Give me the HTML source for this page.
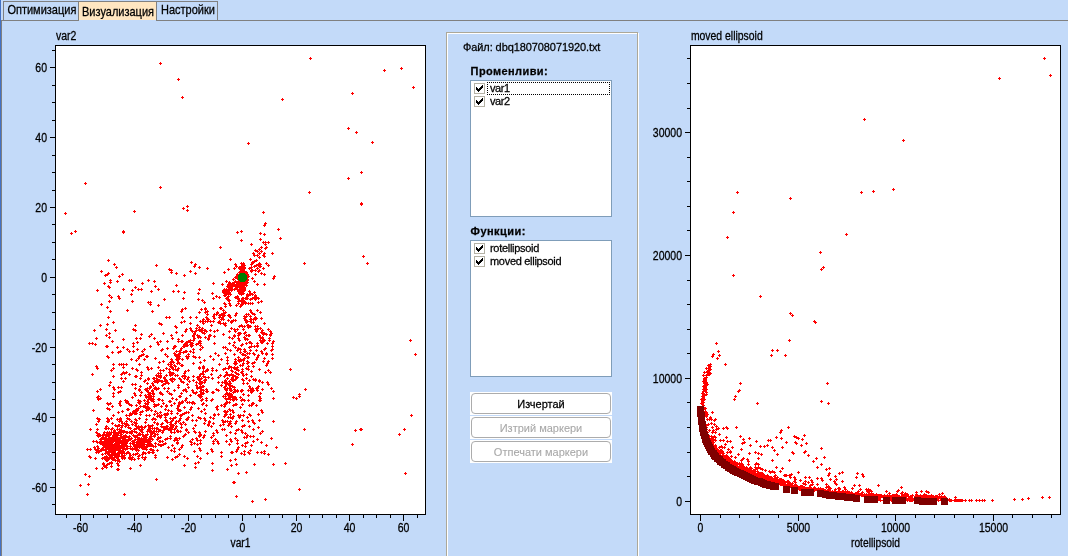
<!DOCTYPE html>
<html lang="bg">
<head>
<meta charset="utf-8">
<title>Визуализация</title>
<style>
html,body{margin:0;padding:0}
body{width:1068px;height:556px;overflow:hidden;position:relative;background:#c3daf9;font-family:"Liberation Sans",sans-serif;font-size:11px;color:#000;line-height:13px;-webkit-text-stroke:0.25px #000}
.abs{position:absolute}
.edge{position:absolute;left:0;top:0;width:1px;height:556px;background:#4371c5}
.line{position:absolute;background:#808080}
.tab{position:absolute;top:1px;height:20px;box-sizing:border-box;border:1px solid #808080;white-space:nowrap}
.tab span{position:absolute;left:0;top:0;transform-origin:0 100%;transform:scaleY(1.12)}
.tab.sel{background:#ffe6c1;border-width:1px 0 0 0;}
.panel{position:absolute;left:446px;top:32px;width:193px;height:540px}
.panel i{position:absolute;box-sizing:border-box;border:1px solid #fff;left:1px;top:1px;width:192px;height:540px}
.panel b{position:absolute;box-sizing:border-box;border:1px solid #aca899;left:0;top:0;width:192px;height:540px}
.lbl{position:absolute;white-space:nowrap;transform-origin:0 80%;transform:scaleY(1.07)}
.bold{font-weight:bold}
.list{position:absolute;left:470px;width:142px;height:137px;box-sizing:border-box;border:1px solid #7f9db9;background:#fff}
.item{position:absolute;left:3px;height:13px;white-space:nowrap}
.cb{position:absolute;left:0;top:1px;width:11px;height:11px;box-sizing:border-box;border:1px solid #b5b2a5;background:#fff}
.cb svg{position:absolute;left:0;top:0}
.item span{position:absolute;left:16px;top:0;line-height:13px;transform-origin:0 80%;transform:scaleY(1.07);letter-spacing:-0.3px}
.focus{position:absolute;left:16px;top:1px;width:123px;height:13px;box-sizing:border-box;border:1px dotted #000}
.btnw{position:absolute;left:470px;width:142px;height:23px;background:#fff}
.btn{position:absolute;left:1px;top:1px;width:140px;height:21px;box-sizing:border-box;border:1px solid #acacac;border-radius:4px;text-align:center;line-height:20px;white-space:nowrap}
.btn span{display:inline-block;transform-origin:50% 80%;transform:scaleY(1.07)}
.dis{color:#a8a8a8;-webkit-text-stroke:0.1px #a8a8a8}
</style>
</head>
<body>
<div class="edge"></div>
<div class="line" style="left:1px;top:20px;width:78px;height:1px"></div>
<div class="line" style="left:156px;top:20px;width:912px;height:1px"></div>
<div class="line" style="left:1px;top:20px;width:1px;height:536px"></div>
<div class="tab" style="left:3px;width:76px"><span style="left:3.4px;top:2px">Оптимизация</span></div>
<div class="tab sel" style="left:79px;width:77px;height:19px"><span style="left:3px;top:4px">Визуализация</span></div>
<div class="tab" style="left:156px;width:62px"><span style="left:4px;top:2px">Настройки</span></div>

<svg width="1068" height="556" viewBox="0 0 1068 556" shape-rendering="crispEdges" style="position:absolute;left:0;top:0" font-family="'Liberation Sans', sans-serif" font-size="11" fill="#000" stroke="#000" stroke-width="0.25">
<rect x="55" y="45" width="371" height="470" fill="#fff" stroke="none"/>
<path d="M65 212h1v1h1v1h-1v1h-1v-1h-1v-1h1zM71 232h1v1h1v1h-1v1h-1v-1h-1v-1h1zM75 230h1v1h1v1h-1v1h-1v-1h-1v-1h1zM80 484h1v1h1v1h-1v1h-1v-1h-1v-1h1zM85 182h1v1h1v1h-1v1h-1v-1h-1v-1h1zM85 473h1v1h1v1h-1v1h-1v-1h-1v-1h1zM87 448h1v1h1v1h-1v1h-1v-1h-1v-1h1zM87 493h1v1h1v1h-1v1h-1v-1h-1v-1h1zM88 483h1v1h1v1h-1v1h-1v-1h-1v-1h1zM89 342h1v1h1v1h-1v1h-1v-1h-1v-1h1zM89 455h1v1h1v1h-1v1h-1v-1h-1v-1h1zM89 475h1v1h1v1h-1v1h-1v-1h-1v-1h1zM90 428h1v1h1v1h-1v1h-1v-1h-1v-1h1zM90 448h1v1h1v1h-1v1h-1v-1h-1v-1h1zM90 456h1v1h1v1h-1v1h-1v-1h-1v-1h1zM92 342h1v1h1v1h-1v1h-1v-1h-1v-1h1zM92 373h1v1h1v1h-1v1h-1v-1h-1v-1h1zM93 409h1v1h1v1h-1v1h-1v-1h-1v-1h1zM93 440h1v1h1v1h-1v1h-1v-1h-1v-1h1zM94 329h1v1h1v1h-1v1h-1v-1h-1v-1h1zM94 446h1v1h1v1h-1v1h-1v-1h-1v-1h1zM95 343h1v1h1v1h-1v1h-1v-1h-1v-1h1zM95 448h1v1h1v1h-1v1h-1v-1h-1v-1h1zM95 457h1v1h1v1h-1v1h-1v-1h-1v-1h1zM96 337h1v1h1v1h-1v1h-1v-1h-1v-1h1zM96 365h1v1h1v1h-1v1h-1v-1h-1v-1h1zM96 423h1v1h1v1h-1v1h-1v-1h-1v-1h1zM96 431h1v1h1v1h-1v1h-1v-1h-1v-1h1zM96 440h1v1h1v1h-1v1h-1v-1h-1v-1h1zM96 449h1v1h1v1h-1v1h-1v-1h-1v-1h1zM96 451h1v1h1v1h-1v1h-1v-1h-1v-1h1zM96 467h1v1h1v1h-1v1h-1v-1h-1v-1h1zM97 289h1v1h1v1h-1v1h-1v-1h-1v-1h1zM97 367h1v1h1v1h-1v1h-1v-1h-1v-1h1zM97 390h1v1h1v1h-1v1h-1v-1h-1v-1h1zM97 396h1v1h1v1h-1v1h-1v-1h-1v-1h1zM97 417h1v1h1v1h-1v1h-1v-1h-1v-1h1zM97 428h1v1h1v1h-1v1h-1v-1h-1v-1h1zM97 432h1v1h1v1h-1v1h-1v-1h-1v-1h1zM97 434h1v1h1v1h-1v1h-1v-1h-1v-1h1zM97 441h1v1h1v1h-1v1h-1v-1h-1v-1h1zM97 445h1v1h1v1h-1v1h-1v-1h-1v-1h1zM97 448h1v1h1v1h-1v1h-1v-1h-1v-1h1zM98 395h1v1h1v1h-1v1h-1v-1h-1v-1h1zM98 398h1v1h1v1h-1v1h-1v-1h-1v-1h1zM98 420h1v1h1v1h-1v1h-1v-1h-1v-1h1zM98 435h1v1h1v1h-1v1h-1v-1h-1v-1h1zM98 447h1v1h1v1h-1v1h-1v-1h-1v-1h1zM98 450h1v1h1v1h-1v1h-1v-1h-1v-1h1zM98 451h1v1h1v1h-1v1h-1v-1h-1v-1h1zM99 418h1v1h1v1h-1v1h-1v-1h-1v-1h1zM99 433h1v1h1v1h-1v1h-1v-1h-1v-1h1zM99 441h1v1h1v1h-1v1h-1v-1h-1v-1h1zM100 324h1v1h1v1h-1v1h-1v-1h-1v-1h1zM100 388h1v1h1v1h-1v1h-1v-1h-1v-1h1zM100 397h1v1h1v1h-1v1h-1v-1h-1v-1h1zM100 434h1v1h1v1h-1v1h-1v-1h-1v-1h1zM100 438h1v1h1v1h-1v1h-1v-1h-1v-1h1zM100 442h1v1h1v1h-1v1h-1v-1h-1v-1h1zM100 449h1v1h1v1h-1v1h-1v-1h-1v-1h1zM101 270h1v1h1v1h-1v1h-1v-1h-1v-1h1zM101 303h1v1h1v1h-1v1h-1v-1h-1v-1h1zM101 438h1v1h1v1h-1v1h-1v-1h-1v-1h1zM101 440h1v1h1v1h-1v1h-1v-1h-1v-1h1zM101 442h1v1h1v1h-1v1h-1v-1h-1v-1h1zM101 448h1v1h1v1h-1v1h-1v-1h-1v-1h1zM101 449h1v1h1v1h-1v1h-1v-1h-1v-1h1zM102 434h1v1h1v1h-1v1h-1v-1h-1v-1h1zM102 436h1v1h1v1h-1v1h-1v-1h-1v-1h1zM102 441h1v1h1v1h-1v1h-1v-1h-1v-1h1zM102 442h1v1h1v1h-1v1h-1v-1h-1v-1h1zM102 447h1v1h1v1h-1v1h-1v-1h-1v-1h1zM102 448h1v1h1v1h-1v1h-1v-1h-1v-1h1zM102 453h1v1h1v1h-1v1h-1v-1h-1v-1h1zM102 457h1v1h1v1h-1v1h-1v-1h-1v-1h1zM102 467h1v1h1v1h-1v1h-1v-1h-1v-1h1zM103 433h1v1h1v1h-1v1h-1v-1h-1v-1h1zM103 436h1v1h1v1h-1v1h-1v-1h-1v-1h1zM103 444h1v1h1v1h-1v1h-1v-1h-1v-1h1zM103 446h1v1h1v1h-1v1h-1v-1h-1v-1h1zM103 448h1v1h1v1h-1v1h-1v-1h-1v-1h1zM103 462h1v1h1v1h-1v1h-1v-1h-1v-1h1zM103 463h1v1h1v1h-1v1h-1v-1h-1v-1h1zM104 282h1v1h1v1h-1v1h-1v-1h-1v-1h1zM104 431h1v1h1v1h-1v1h-1v-1h-1v-1h1zM104 438h1v1h1v1h-1v1h-1v-1h-1v-1h1zM104 440h1v1h1v1h-1v1h-1v-1h-1v-1h1zM104 441h1v1h1v1h-1v1h-1v-1h-1v-1h1zM104 442h1v1h1v1h-1v1h-1v-1h-1v-1h1zM104 444h1v1h1v1h-1v1h-1v-1h-1v-1h1zM104 456h1v1h1v1h-1v1h-1v-1h-1v-1h1zM104 465h1v1h1v1h-1v1h-1v-1h-1v-1h1zM105 274h1v1h1v1h-1v1h-1v-1h-1v-1h1zM105 427h1v1h1v1h-1v1h-1v-1h-1v-1h1zM105 434h1v1h1v1h-1v1h-1v-1h-1v-1h1zM105 437h1v1h1v1h-1v1h-1v-1h-1v-1h1zM105 440h1v1h1v1h-1v1h-1v-1h-1v-1h1zM105 441h1v1h1v1h-1v1h-1v-1h-1v-1h1zM105 443h1v1h1v1h-1v1h-1v-1h-1v-1h1zM105 445h1v1h1v1h-1v1h-1v-1h-1v-1h1zM105 446h1v1h1v1h-1v1h-1v-1h-1v-1h1zM105 448h1v1h1v1h-1v1h-1v-1h-1v-1h1zM105 449h1v1h1v1h-1v1h-1v-1h-1v-1h1zM105 452h1v1h1v1h-1v1h-1v-1h-1v-1h1zM105 458h1v1h1v1h-1v1h-1v-1h-1v-1h1zM106 328h1v1h1v1h-1v1h-1v-1h-1v-1h1zM106 334h1v1h1v1h-1v1h-1v-1h-1v-1h1zM106 345h1v1h1v1h-1v1h-1v-1h-1v-1h1zM106 425h1v1h1v1h-1v1h-1v-1h-1v-1h1zM106 427h1v1h1v1h-1v1h-1v-1h-1v-1h1zM106 433h1v1h1v1h-1v1h-1v-1h-1v-1h1zM106 434h1v1h1v1h-1v1h-1v-1h-1v-1h1zM106 437h1v1h1v1h-1v1h-1v-1h-1v-1h1zM106 440h1v1h1v1h-1v1h-1v-1h-1v-1h1zM106 443h1v1h1v1h-1v1h-1v-1h-1v-1h1zM106 447h1v1h1v1h-1v1h-1v-1h-1v-1h1zM106 450h1v1h1v1h-1v1h-1v-1h-1v-1h1zM106 455h1v1h1v1h-1v1h-1v-1h-1v-1h1zM106 456h1v1h1v1h-1v1h-1v-1h-1v-1h1zM106 459h1v1h1v1h-1v1h-1v-1h-1v-1h1zM106 464h1v1h1v1h-1v1h-1v-1h-1v-1h1zM106 466h1v1h1v1h-1v1h-1v-1h-1v-1h1zM107 273h1v1h1v1h-1v1h-1v-1h-1v-1h1zM107 306h1v1h1v1h-1v1h-1v-1h-1v-1h1zM107 323h1v1h1v1h-1v1h-1v-1h-1v-1h1zM107 345h1v1h1v1h-1v1h-1v-1h-1v-1h1zM107 355h1v1h1v1h-1v1h-1v-1h-1v-1h1zM107 402h1v1h1v1h-1v1h-1v-1h-1v-1h1zM107 407h1v1h1v1h-1v1h-1v-1h-1v-1h1zM107 417h1v1h1v1h-1v1h-1v-1h-1v-1h1zM107 420h1v1h1v1h-1v1h-1v-1h-1v-1h1zM107 431h1v1h1v1h-1v1h-1v-1h-1v-1h1zM107 434h1v1h1v1h-1v1h-1v-1h-1v-1h1zM107 439h1v1h1v1h-1v1h-1v-1h-1v-1h1zM107 441h1v1h1v1h-1v1h-1v-1h-1v-1h1zM107 442h1v1h1v1h-1v1h-1v-1h-1v-1h1zM107 443h1v1h1v1h-1v1h-1v-1h-1v-1h1zM107 444h1v1h1v1h-1v1h-1v-1h-1v-1h1zM107 445h1v1h1v1h-1v1h-1v-1h-1v-1h1zM107 446h1v1h1v1h-1v1h-1v-1h-1v-1h1zM107 452h1v1h1v1h-1v1h-1v-1h-1v-1h1zM107 456h1v1h1v1h-1v1h-1v-1h-1v-1h1zM107 458h1v1h1v1h-1v1h-1v-1h-1v-1h1zM107 459h1v1h1v1h-1v1h-1v-1h-1v-1h1zM107 463h1v1h1v1h-1v1h-1v-1h-1v-1h1zM108 259h1v1h1v1h-1v1h-1v-1h-1v-1h1zM108 272h1v1h1v1h-1v1h-1v-1h-1v-1h1zM108 285h1v1h1v1h-1v1h-1v-1h-1v-1h1zM108 316h1v1h1v1h-1v1h-1v-1h-1v-1h1zM108 356h1v1h1v1h-1v1h-1v-1h-1v-1h1zM108 403h1v1h1v1h-1v1h-1v-1h-1v-1h1zM108 418h1v1h1v1h-1v1h-1v-1h-1v-1h1zM108 419h1v1h1v1h-1v1h-1v-1h-1v-1h1zM108 420h1v1h1v1h-1v1h-1v-1h-1v-1h1zM108 427h1v1h1v1h-1v1h-1v-1h-1v-1h1zM108 434h1v1h1v1h-1v1h-1v-1h-1v-1h1zM108 435h1v1h1v1h-1v1h-1v-1h-1v-1h1zM108 439h1v1h1v1h-1v1h-1v-1h-1v-1h1zM108 440h1v1h1v1h-1v1h-1v-1h-1v-1h1zM108 441h1v1h1v1h-1v1h-1v-1h-1v-1h1zM108 442h1v1h1v1h-1v1h-1v-1h-1v-1h1zM108 446h1v1h1v1h-1v1h-1v-1h-1v-1h1zM108 447h1v1h1v1h-1v1h-1v-1h-1v-1h1zM108 448h1v1h1v1h-1v1h-1v-1h-1v-1h1zM108 450h1v1h1v1h-1v1h-1v-1h-1v-1h1zM108 452h1v1h1v1h-1v1h-1v-1h-1v-1h1zM108 457h1v1h1v1h-1v1h-1v-1h-1v-1h1zM109 286h1v1h1v1h-1v1h-1v-1h-1v-1h1zM109 294h1v1h1v1h-1v1h-1v-1h-1v-1h1zM109 300h1v1h1v1h-1v1h-1v-1h-1v-1h1zM109 332h1v1h1v1h-1v1h-1v-1h-1v-1h1zM109 336h1v1h1v1h-1v1h-1v-1h-1v-1h1zM109 384h1v1h1v1h-1v1h-1v-1h-1v-1h1zM109 408h1v1h1v1h-1v1h-1v-1h-1v-1h1zM109 431h1v1h1v1h-1v1h-1v-1h-1v-1h1zM109 432h1v1h1v1h-1v1h-1v-1h-1v-1h1zM109 433h1v1h1v1h-1v1h-1v-1h-1v-1h1zM109 436h1v1h1v1h-1v1h-1v-1h-1v-1h1zM109 437h1v1h1v1h-1v1h-1v-1h-1v-1h1zM109 438h1v1h1v1h-1v1h-1v-1h-1v-1h1zM109 439h1v1h1v1h-1v1h-1v-1h-1v-1h1zM109 441h1v1h1v1h-1v1h-1v-1h-1v-1h1zM109 442h1v1h1v1h-1v1h-1v-1h-1v-1h1zM109 443h1v1h1v1h-1v1h-1v-1h-1v-1h1zM109 448h1v1h1v1h-1v1h-1v-1h-1v-1h1zM109 449h1v1h1v1h-1v1h-1v-1h-1v-1h1zM109 451h1v1h1v1h-1v1h-1v-1h-1v-1h1zM109 453h1v1h1v1h-1v1h-1v-1h-1v-1h1zM109 454h1v1h1v1h-1v1h-1v-1h-1v-1h1zM109 456h1v1h1v1h-1v1h-1v-1h-1v-1h1zM109 457h1v1h1v1h-1v1h-1v-1h-1v-1h1zM109 462h1v1h1v1h-1v1h-1v-1h-1v-1h1zM110 279h1v1h1v1h-1v1h-1v-1h-1v-1h1zM110 281h1v1h1v1h-1v1h-1v-1h-1v-1h1zM110 310h1v1h1v1h-1v1h-1v-1h-1v-1h1zM110 381h1v1h1v1h-1v1h-1v-1h-1v-1h1zM110 402h1v1h1v1h-1v1h-1v-1h-1v-1h1zM110 432h1v1h1v1h-1v1h-1v-1h-1v-1h1zM110 433h1v1h1v1h-1v1h-1v-1h-1v-1h1zM110 438h1v1h1v1h-1v1h-1v-1h-1v-1h1zM110 439h1v1h1v1h-1v1h-1v-1h-1v-1h1zM110 440h1v1h1v1h-1v1h-1v-1h-1v-1h1zM110 441h1v1h1v1h-1v1h-1v-1h-1v-1h1zM110 442h1v1h1v1h-1v1h-1v-1h-1v-1h1zM110 443h1v1h1v1h-1v1h-1v-1h-1v-1h1zM110 444h1v1h1v1h-1v1h-1v-1h-1v-1h1zM110 445h1v1h1v1h-1v1h-1v-1h-1v-1h1zM110 446h1v1h1v1h-1v1h-1v-1h-1v-1h1zM110 448h1v1h1v1h-1v1h-1v-1h-1v-1h1zM110 449h1v1h1v1h-1v1h-1v-1h-1v-1h1zM110 456h1v1h1v1h-1v1h-1v-1h-1v-1h1zM111 296h1v1h1v1h-1v1h-1v-1h-1v-1h1zM111 369h1v1h1v1h-1v1h-1v-1h-1v-1h1zM111 417h1v1h1v1h-1v1h-1v-1h-1v-1h1zM111 428h1v1h1v1h-1v1h-1v-1h-1v-1h1zM111 431h1v1h1v1h-1v1h-1v-1h-1v-1h1zM111 438h1v1h1v1h-1v1h-1v-1h-1v-1h1zM111 439h1v1h1v1h-1v1h-1v-1h-1v-1h1zM111 440h1v1h1v1h-1v1h-1v-1h-1v-1h1zM111 442h1v1h1v1h-1v1h-1v-1h-1v-1h1zM111 443h1v1h1v1h-1v1h-1v-1h-1v-1h1zM111 444h1v1h1v1h-1v1h-1v-1h-1v-1h1zM111 445h1v1h1v1h-1v1h-1v-1h-1v-1h1zM111 447h1v1h1v1h-1v1h-1v-1h-1v-1h1zM111 448h1v1h1v1h-1v1h-1v-1h-1v-1h1zM111 450h1v1h1v1h-1v1h-1v-1h-1v-1h1zM111 454h1v1h1v1h-1v1h-1v-1h-1v-1h1zM111 461h1v1h1v1h-1v1h-1v-1h-1v-1h1zM111 462h1v1h1v1h-1v1h-1v-1h-1v-1h1zM111 465h1v1h1v1h-1v1h-1v-1h-1v-1h1zM112 340h1v1h1v1h-1v1h-1v-1h-1v-1h1zM112 351h1v1h1v1h-1v1h-1v-1h-1v-1h1zM112 405h1v1h1v1h-1v1h-1v-1h-1v-1h1zM112 422h1v1h1v1h-1v1h-1v-1h-1v-1h1zM112 427h1v1h1v1h-1v1h-1v-1h-1v-1h1zM112 436h1v1h1v1h-1v1h-1v-1h-1v-1h1zM112 439h1v1h1v1h-1v1h-1v-1h-1v-1h1zM112 440h1v1h1v1h-1v1h-1v-1h-1v-1h1zM112 444h1v1h1v1h-1v1h-1v-1h-1v-1h1zM112 446h1v1h1v1h-1v1h-1v-1h-1v-1h1zM112 447h1v1h1v1h-1v1h-1v-1h-1v-1h1zM112 448h1v1h1v1h-1v1h-1v-1h-1v-1h1zM112 450h1v1h1v1h-1v1h-1v-1h-1v-1h1zM112 452h1v1h1v1h-1v1h-1v-1h-1v-1h1zM112 454h1v1h1v1h-1v1h-1v-1h-1v-1h1zM112 456h1v1h1v1h-1v1h-1v-1h-1v-1h1zM112 457h1v1h1v1h-1v1h-1v-1h-1v-1h1zM112 458h1v1h1v1h-1v1h-1v-1h-1v-1h1zM113 321h1v1h1v1h-1v1h-1v-1h-1v-1h1zM113 363h1v1h1v1h-1v1h-1v-1h-1v-1h1zM113 367h1v1h1v1h-1v1h-1v-1h-1v-1h1zM113 375h1v1h1v1h-1v1h-1v-1h-1v-1h1zM113 386h1v1h1v1h-1v1h-1v-1h-1v-1h1zM113 392h1v1h1v1h-1v1h-1v-1h-1v-1h1zM113 395h1v1h1v1h-1v1h-1v-1h-1v-1h1zM113 414h1v1h1v1h-1v1h-1v-1h-1v-1h1zM113 431h1v1h1v1h-1v1h-1v-1h-1v-1h1zM113 434h1v1h1v1h-1v1h-1v-1h-1v-1h1zM113 436h1v1h1v1h-1v1h-1v-1h-1v-1h1zM113 437h1v1h1v1h-1v1h-1v-1h-1v-1h1zM113 438h1v1h1v1h-1v1h-1v-1h-1v-1h1zM113 440h1v1h1v1h-1v1h-1v-1h-1v-1h1zM113 444h1v1h1v1h-1v1h-1v-1h-1v-1h1zM113 445h1v1h1v1h-1v1h-1v-1h-1v-1h1zM113 446h1v1h1v1h-1v1h-1v-1h-1v-1h1zM113 448h1v1h1v1h-1v1h-1v-1h-1v-1h1zM113 449h1v1h1v1h-1v1h-1v-1h-1v-1h1zM113 450h1v1h1v1h-1v1h-1v-1h-1v-1h1zM113 452h1v1h1v1h-1v1h-1v-1h-1v-1h1zM113 453h1v1h1v1h-1v1h-1v-1h-1v-1h1zM113 457h1v1h1v1h-1v1h-1v-1h-1v-1h1zM113 458h1v1h1v1h-1v1h-1v-1h-1v-1h1zM114 263h1v1h1v1h-1v1h-1v-1h-1v-1h1zM114 388h1v1h1v1h-1v1h-1v-1h-1v-1h1zM114 429h1v1h1v1h-1v1h-1v-1h-1v-1h1zM114 433h1v1h1v1h-1v1h-1v-1h-1v-1h1zM114 438h1v1h1v1h-1v1h-1v-1h-1v-1h1zM114 439h1v1h1v1h-1v1h-1v-1h-1v-1h1zM114 445h1v1h1v1h-1v1h-1v-1h-1v-1h1zM114 446h1v1h1v1h-1v1h-1v-1h-1v-1h1zM114 447h1v1h1v1h-1v1h-1v-1h-1v-1h1zM114 448h1v1h1v1h-1v1h-1v-1h-1v-1h1zM114 451h1v1h1v1h-1v1h-1v-1h-1v-1h1zM114 453h1v1h1v1h-1v1h-1v-1h-1v-1h1zM114 456h1v1h1v1h-1v1h-1v-1h-1v-1h1zM115 329h1v1h1v1h-1v1h-1v-1h-1v-1h1zM115 424h1v1h1v1h-1v1h-1v-1h-1v-1h1zM115 431h1v1h1v1h-1v1h-1v-1h-1v-1h1zM115 432h1v1h1v1h-1v1h-1v-1h-1v-1h1zM115 434h1v1h1v1h-1v1h-1v-1h-1v-1h1zM115 435h1v1h1v1h-1v1h-1v-1h-1v-1h1zM115 437h1v1h1v1h-1v1h-1v-1h-1v-1h1zM115 438h1v1h1v1h-1v1h-1v-1h-1v-1h1zM115 440h1v1h1v1h-1v1h-1v-1h-1v-1h1zM115 442h1v1h1v1h-1v1h-1v-1h-1v-1h1zM115 443h1v1h1v1h-1v1h-1v-1h-1v-1h1zM115 444h1v1h1v1h-1v1h-1v-1h-1v-1h1zM115 445h1v1h1v1h-1v1h-1v-1h-1v-1h1zM115 446h1v1h1v1h-1v1h-1v-1h-1v-1h1zM115 448h1v1h1v1h-1v1h-1v-1h-1v-1h1zM115 449h1v1h1v1h-1v1h-1v-1h-1v-1h1zM115 453h1v1h1v1h-1v1h-1v-1h-1v-1h1zM115 455h1v1h1v1h-1v1h-1v-1h-1v-1h1zM115 459h1v1h1v1h-1v1h-1v-1h-1v-1h1zM116 266h1v1h1v1h-1v1h-1v-1h-1v-1h1zM116 433h1v1h1v1h-1v1h-1v-1h-1v-1h1zM116 434h1v1h1v1h-1v1h-1v-1h-1v-1h1zM116 435h1v1h1v1h-1v1h-1v-1h-1v-1h1zM116 438h1v1h1v1h-1v1h-1v-1h-1v-1h1zM116 439h1v1h1v1h-1v1h-1v-1h-1v-1h1zM116 440h1v1h1v1h-1v1h-1v-1h-1v-1h1zM116 442h1v1h1v1h-1v1h-1v-1h-1v-1h1zM116 443h1v1h1v1h-1v1h-1v-1h-1v-1h1zM116 445h1v1h1v1h-1v1h-1v-1h-1v-1h1zM116 446h1v1h1v1h-1v1h-1v-1h-1v-1h1zM116 447h1v1h1v1h-1v1h-1v-1h-1v-1h1zM116 448h1v1h1v1h-1v1h-1v-1h-1v-1h1zM116 453h1v1h1v1h-1v1h-1v-1h-1v-1h1zM116 454h1v1h1v1h-1v1h-1v-1h-1v-1h1zM116 456h1v1h1v1h-1v1h-1v-1h-1v-1h1zM117 280h1v1h1v1h-1v1h-1v-1h-1v-1h1zM117 346h1v1h1v1h-1v1h-1v-1h-1v-1h1zM117 418h1v1h1v1h-1v1h-1v-1h-1v-1h1zM117 425h1v1h1v1h-1v1h-1v-1h-1v-1h1zM117 428h1v1h1v1h-1v1h-1v-1h-1v-1h1zM117 434h1v1h1v1h-1v1h-1v-1h-1v-1h1zM117 437h1v1h1v1h-1v1h-1v-1h-1v-1h1zM117 438h1v1h1v1h-1v1h-1v-1h-1v-1h1zM117 441h1v1h1v1h-1v1h-1v-1h-1v-1h1zM117 442h1v1h1v1h-1v1h-1v-1h-1v-1h1zM117 444h1v1h1v1h-1v1h-1v-1h-1v-1h1zM117 447h1v1h1v1h-1v1h-1v-1h-1v-1h1zM117 448h1v1h1v1h-1v1h-1v-1h-1v-1h1zM117 453h1v1h1v1h-1v1h-1v-1h-1v-1h1zM117 454h1v1h1v1h-1v1h-1v-1h-1v-1h1zM117 455h1v1h1v1h-1v1h-1v-1h-1v-1h1zM117 456h1v1h1v1h-1v1h-1v-1h-1v-1h1zM117 459h1v1h1v1h-1v1h-1v-1h-1v-1h1zM117 462h1v1h1v1h-1v1h-1v-1h-1v-1h1zM117 468h1v1h1v1h-1v1h-1v-1h-1v-1h1zM118 295h1v1h1v1h-1v1h-1v-1h-1v-1h1zM118 351h1v1h1v1h-1v1h-1v-1h-1v-1h1zM118 386h1v1h1v1h-1v1h-1v-1h-1v-1h1zM118 391h1v1h1v1h-1v1h-1v-1h-1v-1h1zM118 411h1v1h1v1h-1v1h-1v-1h-1v-1h1zM118 424h1v1h1v1h-1v1h-1v-1h-1v-1h1zM118 431h1v1h1v1h-1v1h-1v-1h-1v-1h1zM118 432h1v1h1v1h-1v1h-1v-1h-1v-1h1zM118 437h1v1h1v1h-1v1h-1v-1h-1v-1h1zM118 438h1v1h1v1h-1v1h-1v-1h-1v-1h1zM118 440h1v1h1v1h-1v1h-1v-1h-1v-1h1zM118 441h1v1h1v1h-1v1h-1v-1h-1v-1h1zM118 442h1v1h1v1h-1v1h-1v-1h-1v-1h1zM118 444h1v1h1v1h-1v1h-1v-1h-1v-1h1zM118 448h1v1h1v1h-1v1h-1v-1h-1v-1h1zM118 449h1v1h1v1h-1v1h-1v-1h-1v-1h1zM118 451h1v1h1v1h-1v1h-1v-1h-1v-1h1zM118 452h1v1h1v1h-1v1h-1v-1h-1v-1h1zM118 453h1v1h1v1h-1v1h-1v-1h-1v-1h1zM118 454h1v1h1v1h-1v1h-1v-1h-1v-1h1zM118 455h1v1h1v1h-1v1h-1v-1h-1v-1h1zM118 458h1v1h1v1h-1v1h-1v-1h-1v-1h1zM118 464h1v1h1v1h-1v1h-1v-1h-1v-1h1zM118 468h1v1h1v1h-1v1h-1v-1h-1v-1h1zM119 275h1v1h1v1h-1v1h-1v-1h-1v-1h1zM119 297h1v1h1v1h-1v1h-1v-1h-1v-1h1zM119 363h1v1h1v1h-1v1h-1v-1h-1v-1h1zM119 402h1v1h1v1h-1v1h-1v-1h-1v-1h1zM119 420h1v1h1v1h-1v1h-1v-1h-1v-1h1zM119 424h1v1h1v1h-1v1h-1v-1h-1v-1h1zM119 428h1v1h1v1h-1v1h-1v-1h-1v-1h1zM119 440h1v1h1v1h-1v1h-1v-1h-1v-1h1zM119 441h1v1h1v1h-1v1h-1v-1h-1v-1h1zM119 444h1v1h1v1h-1v1h-1v-1h-1v-1h1zM119 445h1v1h1v1h-1v1h-1v-1h-1v-1h1zM119 446h1v1h1v1h-1v1h-1v-1h-1v-1h1zM119 448h1v1h1v1h-1v1h-1v-1h-1v-1h1zM119 449h1v1h1v1h-1v1h-1v-1h-1v-1h1zM119 450h1v1h1v1h-1v1h-1v-1h-1v-1h1zM119 460h1v1h1v1h-1v1h-1v-1h-1v-1h1zM120 350h1v1h1v1h-1v1h-1v-1h-1v-1h1zM120 390h1v1h1v1h-1v1h-1v-1h-1v-1h1zM120 400h1v1h1v1h-1v1h-1v-1h-1v-1h1zM120 404h1v1h1v1h-1v1h-1v-1h-1v-1h1zM120 417h1v1h1v1h-1v1h-1v-1h-1v-1h1zM120 418h1v1h1v1h-1v1h-1v-1h-1v-1h1zM120 419h1v1h1v1h-1v1h-1v-1h-1v-1h1zM120 430h1v1h1v1h-1v1h-1v-1h-1v-1h1zM120 431h1v1h1v1h-1v1h-1v-1h-1v-1h1zM120 434h1v1h1v1h-1v1h-1v-1h-1v-1h1zM120 436h1v1h1v1h-1v1h-1v-1h-1v-1h1zM120 439h1v1h1v1h-1v1h-1v-1h-1v-1h1zM120 447h1v1h1v1h-1v1h-1v-1h-1v-1h1zM120 449h1v1h1v1h-1v1h-1v-1h-1v-1h1zM120 450h1v1h1v1h-1v1h-1v-1h-1v-1h1zM121 363h1v1h1v1h-1v1h-1v-1h-1v-1h1zM121 373h1v1h1v1h-1v1h-1v-1h-1v-1h1zM121 377h1v1h1v1h-1v1h-1v-1h-1v-1h1zM121 386h1v1h1v1h-1v1h-1v-1h-1v-1h1zM121 420h1v1h1v1h-1v1h-1v-1h-1v-1h1zM121 426h1v1h1v1h-1v1h-1v-1h-1v-1h1zM121 429h1v1h1v1h-1v1h-1v-1h-1v-1h1zM121 431h1v1h1v1h-1v1h-1v-1h-1v-1h1zM121 433h1v1h1v1h-1v1h-1v-1h-1v-1h1zM121 435h1v1h1v1h-1v1h-1v-1h-1v-1h1zM121 440h1v1h1v1h-1v1h-1v-1h-1v-1h1zM121 441h1v1h1v1h-1v1h-1v-1h-1v-1h1zM121 442h1v1h1v1h-1v1h-1v-1h-1v-1h1zM121 445h1v1h1v1h-1v1h-1v-1h-1v-1h1zM121 451h1v1h1v1h-1v1h-1v-1h-1v-1h1zM121 452h1v1h1v1h-1v1h-1v-1h-1v-1h1zM121 455h1v1h1v1h-1v1h-1v-1h-1v-1h1zM122 273h1v1h1v1h-1v1h-1v-1h-1v-1h1zM122 372h1v1h1v1h-1v1h-1v-1h-1v-1h1zM122 410h1v1h1v1h-1v1h-1v-1h-1v-1h1zM122 422h1v1h1v1h-1v1h-1v-1h-1v-1h1zM122 424h1v1h1v1h-1v1h-1v-1h-1v-1h1zM122 437h1v1h1v1h-1v1h-1v-1h-1v-1h1zM122 442h1v1h1v1h-1v1h-1v-1h-1v-1h1zM122 445h1v1h1v1h-1v1h-1v-1h-1v-1h1zM122 446h1v1h1v1h-1v1h-1v-1h-1v-1h1zM122 449h1v1h1v1h-1v1h-1v-1h-1v-1h1zM122 454h1v1h1v1h-1v1h-1v-1h-1v-1h1zM122 457h1v1h1v1h-1v1h-1v-1h-1v-1h1zM123 230h1v1h1v1h-1v1h-1v-1h-1v-1h1zM123 231h1v1h1v1h-1v1h-1v-1h-1v-1h1zM123 288h1v1h1v1h-1v1h-1v-1h-1v-1h1zM123 338h1v1h1v1h-1v1h-1v-1h-1v-1h1zM123 346h1v1h1v1h-1v1h-1v-1h-1v-1h1zM123 363h1v1h1v1h-1v1h-1v-1h-1v-1h1zM123 366h1v1h1v1h-1v1h-1v-1h-1v-1h1zM123 371h1v1h1v1h-1v1h-1v-1h-1v-1h1zM123 380h1v1h1v1h-1v1h-1v-1h-1v-1h1zM123 430h1v1h1v1h-1v1h-1v-1h-1v-1h1zM123 431h1v1h1v1h-1v1h-1v-1h-1v-1h1zM123 435h1v1h1v1h-1v1h-1v-1h-1v-1h1zM123 436h1v1h1v1h-1v1h-1v-1h-1v-1h1zM123 437h1v1h1v1h-1v1h-1v-1h-1v-1h1zM123 438h1v1h1v1h-1v1h-1v-1h-1v-1h1zM123 439h1v1h1v1h-1v1h-1v-1h-1v-1h1zM123 440h1v1h1v1h-1v1h-1v-1h-1v-1h1zM123 441h1v1h1v1h-1v1h-1v-1h-1v-1h1zM123 445h1v1h1v1h-1v1h-1v-1h-1v-1h1zM123 447h1v1h1v1h-1v1h-1v-1h-1v-1h1zM123 450h1v1h1v1h-1v1h-1v-1h-1v-1h1zM123 455h1v1h1v1h-1v1h-1v-1h-1v-1h1zM124 372h1v1h1v1h-1v1h-1v-1h-1v-1h1zM124 422h1v1h1v1h-1v1h-1v-1h-1v-1h1zM124 430h1v1h1v1h-1v1h-1v-1h-1v-1h1zM124 436h1v1h1v1h-1v1h-1v-1h-1v-1h1zM124 439h1v1h1v1h-1v1h-1v-1h-1v-1h1zM124 443h1v1h1v1h-1v1h-1v-1h-1v-1h1zM124 445h1v1h1v1h-1v1h-1v-1h-1v-1h1zM124 452h1v1h1v1h-1v1h-1v-1h-1v-1h1zM124 454h1v1h1v1h-1v1h-1v-1h-1v-1h1zM124 456h1v1h1v1h-1v1h-1v-1h-1v-1h1zM124 457h1v1h1v1h-1v1h-1v-1h-1v-1h1zM124 493h1v1h1v1h-1v1h-1v-1h-1v-1h1zM125 377h1v1h1v1h-1v1h-1v-1h-1v-1h1zM125 399h1v1h1v1h-1v1h-1v-1h-1v-1h1zM125 425h1v1h1v1h-1v1h-1v-1h-1v-1h1zM125 434h1v1h1v1h-1v1h-1v-1h-1v-1h1zM125 438h1v1h1v1h-1v1h-1v-1h-1v-1h1zM125 441h1v1h1v1h-1v1h-1v-1h-1v-1h1zM125 442h1v1h1v1h-1v1h-1v-1h-1v-1h1zM125 443h1v1h1v1h-1v1h-1v-1h-1v-1h1zM125 444h1v1h1v1h-1v1h-1v-1h-1v-1h1zM125 448h1v1h1v1h-1v1h-1v-1h-1v-1h1zM126 363h1v1h1v1h-1v1h-1v-1h-1v-1h1zM126 371h1v1h1v1h-1v1h-1v-1h-1v-1h1zM126 401h1v1h1v1h-1v1h-1v-1h-1v-1h1zM126 414h1v1h1v1h-1v1h-1v-1h-1v-1h1zM126 420h1v1h1v1h-1v1h-1v-1h-1v-1h1zM126 423h1v1h1v1h-1v1h-1v-1h-1v-1h1zM126 431h1v1h1v1h-1v1h-1v-1h-1v-1h1zM126 435h1v1h1v1h-1v1h-1v-1h-1v-1h1zM126 441h1v1h1v1h-1v1h-1v-1h-1v-1h1zM126 442h1v1h1v1h-1v1h-1v-1h-1v-1h1zM126 447h1v1h1v1h-1v1h-1v-1h-1v-1h1zM126 452h1v1h1v1h-1v1h-1v-1h-1v-1h1zM127 309h1v1h1v1h-1v1h-1v-1h-1v-1h1zM127 348h1v1h1v1h-1v1h-1v-1h-1v-1h1zM127 400h1v1h1v1h-1v1h-1v-1h-1v-1h1zM127 408h1v1h1v1h-1v1h-1v-1h-1v-1h1zM127 417h1v1h1v1h-1v1h-1v-1h-1v-1h1zM127 423h1v1h1v1h-1v1h-1v-1h-1v-1h1zM127 431h1v1h1v1h-1v1h-1v-1h-1v-1h1zM127 439h1v1h1v1h-1v1h-1v-1h-1v-1h1zM127 440h1v1h1v1h-1v1h-1v-1h-1v-1h1zM127 445h1v1h1v1h-1v1h-1v-1h-1v-1h1zM127 447h1v1h1v1h-1v1h-1v-1h-1v-1h1zM127 451h1v1h1v1h-1v1h-1v-1h-1v-1h1zM128 402h1v1h1v1h-1v1h-1v-1h-1v-1h1zM128 408h1v1h1v1h-1v1h-1v-1h-1v-1h1zM128 424h1v1h1v1h-1v1h-1v-1h-1v-1h1zM128 426h1v1h1v1h-1v1h-1v-1h-1v-1h1zM128 436h1v1h1v1h-1v1h-1v-1h-1v-1h1zM128 439h1v1h1v1h-1v1h-1v-1h-1v-1h1zM128 451h1v1h1v1h-1v1h-1v-1h-1v-1h1zM129 279h1v1h1v1h-1v1h-1v-1h-1v-1h1zM129 350h1v1h1v1h-1v1h-1v-1h-1v-1h1zM129 373h1v1h1v1h-1v1h-1v-1h-1v-1h1zM129 403h1v1h1v1h-1v1h-1v-1h-1v-1h1zM129 414h1v1h1v1h-1v1h-1v-1h-1v-1h1zM129 418h1v1h1v1h-1v1h-1v-1h-1v-1h1zM129 431h1v1h1v1h-1v1h-1v-1h-1v-1h1zM129 435h1v1h1v1h-1v1h-1v-1h-1v-1h1zM129 438h1v1h1v1h-1v1h-1v-1h-1v-1h1zM129 452h1v1h1v1h-1v1h-1v-1h-1v-1h1zM129 456h1v1h1v1h-1v1h-1v-1h-1v-1h1zM129 457h1v1h1v1h-1v1h-1v-1h-1v-1h1zM130 412h1v1h1v1h-1v1h-1v-1h-1v-1h1zM130 427h1v1h1v1h-1v1h-1v-1h-1v-1h1zM130 438h1v1h1v1h-1v1h-1v-1h-1v-1h1zM130 442h1v1h1v1h-1v1h-1v-1h-1v-1h1zM130 445h1v1h1v1h-1v1h-1v-1h-1v-1h1zM130 447h1v1h1v1h-1v1h-1v-1h-1v-1h1zM130 454h1v1h1v1h-1v1h-1v-1h-1v-1h1zM130 457h1v1h1v1h-1v1h-1v-1h-1v-1h1zM130 467h1v1h1v1h-1v1h-1v-1h-1v-1h1zM131 279h1v1h1v1h-1v1h-1v-1h-1v-1h1zM131 293h1v1h1v1h-1v1h-1v-1h-1v-1h1zM131 358h1v1h1v1h-1v1h-1v-1h-1v-1h1zM131 404h1v1h1v1h-1v1h-1v-1h-1v-1h1zM131 413h1v1h1v1h-1v1h-1v-1h-1v-1h1zM131 420h1v1h1v1h-1v1h-1v-1h-1v-1h1zM131 430h1v1h1v1h-1v1h-1v-1h-1v-1h1zM131 432h1v1h1v1h-1v1h-1v-1h-1v-1h1zM131 437h1v1h1v1h-1v1h-1v-1h-1v-1h1zM131 458h1v1h1v1h-1v1h-1v-1h-1v-1h1zM132 289h1v1h1v1h-1v1h-1v-1h-1v-1h1zM132 300h1v1h1v1h-1v1h-1v-1h-1v-1h1zM132 367h1v1h1v1h-1v1h-1v-1h-1v-1h1zM132 383h1v1h1v1h-1v1h-1v-1h-1v-1h1zM132 396h1v1h1v1h-1v1h-1v-1h-1v-1h1zM132 412h1v1h1v1h-1v1h-1v-1h-1v-1h1zM132 423h1v1h1v1h-1v1h-1v-1h-1v-1h1zM132 430h1v1h1v1h-1v1h-1v-1h-1v-1h1zM132 440h1v1h1v1h-1v1h-1v-1h-1v-1h1zM132 442h1v1h1v1h-1v1h-1v-1h-1v-1h1zM132 447h1v1h1v1h-1v1h-1v-1h-1v-1h1zM132 448h1v1h1v1h-1v1h-1v-1h-1v-1h1zM132 456h1v1h1v1h-1v1h-1v-1h-1v-1h1zM133 328h1v1h1v1h-1v1h-1v-1h-1v-1h1zM133 342h1v1h1v1h-1v1h-1v-1h-1v-1h1zM133 345h1v1h1v1h-1v1h-1v-1h-1v-1h1zM133 350h1v1h1v1h-1v1h-1v-1h-1v-1h1zM133 410h1v1h1v1h-1v1h-1v-1h-1v-1h1zM133 434h1v1h1v1h-1v1h-1v-1h-1v-1h1zM133 440h1v1h1v1h-1v1h-1v-1h-1v-1h1zM133 443h1v1h1v1h-1v1h-1v-1h-1v-1h1zM133 453h1v1h1v1h-1v1h-1v-1h-1v-1h1zM134 210h1v1h1v1h-1v1h-1v-1h-1v-1h1zM134 392h1v1h1v1h-1v1h-1v-1h-1v-1h1zM134 410h1v1h1v1h-1v1h-1v-1h-1v-1h1zM134 412h1v1h1v1h-1v1h-1v-1h-1v-1h1zM134 421h1v1h1v1h-1v1h-1v-1h-1v-1h1zM134 428h1v1h1v1h-1v1h-1v-1h-1v-1h1zM134 430h1v1h1v1h-1v1h-1v-1h-1v-1h1zM134 439h1v1h1v1h-1v1h-1v-1h-1v-1h1zM134 441h1v1h1v1h-1v1h-1v-1h-1v-1h1zM134 445h1v1h1v1h-1v1h-1v-1h-1v-1h1zM134 447h1v1h1v1h-1v1h-1v-1h-1v-1h1zM134 458h1v1h1v1h-1v1h-1v-1h-1v-1h1zM135 286h1v1h1v1h-1v1h-1v-1h-1v-1h1zM135 324h1v1h1v1h-1v1h-1v-1h-1v-1h1zM135 329h1v1h1v1h-1v1h-1v-1h-1v-1h1zM135 375h1v1h1v1h-1v1h-1v-1h-1v-1h1zM135 383h1v1h1v1h-1v1h-1v-1h-1v-1h1zM135 387h1v1h1v1h-1v1h-1v-1h-1v-1h1zM135 394h1v1h1v1h-1v1h-1v-1h-1v-1h1zM135 412h1v1h1v1h-1v1h-1v-1h-1v-1h1zM135 418h1v1h1v1h-1v1h-1v-1h-1v-1h1zM135 424h1v1h1v1h-1v1h-1v-1h-1v-1h1zM135 435h1v1h1v1h-1v1h-1v-1h-1v-1h1zM135 436h1v1h1v1h-1v1h-1v-1h-1v-1h1zM135 438h1v1h1v1h-1v1h-1v-1h-1v-1h1zM135 444h1v1h1v1h-1v1h-1v-1h-1v-1h1zM135 445h1v1h1v1h-1v1h-1v-1h-1v-1h1zM135 447h1v1h1v1h-1v1h-1v-1h-1v-1h1zM135 453h1v1h1v1h-1v1h-1v-1h-1v-1h1zM136 337h1v1h1v1h-1v1h-1v-1h-1v-1h1zM136 359h1v1h1v1h-1v1h-1v-1h-1v-1h1zM136 368h1v1h1v1h-1v1h-1v-1h-1v-1h1zM136 375h1v1h1v1h-1v1h-1v-1h-1v-1h1zM136 404h1v1h1v1h-1v1h-1v-1h-1v-1h1zM136 408h1v1h1v1h-1v1h-1v-1h-1v-1h1zM136 409h1v1h1v1h-1v1h-1v-1h-1v-1h1zM136 412h1v1h1v1h-1v1h-1v-1h-1v-1h1zM136 419h1v1h1v1h-1v1h-1v-1h-1v-1h1zM136 422h1v1h1v1h-1v1h-1v-1h-1v-1h1zM136 425h1v1h1v1h-1v1h-1v-1h-1v-1h1zM136 427h1v1h1v1h-1v1h-1v-1h-1v-1h1zM136 431h1v1h1v1h-1v1h-1v-1h-1v-1h1zM136 441h1v1h1v1h-1v1h-1v-1h-1v-1h1zM136 444h1v1h1v1h-1v1h-1v-1h-1v-1h1zM136 449h1v1h1v1h-1v1h-1v-1h-1v-1h1zM137 341h1v1h1v1h-1v1h-1v-1h-1v-1h1zM137 348h1v1h1v1h-1v1h-1v-1h-1v-1h1zM137 369h1v1h1v1h-1v1h-1v-1h-1v-1h1zM137 409h1v1h1v1h-1v1h-1v-1h-1v-1h1zM137 434h1v1h1v1h-1v1h-1v-1h-1v-1h1zM137 436h1v1h1v1h-1v1h-1v-1h-1v-1h1zM137 438h1v1h1v1h-1v1h-1v-1h-1v-1h1zM137 440h1v1h1v1h-1v1h-1v-1h-1v-1h1zM137 444h1v1h1v1h-1v1h-1v-1h-1v-1h1zM137 445h1v1h1v1h-1v1h-1v-1h-1v-1h1zM137 446h1v1h1v1h-1v1h-1v-1h-1v-1h1zM137 448h1v1h1v1h-1v1h-1v-1h-1v-1h1zM137 452h1v1h1v1h-1v1h-1v-1h-1v-1h1zM138 288h1v1h1v1h-1v1h-1v-1h-1v-1h1zM138 357h1v1h1v1h-1v1h-1v-1h-1v-1h1zM138 399h1v1h1v1h-1v1h-1v-1h-1v-1h1zM138 401h1v1h1v1h-1v1h-1v-1h-1v-1h1zM138 407h1v1h1v1h-1v1h-1v-1h-1v-1h1zM138 425h1v1h1v1h-1v1h-1v-1h-1v-1h1zM138 426h1v1h1v1h-1v1h-1v-1h-1v-1h1zM138 438h1v1h1v1h-1v1h-1v-1h-1v-1h1zM138 442h1v1h1v1h-1v1h-1v-1h-1v-1h1zM138 445h1v1h1v1h-1v1h-1v-1h-1v-1h1zM138 449h1v1h1v1h-1v1h-1v-1h-1v-1h1zM138 455h1v1h1v1h-1v1h-1v-1h-1v-1h1zM138 457h1v1h1v1h-1v1h-1v-1h-1v-1h1zM139 355h1v1h1v1h-1v1h-1v-1h-1v-1h1zM139 363h1v1h1v1h-1v1h-1v-1h-1v-1h1zM139 388h1v1h1v1h-1v1h-1v-1h-1v-1h1zM139 389h1v1h1v1h-1v1h-1v-1h-1v-1h1zM139 402h1v1h1v1h-1v1h-1v-1h-1v-1h1zM139 417h1v1h1v1h-1v1h-1v-1h-1v-1h1zM139 428h1v1h1v1h-1v1h-1v-1h-1v-1h1zM139 432h1v1h1v1h-1v1h-1v-1h-1v-1h1zM139 433h1v1h1v1h-1v1h-1v-1h-1v-1h1zM139 437h1v1h1v1h-1v1h-1v-1h-1v-1h1zM139 439h1v1h1v1h-1v1h-1v-1h-1v-1h1zM139 441h1v1h1v1h-1v1h-1v-1h-1v-1h1zM139 442h1v1h1v1h-1v1h-1v-1h-1v-1h1zM139 444h1v1h1v1h-1v1h-1v-1h-1v-1h1zM139 446h1v1h1v1h-1v1h-1v-1h-1v-1h1zM139 454h1v1h1v1h-1v1h-1v-1h-1v-1h1zM140 337h1v1h1v1h-1v1h-1v-1h-1v-1h1zM140 377h1v1h1v1h-1v1h-1v-1h-1v-1h1zM140 385h1v1h1v1h-1v1h-1v-1h-1v-1h1zM140 394h1v1h1v1h-1v1h-1v-1h-1v-1h1zM140 400h1v1h1v1h-1v1h-1v-1h-1v-1h1zM140 405h1v1h1v1h-1v1h-1v-1h-1v-1h1zM140 411h1v1h1v1h-1v1h-1v-1h-1v-1h1zM140 413h1v1h1v1h-1v1h-1v-1h-1v-1h1zM140 429h1v1h1v1h-1v1h-1v-1h-1v-1h1zM140 433h1v1h1v1h-1v1h-1v-1h-1v-1h1zM140 438h1v1h1v1h-1v1h-1v-1h-1v-1h1zM140 439h1v1h1v1h-1v1h-1v-1h-1v-1h1zM140 442h1v1h1v1h-1v1h-1v-1h-1v-1h1zM140 443h1v1h1v1h-1v1h-1v-1h-1v-1h1zM140 464h1v1h1v1h-1v1h-1v-1h-1v-1h1zM141 288h1v1h1v1h-1v1h-1v-1h-1v-1h1zM141 333h1v1h1v1h-1v1h-1v-1h-1v-1h1zM141 354h1v1h1v1h-1v1h-1v-1h-1v-1h1zM141 371h1v1h1v1h-1v1h-1v-1h-1v-1h1zM141 374h1v1h1v1h-1v1h-1v-1h-1v-1h1zM141 391h1v1h1v1h-1v1h-1v-1h-1v-1h1zM141 425h1v1h1v1h-1v1h-1v-1h-1v-1h1zM141 426h1v1h1v1h-1v1h-1v-1h-1v-1h1zM141 430h1v1h1v1h-1v1h-1v-1h-1v-1h1zM141 437h1v1h1v1h-1v1h-1v-1h-1v-1h1zM141 440h1v1h1v1h-1v1h-1v-1h-1v-1h1zM141 442h1v1h1v1h-1v1h-1v-1h-1v-1h1zM141 445h1v1h1v1h-1v1h-1v-1h-1v-1h1zM142 282h1v1h1v1h-1v1h-1v-1h-1v-1h1zM142 350h1v1h1v1h-1v1h-1v-1h-1v-1h1zM142 410h1v1h1v1h-1v1h-1v-1h-1v-1h1zM142 426h1v1h1v1h-1v1h-1v-1h-1v-1h1zM142 428h1v1h1v1h-1v1h-1v-1h-1v-1h1zM142 431h1v1h1v1h-1v1h-1v-1h-1v-1h1zM142 433h1v1h1v1h-1v1h-1v-1h-1v-1h1zM142 440h1v1h1v1h-1v1h-1v-1h-1v-1h1zM142 442h1v1h1v1h-1v1h-1v-1h-1v-1h1zM142 446h1v1h1v1h-1v1h-1v-1h-1v-1h1zM142 447h1v1h1v1h-1v1h-1v-1h-1v-1h1zM142 453h1v1h1v1h-1v1h-1v-1h-1v-1h1zM142 456h1v1h1v1h-1v1h-1v-1h-1v-1h1zM143 353h1v1h1v1h-1v1h-1v-1h-1v-1h1zM143 405h1v1h1v1h-1v1h-1v-1h-1v-1h1zM143 434h1v1h1v1h-1v1h-1v-1h-1v-1h1zM143 435h1v1h1v1h-1v1h-1v-1h-1v-1h1zM143 438h1v1h1v1h-1v1h-1v-1h-1v-1h1zM143 444h1v1h1v1h-1v1h-1v-1h-1v-1h1zM143 447h1v1h1v1h-1v1h-1v-1h-1v-1h1zM143 451h1v1h1v1h-1v1h-1v-1h-1v-1h1zM143 452h1v1h1v1h-1v1h-1v-1h-1v-1h1zM144 348h1v1h1v1h-1v1h-1v-1h-1v-1h1zM144 358h1v1h1v1h-1v1h-1v-1h-1v-1h1zM144 380h1v1h1v1h-1v1h-1v-1h-1v-1h1zM144 399h1v1h1v1h-1v1h-1v-1h-1v-1h1zM144 405h1v1h1v1h-1v1h-1v-1h-1v-1h1zM144 426h1v1h1v1h-1v1h-1v-1h-1v-1h1zM144 435h1v1h1v1h-1v1h-1v-1h-1v-1h1zM144 438h1v1h1v1h-1v1h-1v-1h-1v-1h1zM144 441h1v1h1v1h-1v1h-1v-1h-1v-1h1zM144 443h1v1h1v1h-1v1h-1v-1h-1v-1h1zM144 445h1v1h1v1h-1v1h-1v-1h-1v-1h1zM144 446h1v1h1v1h-1v1h-1v-1h-1v-1h1zM144 447h1v1h1v1h-1v1h-1v-1h-1v-1h1zM144 458h1v1h1v1h-1v1h-1v-1h-1v-1h1zM145 379h1v1h1v1h-1v1h-1v-1h-1v-1h1zM145 388h1v1h1v1h-1v1h-1v-1h-1v-1h1zM145 394h1v1h1v1h-1v1h-1v-1h-1v-1h1zM145 402h1v1h1v1h-1v1h-1v-1h-1v-1h1zM145 405h1v1h1v1h-1v1h-1v-1h-1v-1h1zM145 421h1v1h1v1h-1v1h-1v-1h-1v-1h1zM145 425h1v1h1v1h-1v1h-1v-1h-1v-1h1zM145 434h1v1h1v1h-1v1h-1v-1h-1v-1h1zM145 436h1v1h1v1h-1v1h-1v-1h-1v-1h1zM145 439h1v1h1v1h-1v1h-1v-1h-1v-1h1zM145 447h1v1h1v1h-1v1h-1v-1h-1v-1h1zM145 452h1v1h1v1h-1v1h-1v-1h-1v-1h1zM145 456h1v1h1v1h-1v1h-1v-1h-1v-1h1zM146 355h1v1h1v1h-1v1h-1v-1h-1v-1h1zM146 395h1v1h1v1h-1v1h-1v-1h-1v-1h1zM146 396h1v1h1v1h-1v1h-1v-1h-1v-1h1zM146 407h1v1h1v1h-1v1h-1v-1h-1v-1h1zM146 409h1v1h1v1h-1v1h-1v-1h-1v-1h1zM146 414h1v1h1v1h-1v1h-1v-1h-1v-1h1zM146 418h1v1h1v1h-1v1h-1v-1h-1v-1h1zM146 436h1v1h1v1h-1v1h-1v-1h-1v-1h1zM146 438h1v1h1v1h-1v1h-1v-1h-1v-1h1zM146 445h1v1h1v1h-1v1h-1v-1h-1v-1h1zM146 448h1v1h1v1h-1v1h-1v-1h-1v-1h1zM147 355h1v1h1v1h-1v1h-1v-1h-1v-1h1zM147 366h1v1h1v1h-1v1h-1v-1h-1v-1h1zM147 382h1v1h1v1h-1v1h-1v-1h-1v-1h1zM147 387h1v1h1v1h-1v1h-1v-1h-1v-1h1zM147 389h1v1h1v1h-1v1h-1v-1h-1v-1h1zM147 390h1v1h1v1h-1v1h-1v-1h-1v-1h1zM147 400h1v1h1v1h-1v1h-1v-1h-1v-1h1zM147 403h1v1h1v1h-1v1h-1v-1h-1v-1h1zM147 405h1v1h1v1h-1v1h-1v-1h-1v-1h1zM147 407h1v1h1v1h-1v1h-1v-1h-1v-1h1zM147 430h1v1h1v1h-1v1h-1v-1h-1v-1h1zM147 433h1v1h1v1h-1v1h-1v-1h-1v-1h1zM147 439h1v1h1v1h-1v1h-1v-1h-1v-1h1zM147 440h1v1h1v1h-1v1h-1v-1h-1v-1h1zM147 441h1v1h1v1h-1v1h-1v-1h-1v-1h1zM147 443h1v1h1v1h-1v1h-1v-1h-1v-1h1zM147 445h1v1h1v1h-1v1h-1v-1h-1v-1h1zM148 279h1v1h1v1h-1v1h-1v-1h-1v-1h1zM148 301h1v1h1v1h-1v1h-1v-1h-1v-1h1zM148 368h1v1h1v1h-1v1h-1v-1h-1v-1h1zM148 377h1v1h1v1h-1v1h-1v-1h-1v-1h1zM148 378h1v1h1v1h-1v1h-1v-1h-1v-1h1zM148 391h1v1h1v1h-1v1h-1v-1h-1v-1h1zM148 393h1v1h1v1h-1v1h-1v-1h-1v-1h1zM148 396h1v1h1v1h-1v1h-1v-1h-1v-1h1zM148 398h1v1h1v1h-1v1h-1v-1h-1v-1h1zM148 401h1v1h1v1h-1v1h-1v-1h-1v-1h1zM148 406h1v1h1v1h-1v1h-1v-1h-1v-1h1zM148 408h1v1h1v1h-1v1h-1v-1h-1v-1h1zM148 424h1v1h1v1h-1v1h-1v-1h-1v-1h1zM148 428h1v1h1v1h-1v1h-1v-1h-1v-1h1zM148 439h1v1h1v1h-1v1h-1v-1h-1v-1h1zM148 442h1v1h1v1h-1v1h-1v-1h-1v-1h1zM148 443h1v1h1v1h-1v1h-1v-1h-1v-1h1zM148 451h1v1h1v1h-1v1h-1v-1h-1v-1h1zM149 335h1v1h1v1h-1v1h-1v-1h-1v-1h1zM149 387h1v1h1v1h-1v1h-1v-1h-1v-1h1zM149 393h1v1h1v1h-1v1h-1v-1h-1v-1h1zM149 394h1v1h1v1h-1v1h-1v-1h-1v-1h1zM149 396h1v1h1v1h-1v1h-1v-1h-1v-1h1zM149 407h1v1h1v1h-1v1h-1v-1h-1v-1h1zM149 414h1v1h1v1h-1v1h-1v-1h-1v-1h1zM149 426h1v1h1v1h-1v1h-1v-1h-1v-1h1zM149 427h1v1h1v1h-1v1h-1v-1h-1v-1h1zM149 428h1v1h1v1h-1v1h-1v-1h-1v-1h1zM149 429h1v1h1v1h-1v1h-1v-1h-1v-1h1zM149 430h1v1h1v1h-1v1h-1v-1h-1v-1h1zM149 437h1v1h1v1h-1v1h-1v-1h-1v-1h1zM149 442h1v1h1v1h-1v1h-1v-1h-1v-1h1zM149 444h1v1h1v1h-1v1h-1v-1h-1v-1h1zM149 451h1v1h1v1h-1v1h-1v-1h-1v-1h1zM150 301h1v1h1v1h-1v1h-1v-1h-1v-1h1zM150 303h1v1h1v1h-1v1h-1v-1h-1v-1h1zM150 345h1v1h1v1h-1v1h-1v-1h-1v-1h1zM150 385h1v1h1v1h-1v1h-1v-1h-1v-1h1zM150 386h1v1h1v1h-1v1h-1v-1h-1v-1h1zM150 392h1v1h1v1h-1v1h-1v-1h-1v-1h1zM150 397h1v1h1v1h-1v1h-1v-1h-1v-1h1zM150 425h1v1h1v1h-1v1h-1v-1h-1v-1h1zM150 429h1v1h1v1h-1v1h-1v-1h-1v-1h1zM150 430h1v1h1v1h-1v1h-1v-1h-1v-1h1zM150 435h1v1h1v1h-1v1h-1v-1h-1v-1h1zM150 436h1v1h1v1h-1v1h-1v-1h-1v-1h1zM150 438h1v1h1v1h-1v1h-1v-1h-1v-1h1zM150 440h1v1h1v1h-1v1h-1v-1h-1v-1h1zM150 442h1v1h1v1h-1v1h-1v-1h-1v-1h1zM150 444h1v1h1v1h-1v1h-1v-1h-1v-1h1zM150 448h1v1h1v1h-1v1h-1v-1h-1v-1h1zM151 290h1v1h1v1h-1v1h-1v-1h-1v-1h1zM151 333h1v1h1v1h-1v1h-1v-1h-1v-1h1zM151 367h1v1h1v1h-1v1h-1v-1h-1v-1h1zM151 395h1v1h1v1h-1v1h-1v-1h-1v-1h1zM151 397h1v1h1v1h-1v1h-1v-1h-1v-1h1zM151 398h1v1h1v1h-1v1h-1v-1h-1v-1h1zM151 399h1v1h1v1h-1v1h-1v-1h-1v-1h1zM151 409h1v1h1v1h-1v1h-1v-1h-1v-1h1zM151 432h1v1h1v1h-1v1h-1v-1h-1v-1h1zM151 433h1v1h1v1h-1v1h-1v-1h-1v-1h1zM151 435h1v1h1v1h-1v1h-1v-1h-1v-1h1zM151 437h1v1h1v1h-1v1h-1v-1h-1v-1h1zM151 444h1v1h1v1h-1v1h-1v-1h-1v-1h1zM151 448h1v1h1v1h-1v1h-1v-1h-1v-1h1zM152 310h1v1h1v1h-1v1h-1v-1h-1v-1h1zM152 382h1v1h1v1h-1v1h-1v-1h-1v-1h1zM152 389h1v1h1v1h-1v1h-1v-1h-1v-1h1zM152 390h1v1h1v1h-1v1h-1v-1h-1v-1h1zM152 418h1v1h1v1h-1v1h-1v-1h-1v-1h1zM152 424h1v1h1v1h-1v1h-1v-1h-1v-1h1zM152 427h1v1h1v1h-1v1h-1v-1h-1v-1h1zM152 431h1v1h1v1h-1v1h-1v-1h-1v-1h1zM152 438h1v1h1v1h-1v1h-1v-1h-1v-1h1zM152 444h1v1h1v1h-1v1h-1v-1h-1v-1h1zM152 451h1v1h1v1h-1v1h-1v-1h-1v-1h1zM153 377h1v1h1v1h-1v1h-1v-1h-1v-1h1zM153 384h1v1h1v1h-1v1h-1v-1h-1v-1h1zM153 392h1v1h1v1h-1v1h-1v-1h-1v-1h1zM153 393h1v1h1v1h-1v1h-1v-1h-1v-1h1zM153 395h1v1h1v1h-1v1h-1v-1h-1v-1h1zM153 398h1v1h1v1h-1v1h-1v-1h-1v-1h1zM153 400h1v1h1v1h-1v1h-1v-1h-1v-1h1zM153 417h1v1h1v1h-1v1h-1v-1h-1v-1h1zM153 430h1v1h1v1h-1v1h-1v-1h-1v-1h1zM153 445h1v1h1v1h-1v1h-1v-1h-1v-1h1zM153 449h1v1h1v1h-1v1h-1v-1h-1v-1h1zM153 451h1v1h1v1h-1v1h-1v-1h-1v-1h1zM154 280h1v1h1v1h-1v1h-1v-1h-1v-1h1zM154 337h1v1h1v1h-1v1h-1v-1h-1v-1h1zM154 377h1v1h1v1h-1v1h-1v-1h-1v-1h1zM154 380h1v1h1v1h-1v1h-1v-1h-1v-1h1zM154 387h1v1h1v1h-1v1h-1v-1h-1v-1h1zM154 403h1v1h1v1h-1v1h-1v-1h-1v-1h1zM154 405h1v1h1v1h-1v1h-1v-1h-1v-1h1zM154 413h1v1h1v1h-1v1h-1v-1h-1v-1h1zM154 421h1v1h1v1h-1v1h-1v-1h-1v-1h1zM154 427h1v1h1v1h-1v1h-1v-1h-1v-1h1zM154 430h1v1h1v1h-1v1h-1v-1h-1v-1h1zM154 432h1v1h1v1h-1v1h-1v-1h-1v-1h1zM154 434h1v1h1v1h-1v1h-1v-1h-1v-1h1zM154 435h1v1h1v1h-1v1h-1v-1h-1v-1h1zM155 285h1v1h1v1h-1v1h-1v-1h-1v-1h1zM155 357h1v1h1v1h-1v1h-1v-1h-1v-1h1zM155 380h1v1h1v1h-1v1h-1v-1h-1v-1h1zM155 386h1v1h1v1h-1v1h-1v-1h-1v-1h1zM155 410h1v1h1v1h-1v1h-1v-1h-1v-1h1zM155 418h1v1h1v1h-1v1h-1v-1h-1v-1h1zM155 433h1v1h1v1h-1v1h-1v-1h-1v-1h1zM155 442h1v1h1v1h-1v1h-1v-1h-1v-1h1zM155 445h1v1h1v1h-1v1h-1v-1h-1v-1h1zM155 454h1v1h1v1h-1v1h-1v-1h-1v-1h1zM155 456h1v1h1v1h-1v1h-1v-1h-1v-1h1zM156 264h1v1h1v1h-1v1h-1v-1h-1v-1h1zM156 374h1v1h1v1h-1v1h-1v-1h-1v-1h1zM156 377h1v1h1v1h-1v1h-1v-1h-1v-1h1zM156 387h1v1h1v1h-1v1h-1v-1h-1v-1h1zM156 388h1v1h1v1h-1v1h-1v-1h-1v-1h1zM156 404h1v1h1v1h-1v1h-1v-1h-1v-1h1zM156 427h1v1h1v1h-1v1h-1v-1h-1v-1h1zM156 430h1v1h1v1h-1v1h-1v-1h-1v-1h1zM156 478h1v1h1v1h-1v1h-1v-1h-1v-1h1zM157 341h1v1h1v1h-1v1h-1v-1h-1v-1h1zM157 379h1v1h1v1h-1v1h-1v-1h-1v-1h1zM157 381h1v1h1v1h-1v1h-1v-1h-1v-1h1zM157 412h1v1h1v1h-1v1h-1v-1h-1v-1h1zM157 415h1v1h1v1h-1v1h-1v-1h-1v-1h1zM157 422h1v1h1v1h-1v1h-1v-1h-1v-1h1zM157 423h1v1h1v1h-1v1h-1v-1h-1v-1h1zM157 427h1v1h1v1h-1v1h-1v-1h-1v-1h1zM157 433h1v1h1v1h-1v1h-1v-1h-1v-1h1zM157 438h1v1h1v1h-1v1h-1v-1h-1v-1h1zM157 449h1v1h1v1h-1v1h-1v-1h-1v-1h1zM158 288h1v1h1v1h-1v1h-1v-1h-1v-1h1zM158 304h1v1h1v1h-1v1h-1v-1h-1v-1h1zM158 343h1v1h1v1h-1v1h-1v-1h-1v-1h1zM158 366h1v1h1v1h-1v1h-1v-1h-1v-1h1zM158 372h1v1h1v1h-1v1h-1v-1h-1v-1h1zM158 375h1v1h1v1h-1v1h-1v-1h-1v-1h1zM158 379h1v1h1v1h-1v1h-1v-1h-1v-1h1zM158 387h1v1h1v1h-1v1h-1v-1h-1v-1h1zM158 398h1v1h1v1h-1v1h-1v-1h-1v-1h1zM158 403h1v1h1v1h-1v1h-1v-1h-1v-1h1zM158 428h1v1h1v1h-1v1h-1v-1h-1v-1h1zM158 430h1v1h1v1h-1v1h-1v-1h-1v-1h1zM158 436h1v1h1v1h-1v1h-1v-1h-1v-1h1zM158 437h1v1h1v1h-1v1h-1v-1h-1v-1h1zM158 443h1v1h1v1h-1v1h-1v-1h-1v-1h1zM159 322h1v1h1v1h-1v1h-1v-1h-1v-1h1zM159 361h1v1h1v1h-1v1h-1v-1h-1v-1h1zM159 379h1v1h1v1h-1v1h-1v-1h-1v-1h1zM159 398h1v1h1v1h-1v1h-1v-1h-1v-1h1zM159 414h1v1h1v1h-1v1h-1v-1h-1v-1h1zM159 440h1v1h1v1h-1v1h-1v-1h-1v-1h1zM160 62h1v1h1v1h-1v1h-1v-1h-1v-1h1zM160 186h1v1h1v1h-1v1h-1v-1h-1v-1h1zM160 340h1v1h1v1h-1v1h-1v-1h-1v-1h1zM160 369h1v1h1v1h-1v1h-1v-1h-1v-1h1zM160 372h1v1h1v1h-1v1h-1v-1h-1v-1h1zM160 374h1v1h1v1h-1v1h-1v-1h-1v-1h1zM160 375h1v1h1v1h-1v1h-1v-1h-1v-1h1zM160 376h1v1h1v1h-1v1h-1v-1h-1v-1h1zM160 391h1v1h1v1h-1v1h-1v-1h-1v-1h1zM160 392h1v1h1v1h-1v1h-1v-1h-1v-1h1zM160 411h1v1h1v1h-1v1h-1v-1h-1v-1h1zM160 416h1v1h1v1h-1v1h-1v-1h-1v-1h1zM160 429h1v1h1v1h-1v1h-1v-1h-1v-1h1zM160 436h1v1h1v1h-1v1h-1v-1h-1v-1h1zM160 440h1v1h1v1h-1v1h-1v-1h-1v-1h1zM160 444h1v1h1v1h-1v1h-1v-1h-1v-1h1zM161 323h1v1h1v1h-1v1h-1v-1h-1v-1h1zM161 349h1v1h1v1h-1v1h-1v-1h-1v-1h1zM161 380h1v1h1v1h-1v1h-1v-1h-1v-1h1zM161 405h1v1h1v1h-1v1h-1v-1h-1v-1h1zM161 414h1v1h1v1h-1v1h-1v-1h-1v-1h1zM161 423h1v1h1v1h-1v1h-1v-1h-1v-1h1zM161 425h1v1h1v1h-1v1h-1v-1h-1v-1h1zM161 444h1v1h1v1h-1v1h-1v-1h-1v-1h1zM162 348h1v1h1v1h-1v1h-1v-1h-1v-1h1zM162 380h1v1h1v1h-1v1h-1v-1h-1v-1h1zM162 384h1v1h1v1h-1v1h-1v-1h-1v-1h1zM162 393h1v1h1v1h-1v1h-1v-1h-1v-1h1zM162 399h1v1h1v1h-1v1h-1v-1h-1v-1h1zM162 422h1v1h1v1h-1v1h-1v-1h-1v-1h1zM162 431h1v1h1v1h-1v1h-1v-1h-1v-1h1zM162 440h1v1h1v1h-1v1h-1v-1h-1v-1h1zM163 332h1v1h1v1h-1v1h-1v-1h-1v-1h1zM163 360h1v1h1v1h-1v1h-1v-1h-1v-1h1zM163 369h1v1h1v1h-1v1h-1v-1h-1v-1h1zM163 383h1v1h1v1h-1v1h-1v-1h-1v-1h1zM163 402h1v1h1v1h-1v1h-1v-1h-1v-1h1zM163 426h1v1h1v1h-1v1h-1v-1h-1v-1h1zM163 429h1v1h1v1h-1v1h-1v-1h-1v-1h1zM163 443h1v1h1v1h-1v1h-1v-1h-1v-1h1zM164 298h1v1h1v1h-1v1h-1v-1h-1v-1h1zM164 376h1v1h1v1h-1v1h-1v-1h-1v-1h1zM164 377h1v1h1v1h-1v1h-1v-1h-1v-1h1zM164 387h1v1h1v1h-1v1h-1v-1h-1v-1h1zM164 413h1v1h1v1h-1v1h-1v-1h-1v-1h1zM164 426h1v1h1v1h-1v1h-1v-1h-1v-1h1zM164 427h1v1h1v1h-1v1h-1v-1h-1v-1h1zM165 353h1v1h1v1h-1v1h-1v-1h-1v-1h1zM165 379h1v1h1v1h-1v1h-1v-1h-1v-1h1zM165 380h1v1h1v1h-1v1h-1v-1h-1v-1h1zM165 382h1v1h1v1h-1v1h-1v-1h-1v-1h1zM165 408h1v1h1v1h-1v1h-1v-1h-1v-1h1zM165 413h1v1h1v1h-1v1h-1v-1h-1v-1h1zM165 416h1v1h1v1h-1v1h-1v-1h-1v-1h1zM165 419h1v1h1v1h-1v1h-1v-1h-1v-1h1zM165 427h1v1h1v1h-1v1h-1v-1h-1v-1h1zM165 438h1v1h1v1h-1v1h-1v-1h-1v-1h1zM165 442h1v1h1v1h-1v1h-1v-1h-1v-1h1zM166 316h1v1h1v1h-1v1h-1v-1h-1v-1h1zM166 367h1v1h1v1h-1v1h-1v-1h-1v-1h1zM166 374h1v1h1v1h-1v1h-1v-1h-1v-1h1zM166 379h1v1h1v1h-1v1h-1v-1h-1v-1h1zM166 404h1v1h1v1h-1v1h-1v-1h-1v-1h1zM166 405h1v1h1v1h-1v1h-1v-1h-1v-1h1zM166 413h1v1h1v1h-1v1h-1v-1h-1v-1h1zM166 419h1v1h1v1h-1v1h-1v-1h-1v-1h1zM166 425h1v1h1v1h-1v1h-1v-1h-1v-1h1zM166 427h1v1h1v1h-1v1h-1v-1h-1v-1h1zM167 340h1v1h1v1h-1v1h-1v-1h-1v-1h1zM167 347h1v1h1v1h-1v1h-1v-1h-1v-1h1zM167 355h1v1h1v1h-1v1h-1v-1h-1v-1h1zM167 381h1v1h1v1h-1v1h-1v-1h-1v-1h1zM167 390h1v1h1v1h-1v1h-1v-1h-1v-1h1zM167 412h1v1h1v1h-1v1h-1v-1h-1v-1h1zM167 413h1v1h1v1h-1v1h-1v-1h-1v-1h1zM167 421h1v1h1v1h-1v1h-1v-1h-1v-1h1zM167 425h1v1h1v1h-1v1h-1v-1h-1v-1h1zM167 437h1v1h1v1h-1v1h-1v-1h-1v-1h1zM167 456h1v1h1v1h-1v1h-1v-1h-1v-1h1zM168 363h1v1h1v1h-1v1h-1v-1h-1v-1h1zM168 382h1v1h1v1h-1v1h-1v-1h-1v-1h1zM168 387h1v1h1v1h-1v1h-1v-1h-1v-1h1zM168 409h1v1h1v1h-1v1h-1v-1h-1v-1h1zM168 428h1v1h1v1h-1v1h-1v-1h-1v-1h1zM168 446h1v1h1v1h-1v1h-1v-1h-1v-1h1zM169 268h1v1h1v1h-1v1h-1v-1h-1v-1h1zM169 316h1v1h1v1h-1v1h-1v-1h-1v-1h1zM169 368h1v1h1v1h-1v1h-1v-1h-1v-1h1zM169 371h1v1h1v1h-1v1h-1v-1h-1v-1h1zM169 392h1v1h1v1h-1v1h-1v-1h-1v-1h1zM169 400h1v1h1v1h-1v1h-1v-1h-1v-1h1zM169 427h1v1h1v1h-1v1h-1v-1h-1v-1h1zM170 361h1v1h1v1h-1v1h-1v-1h-1v-1h1zM170 363h1v1h1v1h-1v1h-1v-1h-1v-1h1zM170 365h1v1h1v1h-1v1h-1v-1h-1v-1h1zM170 371h1v1h1v1h-1v1h-1v-1h-1v-1h1zM170 373h1v1h1v1h-1v1h-1v-1h-1v-1h1zM170 374h1v1h1v1h-1v1h-1v-1h-1v-1h1zM170 378h1v1h1v1h-1v1h-1v-1h-1v-1h1zM170 400h1v1h1v1h-1v1h-1v-1h-1v-1h1zM170 417h1v1h1v1h-1v1h-1v-1h-1v-1h1zM170 421h1v1h1v1h-1v1h-1v-1h-1v-1h1zM170 423h1v1h1v1h-1v1h-1v-1h-1v-1h1zM170 426h1v1h1v1h-1v1h-1v-1h-1v-1h1zM170 429h1v1h1v1h-1v1h-1v-1h-1v-1h1zM170 435h1v1h1v1h-1v1h-1v-1h-1v-1h1zM170 437h1v1h1v1h-1v1h-1v-1h-1v-1h1zM171 269h1v1h1v1h-1v1h-1v-1h-1v-1h1zM171 271h1v1h1v1h-1v1h-1v-1h-1v-1h1zM171 334h1v1h1v1h-1v1h-1v-1h-1v-1h1zM171 358h1v1h1v1h-1v1h-1v-1h-1v-1h1zM171 363h1v1h1v1h-1v1h-1v-1h-1v-1h1zM171 366h1v1h1v1h-1v1h-1v-1h-1v-1h1zM171 379h1v1h1v1h-1v1h-1v-1h-1v-1h1zM171 393h1v1h1v1h-1v1h-1v-1h-1v-1h1zM171 404h1v1h1v1h-1v1h-1v-1h-1v-1h1zM171 410h1v1h1v1h-1v1h-1v-1h-1v-1h1zM171 412h1v1h1v1h-1v1h-1v-1h-1v-1h1zM171 420h1v1h1v1h-1v1h-1v-1h-1v-1h1zM171 423h1v1h1v1h-1v1h-1v-1h-1v-1h1zM171 428h1v1h1v1h-1v1h-1v-1h-1v-1h1zM171 431h1v1h1v1h-1v1h-1v-1h-1v-1h1zM171 449h1v1h1v1h-1v1h-1v-1h-1v-1h1zM172 337h1v1h1v1h-1v1h-1v-1h-1v-1h1zM172 360h1v1h1v1h-1v1h-1v-1h-1v-1h1zM172 366h1v1h1v1h-1v1h-1v-1h-1v-1h1zM172 372h1v1h1v1h-1v1h-1v-1h-1v-1h1zM172 373h1v1h1v1h-1v1h-1v-1h-1v-1h1zM172 377h1v1h1v1h-1v1h-1v-1h-1v-1h1zM172 380h1v1h1v1h-1v1h-1v-1h-1v-1h1zM172 397h1v1h1v1h-1v1h-1v-1h-1v-1h1zM172 419h1v1h1v1h-1v1h-1v-1h-1v-1h1zM172 425h1v1h1v1h-1v1h-1v-1h-1v-1h1zM172 426h1v1h1v1h-1v1h-1v-1h-1v-1h1zM172 444h1v1h1v1h-1v1h-1v-1h-1v-1h1zM172 458h1v1h1v1h-1v1h-1v-1h-1v-1h1zM173 290h1v1h1v1h-1v1h-1v-1h-1v-1h1zM173 347h1v1h1v1h-1v1h-1v-1h-1v-1h1zM173 361h1v1h1v1h-1v1h-1v-1h-1v-1h1zM173 368h1v1h1v1h-1v1h-1v-1h-1v-1h1zM173 372h1v1h1v1h-1v1h-1v-1h-1v-1h1zM173 417h1v1h1v1h-1v1h-1v-1h-1v-1h1zM173 424h1v1h1v1h-1v1h-1v-1h-1v-1h1zM174 345h1v1h1v1h-1v1h-1v-1h-1v-1h1zM174 352h1v1h1v1h-1v1h-1v-1h-1v-1h1zM174 364h1v1h1v1h-1v1h-1v-1h-1v-1h1zM174 378h1v1h1v1h-1v1h-1v-1h-1v-1h1zM174 389h1v1h1v1h-1v1h-1v-1h-1v-1h1zM174 402h1v1h1v1h-1v1h-1v-1h-1v-1h1zM174 428h1v1h1v1h-1v1h-1v-1h-1v-1h1zM174 431h1v1h1v1h-1v1h-1v-1h-1v-1h1zM174 439h1v1h1v1h-1v1h-1v-1h-1v-1h1zM174 447h1v1h1v1h-1v1h-1v-1h-1v-1h1zM174 450h1v1h1v1h-1v1h-1v-1h-1v-1h1zM175 325h1v1h1v1h-1v1h-1v-1h-1v-1h1zM175 345h1v1h1v1h-1v1h-1v-1h-1v-1h1zM175 354h1v1h1v1h-1v1h-1v-1h-1v-1h1zM175 365h1v1h1v1h-1v1h-1v-1h-1v-1h1zM175 368h1v1h1v1h-1v1h-1v-1h-1v-1h1zM175 374h1v1h1v1h-1v1h-1v-1h-1v-1h1zM175 416h1v1h1v1h-1v1h-1v-1h-1v-1h1zM175 422h1v1h1v1h-1v1h-1v-1h-1v-1h1zM175 427h1v1h1v1h-1v1h-1v-1h-1v-1h1zM175 437h1v1h1v1h-1v1h-1v-1h-1v-1h1zM175 456h1v1h1v1h-1v1h-1v-1h-1v-1h1zM176 272h1v1h1v1h-1v1h-1v-1h-1v-1h1zM176 284h1v1h1v1h-1v1h-1v-1h-1v-1h1zM176 326h1v1h1v1h-1v1h-1v-1h-1v-1h1zM176 331h1v1h1v1h-1v1h-1v-1h-1v-1h1zM176 350h1v1h1v1h-1v1h-1v-1h-1v-1h1zM176 354h1v1h1v1h-1v1h-1v-1h-1v-1h1zM176 358h1v1h1v1h-1v1h-1v-1h-1v-1h1zM176 398h1v1h1v1h-1v1h-1v-1h-1v-1h1zM176 420h1v1h1v1h-1v1h-1v-1h-1v-1h1zM176 425h1v1h1v1h-1v1h-1v-1h-1v-1h1zM176 437h1v1h1v1h-1v1h-1v-1h-1v-1h1zM177 356h1v1h1v1h-1v1h-1v-1h-1v-1h1zM177 358h1v1h1v1h-1v1h-1v-1h-1v-1h1zM177 359h1v1h1v1h-1v1h-1v-1h-1v-1h1zM177 362h1v1h1v1h-1v1h-1v-1h-1v-1h1zM177 369h1v1h1v1h-1v1h-1v-1h-1v-1h1zM177 374h1v1h1v1h-1v1h-1v-1h-1v-1h1zM177 407h1v1h1v1h-1v1h-1v-1h-1v-1h1zM177 412h1v1h1v1h-1v1h-1v-1h-1v-1h1zM177 429h1v1h1v1h-1v1h-1v-1h-1v-1h1zM177 430h1v1h1v1h-1v1h-1v-1h-1v-1h1zM177 439h1v1h1v1h-1v1h-1v-1h-1v-1h1zM177 441h1v1h1v1h-1v1h-1v-1h-1v-1h1zM177 442h1v1h1v1h-1v1h-1v-1h-1v-1h1zM177 455h1v1h1v1h-1v1h-1v-1h-1v-1h1zM178 78h1v1h1v1h-1v1h-1v-1h-1v-1h1zM178 290h1v1h1v1h-1v1h-1v-1h-1v-1h1zM178 338h1v1h1v1h-1v1h-1v-1h-1v-1h1zM178 340h1v1h1v1h-1v1h-1v-1h-1v-1h1zM178 353h1v1h1v1h-1v1h-1v-1h-1v-1h1zM178 361h1v1h1v1h-1v1h-1v-1h-1v-1h1zM178 367h1v1h1v1h-1v1h-1v-1h-1v-1h1zM178 384h1v1h1v1h-1v1h-1v-1h-1v-1h1zM178 386h1v1h1v1h-1v1h-1v-1h-1v-1h1zM178 404h1v1h1v1h-1v1h-1v-1h-1v-1h1zM178 405h1v1h1v1h-1v1h-1v-1h-1v-1h1zM178 409h1v1h1v1h-1v1h-1v-1h-1v-1h1zM178 420h1v1h1v1h-1v1h-1v-1h-1v-1h1zM178 430h1v1h1v1h-1v1h-1v-1h-1v-1h1zM179 350h1v1h1v1h-1v1h-1v-1h-1v-1h1zM179 353h1v1h1v1h-1v1h-1v-1h-1v-1h1zM179 355h1v1h1v1h-1v1h-1v-1h-1v-1h1zM179 357h1v1h1v1h-1v1h-1v-1h-1v-1h1zM179 362h1v1h1v1h-1v1h-1v-1h-1v-1h1zM179 377h1v1h1v1h-1v1h-1v-1h-1v-1h1zM179 395h1v1h1v1h-1v1h-1v-1h-1v-1h1zM179 401h1v1h1v1h-1v1h-1v-1h-1v-1h1zM179 402h1v1h1v1h-1v1h-1v-1h-1v-1h1zM179 409h1v1h1v1h-1v1h-1v-1h-1v-1h1zM179 419h1v1h1v1h-1v1h-1v-1h-1v-1h1zM179 437h1v1h1v1h-1v1h-1v-1h-1v-1h1zM179 448h1v1h1v1h-1v1h-1v-1h-1v-1h1zM179 453h1v1h1v1h-1v1h-1v-1h-1v-1h1zM180 349h1v1h1v1h-1v1h-1v-1h-1v-1h1zM180 351h1v1h1v1h-1v1h-1v-1h-1v-1h1zM180 378h1v1h1v1h-1v1h-1v-1h-1v-1h1zM180 395h1v1h1v1h-1v1h-1v-1h-1v-1h1zM180 402h1v1h1v1h-1v1h-1v-1h-1v-1h1zM180 409h1v1h1v1h-1v1h-1v-1h-1v-1h1zM180 414h1v1h1v1h-1v1h-1v-1h-1v-1h1zM180 417h1v1h1v1h-1v1h-1v-1h-1v-1h1zM180 422h1v1h1v1h-1v1h-1v-1h-1v-1h1zM180 430h1v1h1v1h-1v1h-1v-1h-1v-1h1zM181 310h1v1h1v1h-1v1h-1v-1h-1v-1h1zM181 321h1v1h1v1h-1v1h-1v-1h-1v-1h1zM181 340h1v1h1v1h-1v1h-1v-1h-1v-1h1zM181 347h1v1h1v1h-1v1h-1v-1h-1v-1h1zM181 364h1v1h1v1h-1v1h-1v-1h-1v-1h1zM181 380h1v1h1v1h-1v1h-1v-1h-1v-1h1zM181 392h1v1h1v1h-1v1h-1v-1h-1v-1h1zM181 414h1v1h1v1h-1v1h-1v-1h-1v-1h1zM181 423h1v1h1v1h-1v1h-1v-1h-1v-1h1zM181 426h1v1h1v1h-1v1h-1v-1h-1v-1h1zM181 446h1v1h1v1h-1v1h-1v-1h-1v-1h1zM182 96h1v1h1v1h-1v1h-1v-1h-1v-1h1zM182 308h1v1h1v1h-1v1h-1v-1h-1v-1h1zM182 316h1v1h1v1h-1v1h-1v-1h-1v-1h1zM182 334h1v1h1v1h-1v1h-1v-1h-1v-1h1zM182 340h1v1h1v1h-1v1h-1v-1h-1v-1h1zM182 358h1v1h1v1h-1v1h-1v-1h-1v-1h1zM182 364h1v1h1v1h-1v1h-1v-1h-1v-1h1zM182 375h1v1h1v1h-1v1h-1v-1h-1v-1h1zM182 400h1v1h1v1h-1v1h-1v-1h-1v-1h1zM182 401h1v1h1v1h-1v1h-1v-1h-1v-1h1zM182 413h1v1h1v1h-1v1h-1v-1h-1v-1h1zM182 444h1v1h1v1h-1v1h-1v-1h-1v-1h1zM183 207h1v1h1v1h-1v1h-1v-1h-1v-1h1zM183 297h1v1h1v1h-1v1h-1v-1h-1v-1h1zM183 345h1v1h1v1h-1v1h-1v-1h-1v-1h1zM183 351h1v1h1v1h-1v1h-1v-1h-1v-1h1zM183 381h1v1h1v1h-1v1h-1v-1h-1v-1h1zM183 389h1v1h1v1h-1v1h-1v-1h-1v-1h1zM183 421h1v1h1v1h-1v1h-1v-1h-1v-1h1zM183 435h1v1h1v1h-1v1h-1v-1h-1v-1h1zM184 274h1v1h1v1h-1v1h-1v-1h-1v-1h1zM184 291h1v1h1v1h-1v1h-1v-1h-1v-1h1zM184 320h1v1h1v1h-1v1h-1v-1h-1v-1h1zM184 343h1v1h1v1h-1v1h-1v-1h-1v-1h1zM184 345h1v1h1v1h-1v1h-1v-1h-1v-1h1zM184 372h1v1h1v1h-1v1h-1v-1h-1v-1h1zM184 374h1v1h1v1h-1v1h-1v-1h-1v-1h1zM184 377h1v1h1v1h-1v1h-1v-1h-1v-1h1zM184 406h1v1h1v1h-1v1h-1v-1h-1v-1h1zM184 412h1v1h1v1h-1v1h-1v-1h-1v-1h1zM184 434h1v1h1v1h-1v1h-1v-1h-1v-1h1zM184 455h1v1h1v1h-1v1h-1v-1h-1v-1h1zM184 464h1v1h1v1h-1v1h-1v-1h-1v-1h1zM185 307h1v1h1v1h-1v1h-1v-1h-1v-1h1zM185 330h1v1h1v1h-1v1h-1v-1h-1v-1h1zM185 342h1v1h1v1h-1v1h-1v-1h-1v-1h1zM185 343h1v1h1v1h-1v1h-1v-1h-1v-1h1zM185 350h1v1h1v1h-1v1h-1v-1h-1v-1h1zM185 370h1v1h1v1h-1v1h-1v-1h-1v-1h1zM185 375h1v1h1v1h-1v1h-1v-1h-1v-1h1zM185 388h1v1h1v1h-1v1h-1v-1h-1v-1h1zM185 399h1v1h1v1h-1v1h-1v-1h-1v-1h1zM185 423h1v1h1v1h-1v1h-1v-1h-1v-1h1zM185 433h1v1h1v1h-1v1h-1v-1h-1v-1h1zM186 328h1v1h1v1h-1v1h-1v-1h-1v-1h1zM186 341h1v1h1v1h-1v1h-1v-1h-1v-1h1zM186 342h1v1h1v1h-1v1h-1v-1h-1v-1h1zM186 344h1v1h1v1h-1v1h-1v-1h-1v-1h1zM186 350h1v1h1v1h-1v1h-1v-1h-1v-1h1zM186 355h1v1h1v1h-1v1h-1v-1h-1v-1h1zM186 390h1v1h1v1h-1v1h-1v-1h-1v-1h1zM186 397h1v1h1v1h-1v1h-1v-1h-1v-1h1zM186 411h1v1h1v1h-1v1h-1v-1h-1v-1h1zM186 418h1v1h1v1h-1v1h-1v-1h-1v-1h1zM186 428h1v1h1v1h-1v1h-1v-1h-1v-1h1zM186 429h1v1h1v1h-1v1h-1v-1h-1v-1h1zM187 205h1v1h1v1h-1v1h-1v-1h-1v-1h1zM187 209h1v1h1v1h-1v1h-1v-1h-1v-1h1zM187 344h1v1h1v1h-1v1h-1v-1h-1v-1h1zM187 357h1v1h1v1h-1v1h-1v-1h-1v-1h1zM187 378h1v1h1v1h-1v1h-1v-1h-1v-1h1zM187 383h1v1h1v1h-1v1h-1v-1h-1v-1h1zM187 401h1v1h1v1h-1v1h-1v-1h-1v-1h1zM187 418h1v1h1v1h-1v1h-1v-1h-1v-1h1zM187 457h1v1h1v1h-1v1h-1v-1h-1v-1h1zM188 340h1v1h1v1h-1v1h-1v-1h-1v-1h1zM188 353h1v1h1v1h-1v1h-1v-1h-1v-1h1zM188 355h1v1h1v1h-1v1h-1v-1h-1v-1h1zM188 369h1v1h1v1h-1v1h-1v-1h-1v-1h1zM188 376h1v1h1v1h-1v1h-1v-1h-1v-1h1zM188 386h1v1h1v1h-1v1h-1v-1h-1v-1h1zM188 411h1v1h1v1h-1v1h-1v-1h-1v-1h1zM188 416h1v1h1v1h-1v1h-1v-1h-1v-1h1zM188 431h1v1h1v1h-1v1h-1v-1h-1v-1h1zM189 380h1v1h1v1h-1v1h-1v-1h-1v-1h1zM189 401h1v1h1v1h-1v1h-1v-1h-1v-1h1zM190 270h1v1h1v1h-1v1h-1v-1h-1v-1h1zM190 316h1v1h1v1h-1v1h-1v-1h-1v-1h1zM190 322h1v1h1v1h-1v1h-1v-1h-1v-1h1zM190 327h1v1h1v1h-1v1h-1v-1h-1v-1h1zM190 339h1v1h1v1h-1v1h-1v-1h-1v-1h1zM190 341h1v1h1v1h-1v1h-1v-1h-1v-1h1zM190 343h1v1h1v1h-1v1h-1v-1h-1v-1h1zM190 350h1v1h1v1h-1v1h-1v-1h-1v-1h1zM190 394h1v1h1v1h-1v1h-1v-1h-1v-1h1zM190 408h1v1h1v1h-1v1h-1v-1h-1v-1h1zM190 440h1v1h1v1h-1v1h-1v-1h-1v-1h1zM191 261h1v1h1v1h-1v1h-1v-1h-1v-1h1zM191 329h1v1h1v1h-1v1h-1v-1h-1v-1h1zM191 345h1v1h1v1h-1v1h-1v-1h-1v-1h1zM191 406h1v1h1v1h-1v1h-1v-1h-1v-1h1zM191 441h1v1h1v1h-1v1h-1v-1h-1v-1h1zM191 443h1v1h1v1h-1v1h-1v-1h-1v-1h1zM192 330h1v1h1v1h-1v1h-1v-1h-1v-1h1zM192 342h1v1h1v1h-1v1h-1v-1h-1v-1h1zM192 344h1v1h1v1h-1v1h-1v-1h-1v-1h1zM192 389h1v1h1v1h-1v1h-1v-1h-1v-1h1zM192 401h1v1h1v1h-1v1h-1v-1h-1v-1h1zM192 402h1v1h1v1h-1v1h-1v-1h-1v-1h1zM192 414h1v1h1v1h-1v1h-1v-1h-1v-1h1zM192 419h1v1h1v1h-1v1h-1v-1h-1v-1h1zM192 438h1v1h1v1h-1v1h-1v-1h-1v-1h1zM193 334h1v1h1v1h-1v1h-1v-1h-1v-1h1zM193 335h1v1h1v1h-1v1h-1v-1h-1v-1h1zM193 339h1v1h1v1h-1v1h-1v-1h-1v-1h1zM193 348h1v1h1v1h-1v1h-1v-1h-1v-1h1zM193 351h1v1h1v1h-1v1h-1v-1h-1v-1h1zM193 355h1v1h1v1h-1v1h-1v-1h-1v-1h1zM193 362h1v1h1v1h-1v1h-1v-1h-1v-1h1zM193 375h1v1h1v1h-1v1h-1v-1h-1v-1h1zM193 379h1v1h1v1h-1v1h-1v-1h-1v-1h1zM193 391h1v1h1v1h-1v1h-1v-1h-1v-1h1zM193 401h1v1h1v1h-1v1h-1v-1h-1v-1h1zM193 427h1v1h1v1h-1v1h-1v-1h-1v-1h1zM194 265h1v1h1v1h-1v1h-1v-1h-1v-1h1zM194 332h1v1h1v1h-1v1h-1v-1h-1v-1h1zM194 333h1v1h1v1h-1v1h-1v-1h-1v-1h1zM194 337h1v1h1v1h-1v1h-1v-1h-1v-1h1zM194 402h1v1h1v1h-1v1h-1v-1h-1v-1h1zM194 430h1v1h1v1h-1v1h-1v-1h-1v-1h1zM194 442h1v1h1v1h-1v1h-1v-1h-1v-1h1zM194 450h1v1h1v1h-1v1h-1v-1h-1v-1h1zM195 263h1v1h1v1h-1v1h-1v-1h-1v-1h1zM195 272h1v1h1v1h-1v1h-1v-1h-1v-1h1zM195 330h1v1h1v1h-1v1h-1v-1h-1v-1h1zM195 356h1v1h1v1h-1v1h-1v-1h-1v-1h1zM195 392h1v1h1v1h-1v1h-1v-1h-1v-1h1zM195 424h1v1h1v1h-1v1h-1v-1h-1v-1h1zM195 431h1v1h1v1h-1v1h-1v-1h-1v-1h1zM195 462h1v1h1v1h-1v1h-1v-1h-1v-1h1zM195 466h1v1h1v1h-1v1h-1v-1h-1v-1h1zM196 316h1v1h1v1h-1v1h-1v-1h-1v-1h1zM196 327h1v1h1v1h-1v1h-1v-1h-1v-1h1zM196 329h1v1h1v1h-1v1h-1v-1h-1v-1h1zM196 343h1v1h1v1h-1v1h-1v-1h-1v-1h1zM196 381h1v1h1v1h-1v1h-1v-1h-1v-1h1zM196 384h1v1h1v1h-1v1h-1v-1h-1v-1h1zM196 391h1v1h1v1h-1v1h-1v-1h-1v-1h1zM196 419h1v1h1v1h-1v1h-1v-1h-1v-1h1zM196 437h1v1h1v1h-1v1h-1v-1h-1v-1h1zM197 324h1v1h1v1h-1v1h-1v-1h-1v-1h1zM197 334h1v1h1v1h-1v1h-1v-1h-1v-1h1zM197 376h1v1h1v1h-1v1h-1v-1h-1v-1h1zM197 386h1v1h1v1h-1v1h-1v-1h-1v-1h1zM197 387h1v1h1v1h-1v1h-1v-1h-1v-1h1zM197 439h1v1h1v1h-1v1h-1v-1h-1v-1h1zM197 443h1v1h1v1h-1v1h-1v-1h-1v-1h1zM197 455h1v1h1v1h-1v1h-1v-1h-1v-1h1zM198 292h1v1h1v1h-1v1h-1v-1h-1v-1h1zM198 298h1v1h1v1h-1v1h-1v-1h-1v-1h1zM198 336h1v1h1v1h-1v1h-1v-1h-1v-1h1zM198 342h1v1h1v1h-1v1h-1v-1h-1v-1h1zM198 376h1v1h1v1h-1v1h-1v-1h-1v-1h1zM198 378h1v1h1v1h-1v1h-1v-1h-1v-1h1zM198 394h1v1h1v1h-1v1h-1v-1h-1v-1h1zM198 407h1v1h1v1h-1v1h-1v-1h-1v-1h1zM198 416h1v1h1v1h-1v1h-1v-1h-1v-1h1zM198 461h1v1h1v1h-1v1h-1v-1h-1v-1h1zM199 266h1v1h1v1h-1v1h-1v-1h-1v-1h1zM199 288h1v1h1v1h-1v1h-1v-1h-1v-1h1zM199 311h1v1h1v1h-1v1h-1v-1h-1v-1h1zM199 326h1v1h1v1h-1v1h-1v-1h-1v-1h1zM199 328h1v1h1v1h-1v1h-1v-1h-1v-1h1zM199 329h1v1h1v1h-1v1h-1v-1h-1v-1h1zM199 335h1v1h1v1h-1v1h-1v-1h-1v-1h1zM199 340h1v1h1v1h-1v1h-1v-1h-1v-1h1zM199 356h1v1h1v1h-1v1h-1v-1h-1v-1h1zM199 366h1v1h1v1h-1v1h-1v-1h-1v-1h1zM199 367h1v1h1v1h-1v1h-1v-1h-1v-1h1zM199 375h1v1h1v1h-1v1h-1v-1h-1v-1h1zM199 378h1v1h1v1h-1v1h-1v-1h-1v-1h1zM199 382h1v1h1v1h-1v1h-1v-1h-1v-1h1zM199 386h1v1h1v1h-1v1h-1v-1h-1v-1h1zM199 394h1v1h1v1h-1v1h-1v-1h-1v-1h1zM199 431h1v1h1v1h-1v1h-1v-1h-1v-1h1zM199 434h1v1h1v1h-1v1h-1v-1h-1v-1h1zM199 435h1v1h1v1h-1v1h-1v-1h-1v-1h1zM199 447h1v1h1v1h-1v1h-1v-1h-1v-1h1zM200 320h1v1h1v1h-1v1h-1v-1h-1v-1h1zM200 329h1v1h1v1h-1v1h-1v-1h-1v-1h1zM200 336h1v1h1v1h-1v1h-1v-1h-1v-1h1zM200 340h1v1h1v1h-1v1h-1v-1h-1v-1h1zM200 342h1v1h1v1h-1v1h-1v-1h-1v-1h1zM200 344h1v1h1v1h-1v1h-1v-1h-1v-1h1zM200 348h1v1h1v1h-1v1h-1v-1h-1v-1h1zM200 361h1v1h1v1h-1v1h-1v-1h-1v-1h1zM200 373h1v1h1v1h-1v1h-1v-1h-1v-1h1zM200 378h1v1h1v1h-1v1h-1v-1h-1v-1h1zM200 380h1v1h1v1h-1v1h-1v-1h-1v-1h1zM200 383h1v1h1v1h-1v1h-1v-1h-1v-1h1zM200 386h1v1h1v1h-1v1h-1v-1h-1v-1h1zM200 390h1v1h1v1h-1v1h-1v-1h-1v-1h1zM200 393h1v1h1v1h-1v1h-1v-1h-1v-1h1zM200 396h1v1h1v1h-1v1h-1v-1h-1v-1h1zM200 417h1v1h1v1h-1v1h-1v-1h-1v-1h1zM200 433h1v1h1v1h-1v1h-1v-1h-1v-1h1zM200 434h1v1h1v1h-1v1h-1v-1h-1v-1h1zM200 439h1v1h1v1h-1v1h-1v-1h-1v-1h1zM200 442h1v1h1v1h-1v1h-1v-1h-1v-1h1zM200 449h1v1h1v1h-1v1h-1v-1h-1v-1h1zM200 457h1v1h1v1h-1v1h-1v-1h-1v-1h1zM201 308h1v1h1v1h-1v1h-1v-1h-1v-1h1zM201 329h1v1h1v1h-1v1h-1v-1h-1v-1h1zM201 377h1v1h1v1h-1v1h-1v-1h-1v-1h1zM201 382h1v1h1v1h-1v1h-1v-1h-1v-1h1zM201 388h1v1h1v1h-1v1h-1v-1h-1v-1h1zM201 391h1v1h1v1h-1v1h-1v-1h-1v-1h1zM201 395h1v1h1v1h-1v1h-1v-1h-1v-1h1zM201 399h1v1h1v1h-1v1h-1v-1h-1v-1h1zM201 410h1v1h1v1h-1v1h-1v-1h-1v-1h1zM202 299h1v1h1v1h-1v1h-1v-1h-1v-1h1zM202 320h1v1h1v1h-1v1h-1v-1h-1v-1h1zM202 327h1v1h1v1h-1v1h-1v-1h-1v-1h1zM202 329h1v1h1v1h-1v1h-1v-1h-1v-1h1zM202 331h1v1h1v1h-1v1h-1v-1h-1v-1h1zM202 346h1v1h1v1h-1v1h-1v-1h-1v-1h1zM202 372h1v1h1v1h-1v1h-1v-1h-1v-1h1zM202 381h1v1h1v1h-1v1h-1v-1h-1v-1h1zM202 385h1v1h1v1h-1v1h-1v-1h-1v-1h1zM202 392h1v1h1v1h-1v1h-1v-1h-1v-1h1zM202 398h1v1h1v1h-1v1h-1v-1h-1v-1h1zM202 403h1v1h1v1h-1v1h-1v-1h-1v-1h1zM203 318h1v1h1v1h-1v1h-1v-1h-1v-1h1zM203 322h1v1h1v1h-1v1h-1v-1h-1v-1h1zM203 365h1v1h1v1h-1v1h-1v-1h-1v-1h1zM203 366h1v1h1v1h-1v1h-1v-1h-1v-1h1zM203 367h1v1h1v1h-1v1h-1v-1h-1v-1h1zM203 370h1v1h1v1h-1v1h-1v-1h-1v-1h1zM203 373h1v1h1v1h-1v1h-1v-1h-1v-1h1zM203 375h1v1h1v1h-1v1h-1v-1h-1v-1h1zM203 385h1v1h1v1h-1v1h-1v-1h-1v-1h1zM203 389h1v1h1v1h-1v1h-1v-1h-1v-1h1zM203 392h1v1h1v1h-1v1h-1v-1h-1v-1h1zM203 402h1v1h1v1h-1v1h-1v-1h-1v-1h1zM203 436h1v1h1v1h-1v1h-1v-1h-1v-1h1zM204 301h1v1h1v1h-1v1h-1v-1h-1v-1h1zM204 329h1v1h1v1h-1v1h-1v-1h-1v-1h1zM204 332h1v1h1v1h-1v1h-1v-1h-1v-1h1zM204 359h1v1h1v1h-1v1h-1v-1h-1v-1h1zM204 379h1v1h1v1h-1v1h-1v-1h-1v-1h1zM204 381h1v1h1v1h-1v1h-1v-1h-1v-1h1zM204 408h1v1h1v1h-1v1h-1v-1h-1v-1h1zM204 417h1v1h1v1h-1v1h-1v-1h-1v-1h1zM204 422h1v1h1v1h-1v1h-1v-1h-1v-1h1zM204 434h1v1h1v1h-1v1h-1v-1h-1v-1h1zM205 307h1v1h1v1h-1v1h-1v-1h-1v-1h1zM205 308h1v1h1v1h-1v1h-1v-1h-1v-1h1zM205 311h1v1h1v1h-1v1h-1v-1h-1v-1h1zM205 320h1v1h1v1h-1v1h-1v-1h-1v-1h1zM205 329h1v1h1v1h-1v1h-1v-1h-1v-1h1zM205 336h1v1h1v1h-1v1h-1v-1h-1v-1h1zM205 370h1v1h1v1h-1v1h-1v-1h-1v-1h1zM205 376h1v1h1v1h-1v1h-1v-1h-1v-1h1zM205 378h1v1h1v1h-1v1h-1v-1h-1v-1h1zM205 379h1v1h1v1h-1v1h-1v-1h-1v-1h1zM205 412h1v1h1v1h-1v1h-1v-1h-1v-1h1zM205 419h1v1h1v1h-1v1h-1v-1h-1v-1h1zM205 430h1v1h1v1h-1v1h-1v-1h-1v-1h1zM206 316h1v1h1v1h-1v1h-1v-1h-1v-1h1zM206 330h1v1h1v1h-1v1h-1v-1h-1v-1h1zM206 388h1v1h1v1h-1v1h-1v-1h-1v-1h1zM206 390h1v1h1v1h-1v1h-1v-1h-1v-1h1zM206 397h1v1h1v1h-1v1h-1v-1h-1v-1h1zM206 399h1v1h1v1h-1v1h-1v-1h-1v-1h1zM206 404h1v1h1v1h-1v1h-1v-1h-1v-1h1zM207 267h1v1h1v1h-1v1h-1v-1h-1v-1h1zM207 310h1v1h1v1h-1v1h-1v-1h-1v-1h1zM207 313h1v1h1v1h-1v1h-1v-1h-1v-1h1zM207 318h1v1h1v1h-1v1h-1v-1h-1v-1h1zM207 320h1v1h1v1h-1v1h-1v-1h-1v-1h1zM207 368h1v1h1v1h-1v1h-1v-1h-1v-1h1zM207 369h1v1h1v1h-1v1h-1v-1h-1v-1h1zM207 390h1v1h1v1h-1v1h-1v-1h-1v-1h1zM207 452h1v1h1v1h-1v1h-1v-1h-1v-1h1zM208 318h1v1h1v1h-1v1h-1v-1h-1v-1h1zM208 337h1v1h1v1h-1v1h-1v-1h-1v-1h1zM208 338h1v1h1v1h-1v1h-1v-1h-1v-1h1zM208 376h1v1h1v1h-1v1h-1v-1h-1v-1h1zM208 423h1v1h1v1h-1v1h-1v-1h-1v-1h1zM208 424h1v1h1v1h-1v1h-1v-1h-1v-1h1zM209 334h1v1h1v1h-1v1h-1v-1h-1v-1h1zM209 335h1v1h1v1h-1v1h-1v-1h-1v-1h1zM209 420h1v1h1v1h-1v1h-1v-1h-1v-1h1zM209 421h1v1h1v1h-1v1h-1v-1h-1v-1h1zM210 320h1v1h1v1h-1v1h-1v-1h-1v-1h1zM210 329h1v1h1v1h-1v1h-1v-1h-1v-1h1zM210 334h1v1h1v1h-1v1h-1v-1h-1v-1h1zM210 355h1v1h1v1h-1v1h-1v-1h-1v-1h1zM210 416h1v1h1v1h-1v1h-1v-1h-1v-1h1zM211 324h1v1h1v1h-1v1h-1v-1h-1v-1h1zM211 373h1v1h1v1h-1v1h-1v-1h-1v-1h1zM211 399h1v1h1v1h-1v1h-1v-1h-1v-1h1zM211 425h1v1h1v1h-1v1h-1v-1h-1v-1h1zM211 436h1v1h1v1h-1v1h-1v-1h-1v-1h1zM211 448h1v1h1v1h-1v1h-1v-1h-1v-1h1zM212 292h1v1h1v1h-1v1h-1v-1h-1v-1h1zM212 367h1v1h1v1h-1v1h-1v-1h-1v-1h1zM212 369h1v1h1v1h-1v1h-1v-1h-1v-1h1zM212 377h1v1h1v1h-1v1h-1v-1h-1v-1h1zM212 391h1v1h1v1h-1v1h-1v-1h-1v-1h1zM212 398h1v1h1v1h-1v1h-1v-1h-1v-1h1zM212 450h1v1h1v1h-1v1h-1v-1h-1v-1h1zM212 462h1v1h1v1h-1v1h-1v-1h-1v-1h1zM212 469h1v1h1v1h-1v1h-1v-1h-1v-1h1zM213 282h1v1h1v1h-1v1h-1v-1h-1v-1h1zM213 297h1v1h1v1h-1v1h-1v-1h-1v-1h1zM213 307h1v1h1v1h-1v1h-1v-1h-1v-1h1zM213 315h1v1h1v1h-1v1h-1v-1h-1v-1h1zM213 320h1v1h1v1h-1v1h-1v-1h-1v-1h1zM213 358h1v1h1v1h-1v1h-1v-1h-1v-1h1zM213 391h1v1h1v1h-1v1h-1v-1h-1v-1h1zM213 417h1v1h1v1h-1v1h-1v-1h-1v-1h1zM213 422h1v1h1v1h-1v1h-1v-1h-1v-1h1zM213 432h1v1h1v1h-1v1h-1v-1h-1v-1h1zM213 434h1v1h1v1h-1v1h-1v-1h-1v-1h1zM213 440h1v1h1v1h-1v1h-1v-1h-1v-1h1zM213 442h1v1h1v1h-1v1h-1v-1h-1v-1h1zM214 313h1v1h1v1h-1v1h-1v-1h-1v-1h1zM214 317h1v1h1v1h-1v1h-1v-1h-1v-1h1zM214 330h1v1h1v1h-1v1h-1v-1h-1v-1h1zM214 335h1v1h1v1h-1v1h-1v-1h-1v-1h1zM214 342h1v1h1v1h-1v1h-1v-1h-1v-1h1zM214 413h1v1h1v1h-1v1h-1v-1h-1v-1h1zM214 414h1v1h1v1h-1v1h-1v-1h-1v-1h1zM215 352h1v1h1v1h-1v1h-1v-1h-1v-1h1zM215 438h1v1h1v1h-1v1h-1v-1h-1v-1h1zM216 295h1v1h1v1h-1v1h-1v-1h-1v-1h1zM216 313h1v1h1v1h-1v1h-1v-1h-1v-1h1zM216 369h1v1h1v1h-1v1h-1v-1h-1v-1h1zM216 388h1v1h1v1h-1v1h-1v-1h-1v-1h1zM216 406h1v1h1v1h-1v1h-1v-1h-1v-1h1zM216 429h1v1h1v1h-1v1h-1v-1h-1v-1h1zM217 311h1v1h1v1h-1v1h-1v-1h-1v-1h1zM217 312h1v1h1v1h-1v1h-1v-1h-1v-1h1zM217 329h1v1h1v1h-1v1h-1v-1h-1v-1h1zM217 405h1v1h1v1h-1v1h-1v-1h-1v-1h1zM217 408h1v1h1v1h-1v1h-1v-1h-1v-1h1zM217 431h1v1h1v1h-1v1h-1v-1h-1v-1h1zM217 440h1v1h1v1h-1v1h-1v-1h-1v-1h1zM218 321h1v1h1v1h-1v1h-1v-1h-1v-1h1zM218 354h1v1h1v1h-1v1h-1v-1h-1v-1h1zM218 376h1v1h1v1h-1v1h-1v-1h-1v-1h1zM218 381h1v1h1v1h-1v1h-1v-1h-1v-1h1zM218 389h1v1h1v1h-1v1h-1v-1h-1v-1h1zM218 413h1v1h1v1h-1v1h-1v-1h-1v-1h1zM218 442h1v1h1v1h-1v1h-1v-1h-1v-1h1zM219 296h1v1h1v1h-1v1h-1v-1h-1v-1h1zM219 314h1v1h1v1h-1v1h-1v-1h-1v-1h1zM219 316h1v1h1v1h-1v1h-1v-1h-1v-1h1zM219 320h1v1h1v1h-1v1h-1v-1h-1v-1h1zM219 363h1v1h1v1h-1v1h-1v-1h-1v-1h1zM220 246h1v1h1v1h-1v1h-1v-1h-1v-1h1zM220 307h1v1h1v1h-1v1h-1v-1h-1v-1h1zM220 314h1v1h1v1h-1v1h-1v-1h-1v-1h1zM220 322h1v1h1v1h-1v1h-1v-1h-1v-1h1zM220 374h1v1h1v1h-1v1h-1v-1h-1v-1h1zM220 424h1v1h1v1h-1v1h-1v-1h-1v-1h1zM221 307h1v1h1v1h-1v1h-1v-1h-1v-1h1zM221 313h1v1h1v1h-1v1h-1v-1h-1v-1h1zM221 318h1v1h1v1h-1v1h-1v-1h-1v-1h1zM221 358h1v1h1v1h-1v1h-1v-1h-1v-1h1zM221 384h1v1h1v1h-1v1h-1v-1h-1v-1h1zM221 404h1v1h1v1h-1v1h-1v-1h-1v-1h1zM221 451h1v1h1v1h-1v1h-1v-1h-1v-1h1zM221 455h1v1h1v1h-1v1h-1v-1h-1v-1h1zM222 283h1v1h1v1h-1v1h-1v-1h-1v-1h1zM222 316h1v1h1v1h-1v1h-1v-1h-1v-1h1zM222 381h1v1h1v1h-1v1h-1v-1h-1v-1h1zM222 419h1v1h1v1h-1v1h-1v-1h-1v-1h1zM222 428h1v1h1v1h-1v1h-1v-1h-1v-1h1zM223 289h1v1h1v1h-1v1h-1v-1h-1v-1h1zM223 290h1v1h1v1h-1v1h-1v-1h-1v-1h1zM223 291h1v1h1v1h-1v1h-1v-1h-1v-1h1zM223 309h1v1h1v1h-1v1h-1v-1h-1v-1h1zM223 312h1v1h1v1h-1v1h-1v-1h-1v-1h1zM223 314h1v1h1v1h-1v1h-1v-1h-1v-1h1zM223 318h1v1h1v1h-1v1h-1v-1h-1v-1h1zM223 322h1v1h1v1h-1v1h-1v-1h-1v-1h1zM223 333h1v1h1v1h-1v1h-1v-1h-1v-1h1zM223 346h1v1h1v1h-1v1h-1v-1h-1v-1h1zM223 368h1v1h1v1h-1v1h-1v-1h-1v-1h1zM223 395h1v1h1v1h-1v1h-1v-1h-1v-1h1zM223 421h1v1h1v1h-1v1h-1v-1h-1v-1h1zM223 423h1v1h1v1h-1v1h-1v-1h-1v-1h1zM224 271h1v1h1v1h-1v1h-1v-1h-1v-1h1zM224 288h1v1h1v1h-1v1h-1v-1h-1v-1h1zM224 289h1v1h1v1h-1v1h-1v-1h-1v-1h1zM224 290h1v1h1v1h-1v1h-1v-1h-1v-1h1zM224 292h1v1h1v1h-1v1h-1v-1h-1v-1h1zM224 294h1v1h1v1h-1v1h-1v-1h-1v-1h1zM224 302h1v1h1v1h-1v1h-1v-1h-1v-1h1zM224 314h1v1h1v1h-1v1h-1v-1h-1v-1h1zM224 323h1v1h1v1h-1v1h-1v-1h-1v-1h1zM224 375h1v1h1v1h-1v1h-1v-1h-1v-1h1zM224 381h1v1h1v1h-1v1h-1v-1h-1v-1h1zM224 386h1v1h1v1h-1v1h-1v-1h-1v-1h1zM224 403h1v1h1v1h-1v1h-1v-1h-1v-1h1zM224 405h1v1h1v1h-1v1h-1v-1h-1v-1h1zM224 410h1v1h1v1h-1v1h-1v-1h-1v-1h1zM224 415h1v1h1v1h-1v1h-1v-1h-1v-1h1zM224 428h1v1h1v1h-1v1h-1v-1h-1v-1h1zM225 290h1v1h1v1h-1v1h-1v-1h-1v-1h1zM225 294h1v1h1v1h-1v1h-1v-1h-1v-1h1zM225 303h1v1h1v1h-1v1h-1v-1h-1v-1h1zM225 305h1v1h1v1h-1v1h-1v-1h-1v-1h1zM225 311h1v1h1v1h-1v1h-1v-1h-1v-1h1zM225 322h1v1h1v1h-1v1h-1v-1h-1v-1h1zM225 324h1v1h1v1h-1v1h-1v-1h-1v-1h1zM225 346h1v1h1v1h-1v1h-1v-1h-1v-1h1zM225 352h1v1h1v1h-1v1h-1v-1h-1v-1h1zM225 367h1v1h1v1h-1v1h-1v-1h-1v-1h1zM225 374h1v1h1v1h-1v1h-1v-1h-1v-1h1zM225 379h1v1h1v1h-1v1h-1v-1h-1v-1h1zM225 381h1v1h1v1h-1v1h-1v-1h-1v-1h1zM225 385h1v1h1v1h-1v1h-1v-1h-1v-1h1zM225 387h1v1h1v1h-1v1h-1v-1h-1v-1h1zM225 388h1v1h1v1h-1v1h-1v-1h-1v-1h1zM225 393h1v1h1v1h-1v1h-1v-1h-1v-1h1zM225 395h1v1h1v1h-1v1h-1v-1h-1v-1h1zM225 397h1v1h1v1h-1v1h-1v-1h-1v-1h1zM225 402h1v1h1v1h-1v1h-1v-1h-1v-1h1zM225 403h1v1h1v1h-1v1h-1v-1h-1v-1h1zM225 410h1v1h1v1h-1v1h-1v-1h-1v-1h1zM225 413h1v1h1v1h-1v1h-1v-1h-1v-1h1zM225 420h1v1h1v1h-1v1h-1v-1h-1v-1h1zM226 280h1v1h1v1h-1v1h-1v-1h-1v-1h1zM226 288h1v1h1v1h-1v1h-1v-1h-1v-1h1zM226 289h1v1h1v1h-1v1h-1v-1h-1v-1h1zM226 293h1v1h1v1h-1v1h-1v-1h-1v-1h1zM226 297h1v1h1v1h-1v1h-1v-1h-1v-1h1zM226 371h1v1h1v1h-1v1h-1v-1h-1v-1h1zM226 381h1v1h1v1h-1v1h-1v-1h-1v-1h1zM226 382h1v1h1v1h-1v1h-1v-1h-1v-1h1zM226 383h1v1h1v1h-1v1h-1v-1h-1v-1h1zM226 389h1v1h1v1h-1v1h-1v-1h-1v-1h1zM226 392h1v1h1v1h-1v1h-1v-1h-1v-1h1zM226 398h1v1h1v1h-1v1h-1v-1h-1v-1h1zM226 401h1v1h1v1h-1v1h-1v-1h-1v-1h1zM226 411h1v1h1v1h-1v1h-1v-1h-1v-1h1zM226 413h1v1h1v1h-1v1h-1v-1h-1v-1h1zM226 434h1v1h1v1h-1v1h-1v-1h-1v-1h1zM226 440h1v1h1v1h-1v1h-1v-1h-1v-1h1zM227 285h1v1h1v1h-1v1h-1v-1h-1v-1h1zM227 289h1v1h1v1h-1v1h-1v-1h-1v-1h1zM227 290h1v1h1v1h-1v1h-1v-1h-1v-1h1zM227 291h1v1h1v1h-1v1h-1v-1h-1v-1h1zM227 292h1v1h1v1h-1v1h-1v-1h-1v-1h1zM227 297h1v1h1v1h-1v1h-1v-1h-1v-1h1zM227 348h1v1h1v1h-1v1h-1v-1h-1v-1h1zM227 356h1v1h1v1h-1v1h-1v-1h-1v-1h1zM227 359h1v1h1v1h-1v1h-1v-1h-1v-1h1zM227 362h1v1h1v1h-1v1h-1v-1h-1v-1h1zM227 373h1v1h1v1h-1v1h-1v-1h-1v-1h1zM227 377h1v1h1v1h-1v1h-1v-1h-1v-1h1zM227 387h1v1h1v1h-1v1h-1v-1h-1v-1h1zM227 392h1v1h1v1h-1v1h-1v-1h-1v-1h1zM227 401h1v1h1v1h-1v1h-1v-1h-1v-1h1zM227 410h1v1h1v1h-1v1h-1v-1h-1v-1h1zM227 420h1v1h1v1h-1v1h-1v-1h-1v-1h1zM227 468h1v1h1v1h-1v1h-1v-1h-1v-1h1zM228 268h1v1h1v1h-1v1h-1v-1h-1v-1h1zM228 283h1v1h1v1h-1v1h-1v-1h-1v-1h1zM228 286h1v1h1v1h-1v1h-1v-1h-1v-1h1zM228 290h1v1h1v1h-1v1h-1v-1h-1v-1h1zM228 293h1v1h1v1h-1v1h-1v-1h-1v-1h1zM228 295h1v1h1v1h-1v1h-1v-1h-1v-1h1zM228 298h1v1h1v1h-1v1h-1v-1h-1v-1h1zM228 299h1v1h1v1h-1v1h-1v-1h-1v-1h1zM228 314h1v1h1v1h-1v1h-1v-1h-1v-1h1zM228 319h1v1h1v1h-1v1h-1v-1h-1v-1h1zM228 367h1v1h1v1h-1v1h-1v-1h-1v-1h1zM228 383h1v1h1v1h-1v1h-1v-1h-1v-1h1zM228 394h1v1h1v1h-1v1h-1v-1h-1v-1h1zM228 397h1v1h1v1h-1v1h-1v-1h-1v-1h1zM228 416h1v1h1v1h-1v1h-1v-1h-1v-1h1zM228 424h1v1h1v1h-1v1h-1v-1h-1v-1h1zM229 281h1v1h1v1h-1v1h-1v-1h-1v-1h1zM229 284h1v1h1v1h-1v1h-1v-1h-1v-1h1zM229 285h1v1h1v1h-1v1h-1v-1h-1v-1h1zM229 287h1v1h1v1h-1v1h-1v-1h-1v-1h1zM229 288h1v1h1v1h-1v1h-1v-1h-1v-1h1zM229 289h1v1h1v1h-1v1h-1v-1h-1v-1h1zM229 291h1v1h1v1h-1v1h-1v-1h-1v-1h1zM229 292h1v1h1v1h-1v1h-1v-1h-1v-1h1zM229 299h1v1h1v1h-1v1h-1v-1h-1v-1h1zM229 302h1v1h1v1h-1v1h-1v-1h-1v-1h1zM229 314h1v1h1v1h-1v1h-1v-1h-1v-1h1zM229 330h1v1h1v1h-1v1h-1v-1h-1v-1h1zM229 336h1v1h1v1h-1v1h-1v-1h-1v-1h1zM229 342h1v1h1v1h-1v1h-1v-1h-1v-1h1zM229 365h1v1h1v1h-1v1h-1v-1h-1v-1h1zM229 374h1v1h1v1h-1v1h-1v-1h-1v-1h1zM229 380h1v1h1v1h-1v1h-1v-1h-1v-1h1zM229 387h1v1h1v1h-1v1h-1v-1h-1v-1h1zM229 392h1v1h1v1h-1v1h-1v-1h-1v-1h1zM229 395h1v1h1v1h-1v1h-1v-1h-1v-1h1zM229 397h1v1h1v1h-1v1h-1v-1h-1v-1h1zM229 401h1v1h1v1h-1v1h-1v-1h-1v-1h1zM229 408h1v1h1v1h-1v1h-1v-1h-1v-1h1zM229 422h1v1h1v1h-1v1h-1v-1h-1v-1h1zM229 443h1v1h1v1h-1v1h-1v-1h-1v-1h1zM230 258h1v1h1v1h-1v1h-1v-1h-1v-1h1zM230 283h1v1h1v1h-1v1h-1v-1h-1v-1h1zM230 284h1v1h1v1h-1v1h-1v-1h-1v-1h1zM230 285h1v1h1v1h-1v1h-1v-1h-1v-1h1zM230 286h1v1h1v1h-1v1h-1v-1h-1v-1h1zM230 288h1v1h1v1h-1v1h-1v-1h-1v-1h1zM230 293h1v1h1v1h-1v1h-1v-1h-1v-1h1zM230 304h1v1h1v1h-1v1h-1v-1h-1v-1h1zM230 316h1v1h1v1h-1v1h-1v-1h-1v-1h1zM230 349h1v1h1v1h-1v1h-1v-1h-1v-1h1zM230 382h1v1h1v1h-1v1h-1v-1h-1v-1h1zM230 384h1v1h1v1h-1v1h-1v-1h-1v-1h1zM230 385h1v1h1v1h-1v1h-1v-1h-1v-1h1zM230 387h1v1h1v1h-1v1h-1v-1h-1v-1h1zM230 389h1v1h1v1h-1v1h-1v-1h-1v-1h1zM230 393h1v1h1v1h-1v1h-1v-1h-1v-1h1zM230 396h1v1h1v1h-1v1h-1v-1h-1v-1h1zM230 398h1v1h1v1h-1v1h-1v-1h-1v-1h1zM230 409h1v1h1v1h-1v1h-1v-1h-1v-1h1zM230 413h1v1h1v1h-1v1h-1v-1h-1v-1h1zM230 416h1v1h1v1h-1v1h-1v-1h-1v-1h1zM230 420h1v1h1v1h-1v1h-1v-1h-1v-1h1zM230 422h1v1h1v1h-1v1h-1v-1h-1v-1h1zM230 431h1v1h1v1h-1v1h-1v-1h-1v-1h1zM230 438h1v1h1v1h-1v1h-1v-1h-1v-1h1zM230 459h1v1h1v1h-1v1h-1v-1h-1v-1h1zM231 284h1v1h1v1h-1v1h-1v-1h-1v-1h1zM231 287h1v1h1v1h-1v1h-1v-1h-1v-1h1zM231 289h1v1h1v1h-1v1h-1v-1h-1v-1h1zM231 320h1v1h1v1h-1v1h-1v-1h-1v-1h1zM231 321h1v1h1v1h-1v1h-1v-1h-1v-1h1zM231 327h1v1h1v1h-1v1h-1v-1h-1v-1h1zM231 366h1v1h1v1h-1v1h-1v-1h-1v-1h1zM231 369h1v1h1v1h-1v1h-1v-1h-1v-1h1zM231 373h1v1h1v1h-1v1h-1v-1h-1v-1h1zM231 378h1v1h1v1h-1v1h-1v-1h-1v-1h1zM231 389h1v1h1v1h-1v1h-1v-1h-1v-1h1zM231 393h1v1h1v1h-1v1h-1v-1h-1v-1h1zM231 425h1v1h1v1h-1v1h-1v-1h-1v-1h1zM231 440h1v1h1v1h-1v1h-1v-1h-1v-1h1zM231 451h1v1h1v1h-1v1h-1v-1h-1v-1h1zM231 464h1v1h1v1h-1v1h-1v-1h-1v-1h1zM232 282h1v1h1v1h-1v1h-1v-1h-1v-1h1zM232 285h1v1h1v1h-1v1h-1v-1h-1v-1h1zM232 288h1v1h1v1h-1v1h-1v-1h-1v-1h1zM232 337h1v1h1v1h-1v1h-1v-1h-1v-1h1zM232 370h1v1h1v1h-1v1h-1v-1h-1v-1h1zM232 376h1v1h1v1h-1v1h-1v-1h-1v-1h1zM232 377h1v1h1v1h-1v1h-1v-1h-1v-1h1zM232 379h1v1h1v1h-1v1h-1v-1h-1v-1h1zM232 385h1v1h1v1h-1v1h-1v-1h-1v-1h1zM232 395h1v1h1v1h-1v1h-1v-1h-1v-1h1zM232 398h1v1h1v1h-1v1h-1v-1h-1v-1h1zM232 409h1v1h1v1h-1v1h-1v-1h-1v-1h1zM232 417h1v1h1v1h-1v1h-1v-1h-1v-1h1zM232 451h1v1h1v1h-1v1h-1v-1h-1v-1h1zM233 278h1v1h1v1h-1v1h-1v-1h-1v-1h1zM233 282h1v1h1v1h-1v1h-1v-1h-1v-1h1zM233 283h1v1h1v1h-1v1h-1v-1h-1v-1h1zM233 284h1v1h1v1h-1v1h-1v-1h-1v-1h1zM233 319h1v1h1v1h-1v1h-1v-1h-1v-1h1zM233 344h1v1h1v1h-1v1h-1v-1h-1v-1h1zM233 374h1v1h1v1h-1v1h-1v-1h-1v-1h1zM233 378h1v1h1v1h-1v1h-1v-1h-1v-1h1zM233 379h1v1h1v1h-1v1h-1v-1h-1v-1h1zM233 391h1v1h1v1h-1v1h-1v-1h-1v-1h1zM233 397h1v1h1v1h-1v1h-1v-1h-1v-1h1zM233 399h1v1h1v1h-1v1h-1v-1h-1v-1h1zM233 404h1v1h1v1h-1v1h-1v-1h-1v-1h1zM233 411h1v1h1v1h-1v1h-1v-1h-1v-1h1zM233 415h1v1h1v1h-1v1h-1v-1h-1v-1h1zM233 481h1v1h1v1h-1v1h-1v-1h-1v-1h1zM234 267h1v1h1v1h-1v1h-1v-1h-1v-1h1zM234 281h1v1h1v1h-1v1h-1v-1h-1v-1h1zM234 284h1v1h1v1h-1v1h-1v-1h-1v-1h1zM234 288h1v1h1v1h-1v1h-1v-1h-1v-1h1zM234 328h1v1h1v1h-1v1h-1v-1h-1v-1h1zM234 334h1v1h1v1h-1v1h-1v-1h-1v-1h1zM234 335h1v1h1v1h-1v1h-1v-1h-1v-1h1zM234 341h1v1h1v1h-1v1h-1v-1h-1v-1h1zM234 353h1v1h1v1h-1v1h-1v-1h-1v-1h1zM234 362h1v1h1v1h-1v1h-1v-1h-1v-1h1zM234 366h1v1h1v1h-1v1h-1v-1h-1v-1h1zM234 367h1v1h1v1h-1v1h-1v-1h-1v-1h1zM234 386h1v1h1v1h-1v1h-1v-1h-1v-1h1zM234 388h1v1h1v1h-1v1h-1v-1h-1v-1h1zM234 396h1v1h1v1h-1v1h-1v-1h-1v-1h1zM234 397h1v1h1v1h-1v1h-1v-1h-1v-1h1zM234 481h1v1h1v1h-1v1h-1v-1h-1v-1h1zM235 263h1v1h1v1h-1v1h-1v-1h-1v-1h1zM235 276h1v1h1v1h-1v1h-1v-1h-1v-1h1zM235 280h1v1h1v1h-1v1h-1v-1h-1v-1h1zM235 284h1v1h1v1h-1v1h-1v-1h-1v-1h1zM235 285h1v1h1v1h-1v1h-1v-1h-1v-1h1zM235 287h1v1h1v1h-1v1h-1v-1h-1v-1h1zM235 296h1v1h1v1h-1v1h-1v-1h-1v-1h1zM235 314h1v1h1v1h-1v1h-1v-1h-1v-1h1zM235 319h1v1h1v1h-1v1h-1v-1h-1v-1h1zM235 330h1v1h1v1h-1v1h-1v-1h-1v-1h1zM235 346h1v1h1v1h-1v1h-1v-1h-1v-1h1zM235 358h1v1h1v1h-1v1h-1v-1h-1v-1h1zM235 360h1v1h1v1h-1v1h-1v-1h-1v-1h1zM235 363h1v1h1v1h-1v1h-1v-1h-1v-1h1zM235 371h1v1h1v1h-1v1h-1v-1h-1v-1h1zM235 375h1v1h1v1h-1v1h-1v-1h-1v-1h1zM235 378h1v1h1v1h-1v1h-1v-1h-1v-1h1zM235 390h1v1h1v1h-1v1h-1v-1h-1v-1h1zM235 396h1v1h1v1h-1v1h-1v-1h-1v-1h1zM235 403h1v1h1v1h-1v1h-1v-1h-1v-1h1zM235 422h1v1h1v1h-1v1h-1v-1h-1v-1h1zM235 432h1v1h1v1h-1v1h-1v-1h-1v-1h1zM235 437h1v1h1v1h-1v1h-1v-1h-1v-1h1zM235 458h1v1h1v1h-1v1h-1v-1h-1v-1h1zM236 265h1v1h1v1h-1v1h-1v-1h-1v-1h1zM236 281h1v1h1v1h-1v1h-1v-1h-1v-1h1zM236 284h1v1h1v1h-1v1h-1v-1h-1v-1h1zM236 285h1v1h1v1h-1v1h-1v-1h-1v-1h1zM236 286h1v1h1v1h-1v1h-1v-1h-1v-1h1zM236 287h1v1h1v1h-1v1h-1v-1h-1v-1h1zM236 304h1v1h1v1h-1v1h-1v-1h-1v-1h1zM236 312h1v1h1v1h-1v1h-1v-1h-1v-1h1zM236 362h1v1h1v1h-1v1h-1v-1h-1v-1h1zM236 368h1v1h1v1h-1v1h-1v-1h-1v-1h1zM236 372h1v1h1v1h-1v1h-1v-1h-1v-1h1zM236 376h1v1h1v1h-1v1h-1v-1h-1v-1h1zM236 398h1v1h1v1h-1v1h-1v-1h-1v-1h1zM236 403h1v1h1v1h-1v1h-1v-1h-1v-1h1zM236 420h1v1h1v1h-1v1h-1v-1h-1v-1h1zM236 429h1v1h1v1h-1v1h-1v-1h-1v-1h1zM236 450h1v1h1v1h-1v1h-1v-1h-1v-1h1zM236 463h1v1h1v1h-1v1h-1v-1h-1v-1h1zM236 495h1v1h1v1h-1v1h-1v-1h-1v-1h1zM237 231h1v1h1v1h-1v1h-1v-1h-1v-1h1zM237 273h1v1h1v1h-1v1h-1v-1h-1v-1h1zM237 274h1v1h1v1h-1v1h-1v-1h-1v-1h1zM237 275h1v1h1v1h-1v1h-1v-1h-1v-1h1zM237 276h1v1h1v1h-1v1h-1v-1h-1v-1h1zM237 277h1v1h1v1h-1v1h-1v-1h-1v-1h1zM237 281h1v1h1v1h-1v1h-1v-1h-1v-1h1zM237 282h1v1h1v1h-1v1h-1v-1h-1v-1h1zM237 283h1v1h1v1h-1v1h-1v-1h-1v-1h1zM237 285h1v1h1v1h-1v1h-1v-1h-1v-1h1zM237 288h1v1h1v1h-1v1h-1v-1h-1v-1h1zM237 295h1v1h1v1h-1v1h-1v-1h-1v-1h1zM237 297h1v1h1v1h-1v1h-1v-1h-1v-1h1zM237 328h1v1h1v1h-1v1h-1v-1h-1v-1h1zM237 349h1v1h1v1h-1v1h-1v-1h-1v-1h1zM237 366h1v1h1v1h-1v1h-1v-1h-1v-1h1zM237 376h1v1h1v1h-1v1h-1v-1h-1v-1h1zM237 389h1v1h1v1h-1v1h-1v-1h-1v-1h1zM237 390h1v1h1v1h-1v1h-1v-1h-1v-1h1zM237 439h1v1h1v1h-1v1h-1v-1h-1v-1h1zM237 442h1v1h1v1h-1v1h-1v-1h-1v-1h1zM237 448h1v1h1v1h-1v1h-1v-1h-1v-1h1zM238 278h1v1h1v1h-1v1h-1v-1h-1v-1h1zM238 280h1v1h1v1h-1v1h-1v-1h-1v-1h1zM238 281h1v1h1v1h-1v1h-1v-1h-1v-1h1zM238 284h1v1h1v1h-1v1h-1v-1h-1v-1h1zM238 285h1v1h1v1h-1v1h-1v-1h-1v-1h1zM238 290h1v1h1v1h-1v1h-1v-1h-1v-1h1zM238 297h1v1h1v1h-1v1h-1v-1h-1v-1h1zM238 298h1v1h1v1h-1v1h-1v-1h-1v-1h1zM238 300h1v1h1v1h-1v1h-1v-1h-1v-1h1zM238 302h1v1h1v1h-1v1h-1v-1h-1v-1h1zM238 332h1v1h1v1h-1v1h-1v-1h-1v-1h1zM238 334h1v1h1v1h-1v1h-1v-1h-1v-1h1zM238 337h1v1h1v1h-1v1h-1v-1h-1v-1h1zM238 347h1v1h1v1h-1v1h-1v-1h-1v-1h1zM238 356h1v1h1v1h-1v1h-1v-1h-1v-1h1zM238 359h1v1h1v1h-1v1h-1v-1h-1v-1h1zM238 369h1v1h1v1h-1v1h-1v-1h-1v-1h1zM238 373h1v1h1v1h-1v1h-1v-1h-1v-1h1zM238 414h1v1h1v1h-1v1h-1v-1h-1v-1h1zM238 428h1v1h1v1h-1v1h-1v-1h-1v-1h1zM238 446h1v1h1v1h-1v1h-1v-1h-1v-1h1zM238 472h1v1h1v1h-1v1h-1v-1h-1v-1h1zM239 266h1v1h1v1h-1v1h-1v-1h-1v-1h1zM239 267h1v1h1v1h-1v1h-1v-1h-1v-1h1zM239 271h1v1h1v1h-1v1h-1v-1h-1v-1h1zM239 274h1v1h1v1h-1v1h-1v-1h-1v-1h1zM239 278h1v1h1v1h-1v1h-1v-1h-1v-1h1zM239 283h1v1h1v1h-1v1h-1v-1h-1v-1h1zM239 285h1v1h1v1h-1v1h-1v-1h-1v-1h1zM239 286h1v1h1v1h-1v1h-1v-1h-1v-1h1zM239 288h1v1h1v1h-1v1h-1v-1h-1v-1h1zM239 289h1v1h1v1h-1v1h-1v-1h-1v-1h1zM239 292h1v1h1v1h-1v1h-1v-1h-1v-1h1zM239 299h1v1h1v1h-1v1h-1v-1h-1v-1h1zM239 325h1v1h1v1h-1v1h-1v-1h-1v-1h1zM239 332h1v1h1v1h-1v1h-1v-1h-1v-1h1zM239 339h1v1h1v1h-1v1h-1v-1h-1v-1h1zM239 360h1v1h1v1h-1v1h-1v-1h-1v-1h1zM239 416h1v1h1v1h-1v1h-1v-1h-1v-1h1zM240 267h1v1h1v1h-1v1h-1v-1h-1v-1h1zM240 271h1v1h1v1h-1v1h-1v-1h-1v-1h1zM240 273h1v1h1v1h-1v1h-1v-1h-1v-1h1zM240 278h1v1h1v1h-1v1h-1v-1h-1v-1h1zM240 283h1v1h1v1h-1v1h-1v-1h-1v-1h1zM240 286h1v1h1v1h-1v1h-1v-1h-1v-1h1zM240 287h1v1h1v1h-1v1h-1v-1h-1v-1h1zM240 290h1v1h1v1h-1v1h-1v-1h-1v-1h1zM240 305h1v1h1v1h-1v1h-1v-1h-1v-1h1zM240 332h1v1h1v1h-1v1h-1v-1h-1v-1h1zM240 348h1v1h1v1h-1v1h-1v-1h-1v-1h1zM240 351h1v1h1v1h-1v1h-1v-1h-1v-1h1zM240 358h1v1h1v1h-1v1h-1v-1h-1v-1h1zM240 364h1v1h1v1h-1v1h-1v-1h-1v-1h1zM240 396h1v1h1v1h-1v1h-1v-1h-1v-1h1zM240 406h1v1h1v1h-1v1h-1v-1h-1v-1h1zM240 414h1v1h1v1h-1v1h-1v-1h-1v-1h1zM241 230h1v1h1v1h-1v1h-1v-1h-1v-1h1zM241 239h1v1h1v1h-1v1h-1v-1h-1v-1h1zM241 262h1v1h1v1h-1v1h-1v-1h-1v-1h1zM241 265h1v1h1v1h-1v1h-1v-1h-1v-1h1zM241 266h1v1h1v1h-1v1h-1v-1h-1v-1h1zM241 267h1v1h1v1h-1v1h-1v-1h-1v-1h1zM241 269h1v1h1v1h-1v1h-1v-1h-1v-1h1zM241 270h1v1h1v1h-1v1h-1v-1h-1v-1h1zM241 272h1v1h1v1h-1v1h-1v-1h-1v-1h1zM241 281h1v1h1v1h-1v1h-1v-1h-1v-1h1zM241 283h1v1h1v1h-1v1h-1v-1h-1v-1h1zM241 284h1v1h1v1h-1v1h-1v-1h-1v-1h1zM241 288h1v1h1v1h-1v1h-1v-1h-1v-1h1zM241 289h1v1h1v1h-1v1h-1v-1h-1v-1h1zM241 290h1v1h1v1h-1v1h-1v-1h-1v-1h1zM241 291h1v1h1v1h-1v1h-1v-1h-1v-1h1zM241 293h1v1h1v1h-1v1h-1v-1h-1v-1h1zM241 300h1v1h1v1h-1v1h-1v-1h-1v-1h1zM241 303h1v1h1v1h-1v1h-1v-1h-1v-1h1zM241 304h1v1h1v1h-1v1h-1v-1h-1v-1h1zM241 324h1v1h1v1h-1v1h-1v-1h-1v-1h1zM241 344h1v1h1v1h-1v1h-1v-1h-1v-1h1zM241 359h1v1h1v1h-1v1h-1v-1h-1v-1h1zM241 371h1v1h1v1h-1v1h-1v-1h-1v-1h1zM241 389h1v1h1v1h-1v1h-1v-1h-1v-1h1zM241 390h1v1h1v1h-1v1h-1v-1h-1v-1h1zM241 399h1v1h1v1h-1v1h-1v-1h-1v-1h1zM241 429h1v1h1v1h-1v1h-1v-1h-1v-1h1zM241 452h1v1h1v1h-1v1h-1v-1h-1v-1h1zM242 264h1v1h1v1h-1v1h-1v-1h-1v-1h1zM242 267h1v1h1v1h-1v1h-1v-1h-1v-1h1zM242 270h1v1h1v1h-1v1h-1v-1h-1v-1h1zM242 276h1v1h1v1h-1v1h-1v-1h-1v-1h1zM242 281h1v1h1v1h-1v1h-1v-1h-1v-1h1zM242 283h1v1h1v1h-1v1h-1v-1h-1v-1h1zM242 285h1v1h1v1h-1v1h-1v-1h-1v-1h1zM242 286h1v1h1v1h-1v1h-1v-1h-1v-1h1zM242 287h1v1h1v1h-1v1h-1v-1h-1v-1h1zM242 288h1v1h1v1h-1v1h-1v-1h-1v-1h1zM242 290h1v1h1v1h-1v1h-1v-1h-1v-1h1zM242 291h1v1h1v1h-1v1h-1v-1h-1v-1h1zM242 292h1v1h1v1h-1v1h-1v-1h-1v-1h1zM242 297h1v1h1v1h-1v1h-1v-1h-1v-1h1zM242 298h1v1h1v1h-1v1h-1v-1h-1v-1h1zM242 325h1v1h1v1h-1v1h-1v-1h-1v-1h1zM242 343h1v1h1v1h-1v1h-1v-1h-1v-1h1zM242 353h1v1h1v1h-1v1h-1v-1h-1v-1h1zM242 364h1v1h1v1h-1v1h-1v-1h-1v-1h1zM242 368h1v1h1v1h-1v1h-1v-1h-1v-1h1zM242 370h1v1h1v1h-1v1h-1v-1h-1v-1h1zM242 372h1v1h1v1h-1v1h-1v-1h-1v-1h1zM242 378h1v1h1v1h-1v1h-1v-1h-1v-1h1zM242 389h1v1h1v1h-1v1h-1v-1h-1v-1h1zM242 398h1v1h1v1h-1v1h-1v-1h-1v-1h1zM242 403h1v1h1v1h-1v1h-1v-1h-1v-1h1zM242 419h1v1h1v1h-1v1h-1v-1h-1v-1h1zM242 425h1v1h1v1h-1v1h-1v-1h-1v-1h1zM242 431h1v1h1v1h-1v1h-1v-1h-1v-1h1zM242 444h1v1h1v1h-1v1h-1v-1h-1v-1h1zM243 262h1v1h1v1h-1v1h-1v-1h-1v-1h1zM243 263h1v1h1v1h-1v1h-1v-1h-1v-1h1zM243 266h1v1h1v1h-1v1h-1v-1h-1v-1h1zM243 269h1v1h1v1h-1v1h-1v-1h-1v-1h1zM243 272h1v1h1v1h-1v1h-1v-1h-1v-1h1zM243 274h1v1h1v1h-1v1h-1v-1h-1v-1h1zM243 276h1v1h1v1h-1v1h-1v-1h-1v-1h1zM243 284h1v1h1v1h-1v1h-1v-1h-1v-1h1zM243 287h1v1h1v1h-1v1h-1v-1h-1v-1h1zM243 289h1v1h1v1h-1v1h-1v-1h-1v-1h1zM243 292h1v1h1v1h-1v1h-1v-1h-1v-1h1zM243 297h1v1h1v1h-1v1h-1v-1h-1v-1h1zM243 300h1v1h1v1h-1v1h-1v-1h-1v-1h1zM243 301h1v1h1v1h-1v1h-1v-1h-1v-1h1zM243 302h1v1h1v1h-1v1h-1v-1h-1v-1h1zM243 328h1v1h1v1h-1v1h-1v-1h-1v-1h1zM243 353h1v1h1v1h-1v1h-1v-1h-1v-1h1zM243 358h1v1h1v1h-1v1h-1v-1h-1v-1h1zM243 359h1v1h1v1h-1v1h-1v-1h-1v-1h1zM243 362h1v1h1v1h-1v1h-1v-1h-1v-1h1zM243 374h1v1h1v1h-1v1h-1v-1h-1v-1h1zM243 379h1v1h1v1h-1v1h-1v-1h-1v-1h1zM243 382h1v1h1v1h-1v1h-1v-1h-1v-1h1zM243 393h1v1h1v1h-1v1h-1v-1h-1v-1h1zM243 414h1v1h1v1h-1v1h-1v-1h-1v-1h1zM244 264h1v1h1v1h-1v1h-1v-1h-1v-1h1zM244 266h1v1h1v1h-1v1h-1v-1h-1v-1h1zM244 267h1v1h1v1h-1v1h-1v-1h-1v-1h1zM244 270h1v1h1v1h-1v1h-1v-1h-1v-1h1zM244 271h1v1h1v1h-1v1h-1v-1h-1v-1h1zM244 273h1v1h1v1h-1v1h-1v-1h-1v-1h1zM244 275h1v1h1v1h-1v1h-1v-1h-1v-1h1zM244 277h1v1h1v1h-1v1h-1v-1h-1v-1h1zM244 280h1v1h1v1h-1v1h-1v-1h-1v-1h1zM244 282h1v1h1v1h-1v1h-1v-1h-1v-1h1zM244 284h1v1h1v1h-1v1h-1v-1h-1v-1h1zM244 286h1v1h1v1h-1v1h-1v-1h-1v-1h1zM244 287h1v1h1v1h-1v1h-1v-1h-1v-1h1zM244 288h1v1h1v1h-1v1h-1v-1h-1v-1h1zM244 289h1v1h1v1h-1v1h-1v-1h-1v-1h1zM244 300h1v1h1v1h-1v1h-1v-1h-1v-1h1zM244 315h1v1h1v1h-1v1h-1v-1h-1v-1h1zM244 317h1v1h1v1h-1v1h-1v-1h-1v-1h1zM244 325h1v1h1v1h-1v1h-1v-1h-1v-1h1zM244 332h1v1h1v1h-1v1h-1v-1h-1v-1h1zM244 336h1v1h1v1h-1v1h-1v-1h-1v-1h1zM244 348h1v1h1v1h-1v1h-1v-1h-1v-1h1zM244 350h1v1h1v1h-1v1h-1v-1h-1v-1h1zM244 357h1v1h1v1h-1v1h-1v-1h-1v-1h1zM244 399h1v1h1v1h-1v1h-1v-1h-1v-1h1zM244 410h1v1h1v1h-1v1h-1v-1h-1v-1h1zM244 424h1v1h1v1h-1v1h-1v-1h-1v-1h1zM244 436h1v1h1v1h-1v1h-1v-1h-1v-1h1zM244 450h1v1h1v1h-1v1h-1v-1h-1v-1h1zM244 453h1v1h1v1h-1v1h-1v-1h-1v-1h1zM245 272h1v1h1v1h-1v1h-1v-1h-1v-1h1zM245 276h1v1h1v1h-1v1h-1v-1h-1v-1h1zM245 277h1v1h1v1h-1v1h-1v-1h-1v-1h1zM245 281h1v1h1v1h-1v1h-1v-1h-1v-1h1zM245 282h1v1h1v1h-1v1h-1v-1h-1v-1h1zM245 297h1v1h1v1h-1v1h-1v-1h-1v-1h1zM245 301h1v1h1v1h-1v1h-1v-1h-1v-1h1zM245 302h1v1h1v1h-1v1h-1v-1h-1v-1h1zM245 316h1v1h1v1h-1v1h-1v-1h-1v-1h1zM245 318h1v1h1v1h-1v1h-1v-1h-1v-1h1zM245 319h1v1h1v1h-1v1h-1v-1h-1v-1h1zM245 331h1v1h1v1h-1v1h-1v-1h-1v-1h1zM245 337h1v1h1v1h-1v1h-1v-1h-1v-1h1zM245 338h1v1h1v1h-1v1h-1v-1h-1v-1h1zM245 350h1v1h1v1h-1v1h-1v-1h-1v-1h1zM245 354h1v1h1v1h-1v1h-1v-1h-1v-1h1zM245 432h1v1h1v1h-1v1h-1v-1h-1v-1h1zM245 442h1v1h1v1h-1v1h-1v-1h-1v-1h1zM245 445h1v1h1v1h-1v1h-1v-1h-1v-1h1zM246 271h1v1h1v1h-1v1h-1v-1h-1v-1h1zM246 274h1v1h1v1h-1v1h-1v-1h-1v-1h1zM246 277h1v1h1v1h-1v1h-1v-1h-1v-1h1zM246 281h1v1h1v1h-1v1h-1v-1h-1v-1h1zM246 282h1v1h1v1h-1v1h-1v-1h-1v-1h1zM246 284h1v1h1v1h-1v1h-1v-1h-1v-1h1zM246 297h1v1h1v1h-1v1h-1v-1h-1v-1h1zM246 313h1v1h1v1h-1v1h-1v-1h-1v-1h1zM246 315h1v1h1v1h-1v1h-1v-1h-1v-1h1zM246 320h1v1h1v1h-1v1h-1v-1h-1v-1h1zM246 321h1v1h1v1h-1v1h-1v-1h-1v-1h1zM246 334h1v1h1v1h-1v1h-1v-1h-1v-1h1zM246 342h1v1h1v1h-1v1h-1v-1h-1v-1h1zM246 367h1v1h1v1h-1v1h-1v-1h-1v-1h1zM246 373h1v1h1v1h-1v1h-1v-1h-1v-1h1zM246 377h1v1h1v1h-1v1h-1v-1h-1v-1h1zM246 436h1v1h1v1h-1v1h-1v-1h-1v-1h1zM246 471h1v1h1v1h-1v1h-1v-1h-1v-1h1zM247 273h1v1h1v1h-1v1h-1v-1h-1v-1h1zM247 275h1v1h1v1h-1v1h-1v-1h-1v-1h1zM247 276h1v1h1v1h-1v1h-1v-1h-1v-1h1zM247 278h1v1h1v1h-1v1h-1v-1h-1v-1h1zM247 279h1v1h1v1h-1v1h-1v-1h-1v-1h1zM247 281h1v1h1v1h-1v1h-1v-1h-1v-1h1zM247 293h1v1h1v1h-1v1h-1v-1h-1v-1h1zM247 294h1v1h1v1h-1v1h-1v-1h-1v-1h1zM247 295h1v1h1v1h-1v1h-1v-1h-1v-1h1zM247 297h1v1h1v1h-1v1h-1v-1h-1v-1h1zM247 320h1v1h1v1h-1v1h-1v-1h-1v-1h1zM247 324h1v1h1v1h-1v1h-1v-1h-1v-1h1zM247 338h1v1h1v1h-1v1h-1v-1h-1v-1h1zM247 352h1v1h1v1h-1v1h-1v-1h-1v-1h1zM247 356h1v1h1v1h-1v1h-1v-1h-1v-1h1zM247 360h1v1h1v1h-1v1h-1v-1h-1v-1h1zM247 362h1v1h1v1h-1v1h-1v-1h-1v-1h1zM247 382h1v1h1v1h-1v1h-1v-1h-1v-1h1zM247 416h1v1h1v1h-1v1h-1v-1h-1v-1h1zM247 434h1v1h1v1h-1v1h-1v-1h-1v-1h1zM247 441h1v1h1v1h-1v1h-1v-1h-1v-1h1zM248 142h1v1h1v1h-1v1h-1v-1h-1v-1h1zM248 275h1v1h1v1h-1v1h-1v-1h-1v-1h1zM248 294h1v1h1v1h-1v1h-1v-1h-1v-1h1zM248 302h1v1h1v1h-1v1h-1v-1h-1v-1h1zM248 313h1v1h1v1h-1v1h-1v-1h-1v-1h1zM248 324h1v1h1v1h-1v1h-1v-1h-1v-1h1zM248 326h1v1h1v1h-1v1h-1v-1h-1v-1h1zM248 334h1v1h1v1h-1v1h-1v-1h-1v-1h1zM248 356h1v1h1v1h-1v1h-1v-1h-1v-1h1zM248 361h1v1h1v1h-1v1h-1v-1h-1v-1h1zM248 365h1v1h1v1h-1v1h-1v-1h-1v-1h1zM248 368h1v1h1v1h-1v1h-1v-1h-1v-1h1zM248 389h1v1h1v1h-1v1h-1v-1h-1v-1h1zM248 394h1v1h1v1h-1v1h-1v-1h-1v-1h1zM248 399h1v1h1v1h-1v1h-1v-1h-1v-1h1zM248 420h1v1h1v1h-1v1h-1v-1h-1v-1h1zM248 451h1v1h1v1h-1v1h-1v-1h-1v-1h1zM249 267h1v1h1v1h-1v1h-1v-1h-1v-1h1zM249 290h1v1h1v1h-1v1h-1v-1h-1v-1h1zM249 334h1v1h1v1h-1v1h-1v-1h-1v-1h1zM249 341h1v1h1v1h-1v1h-1v-1h-1v-1h1zM249 346h1v1h1v1h-1v1h-1v-1h-1v-1h1zM249 352h1v1h1v1h-1v1h-1v-1h-1v-1h1zM249 379h1v1h1v1h-1v1h-1v-1h-1v-1h1zM249 385h1v1h1v1h-1v1h-1v-1h-1v-1h1zM249 404h1v1h1v1h-1v1h-1v-1h-1v-1h1zM249 413h1v1h1v1h-1v1h-1v-1h-1v-1h1zM249 425h1v1h1v1h-1v1h-1v-1h-1v-1h1zM249 452h1v1h1v1h-1v1h-1v-1h-1v-1h1zM250 258h1v1h1v1h-1v1h-1v-1h-1v-1h1zM250 292h1v1h1v1h-1v1h-1v-1h-1v-1h1zM250 293h1v1h1v1h-1v1h-1v-1h-1v-1h1zM250 298h1v1h1v1h-1v1h-1v-1h-1v-1h1zM250 302h1v1h1v1h-1v1h-1v-1h-1v-1h1zM250 309h1v1h1v1h-1v1h-1v-1h-1v-1h1zM250 315h1v1h1v1h-1v1h-1v-1h-1v-1h1zM250 318h1v1h1v1h-1v1h-1v-1h-1v-1h1zM250 320h1v1h1v1h-1v1h-1v-1h-1v-1h1zM250 325h1v1h1v1h-1v1h-1v-1h-1v-1h1zM250 341h1v1h1v1h-1v1h-1v-1h-1v-1h1zM250 349h1v1h1v1h-1v1h-1v-1h-1v-1h1zM250 387h1v1h1v1h-1v1h-1v-1h-1v-1h1zM250 414h1v1h1v1h-1v1h-1v-1h-1v-1h1zM250 435h1v1h1v1h-1v1h-1v-1h-1v-1h1zM250 449h1v1h1v1h-1v1h-1v-1h-1v-1h1zM251 243h1v1h1v1h-1v1h-1v-1h-1v-1h1zM251 263h1v1h1v1h-1v1h-1v-1h-1v-1h1zM251 266h1v1h1v1h-1v1h-1v-1h-1v-1h1zM251 269h1v1h1v1h-1v1h-1v-1h-1v-1h1zM251 270h1v1h1v1h-1v1h-1v-1h-1v-1h1zM251 311h1v1h1v1h-1v1h-1v-1h-1v-1h1zM251 318h1v1h1v1h-1v1h-1v-1h-1v-1h1zM251 321h1v1h1v1h-1v1h-1v-1h-1v-1h1zM251 342h1v1h1v1h-1v1h-1v-1h-1v-1h1zM251 345h1v1h1v1h-1v1h-1v-1h-1v-1h1zM251 370h1v1h1v1h-1v1h-1v-1h-1v-1h1zM251 375h1v1h1v1h-1v1h-1v-1h-1v-1h1zM251 389h1v1h1v1h-1v1h-1v-1h-1v-1h1zM251 390h1v1h1v1h-1v1h-1v-1h-1v-1h1zM251 391h1v1h1v1h-1v1h-1v-1h-1v-1h1zM251 404h1v1h1v1h-1v1h-1v-1h-1v-1h1zM251 444h1v1h1v1h-1v1h-1v-1h-1v-1h1zM252 261h1v1h1v1h-1v1h-1v-1h-1v-1h1zM252 262h1v1h1v1h-1v1h-1v-1h-1v-1h1zM252 269h1v1h1v1h-1v1h-1v-1h-1v-1h1zM252 277h1v1h1v1h-1v1h-1v-1h-1v-1h1zM252 293h1v1h1v1h-1v1h-1v-1h-1v-1h1zM252 297h1v1h1v1h-1v1h-1v-1h-1v-1h1zM252 302h1v1h1v1h-1v1h-1v-1h-1v-1h1zM252 312h1v1h1v1h-1v1h-1v-1h-1v-1h1zM252 362h1v1h1v1h-1v1h-1v-1h-1v-1h1zM252 387h1v1h1v1h-1v1h-1v-1h-1v-1h1zM252 402h1v1h1v1h-1v1h-1v-1h-1v-1h1zM252 419h1v1h1v1h-1v1h-1v-1h-1v-1h1zM252 500h1v1h1v1h-1v1h-1v-1h-1v-1h1zM253 252h1v1h1v1h-1v1h-1v-1h-1v-1h1zM253 318h1v1h1v1h-1v1h-1v-1h-1v-1h1zM253 321h1v1h1v1h-1v1h-1v-1h-1v-1h1zM253 352h1v1h1v1h-1v1h-1v-1h-1v-1h1zM253 365h1v1h1v1h-1v1h-1v-1h-1v-1h1zM253 378h1v1h1v1h-1v1h-1v-1h-1v-1h1zM253 389h1v1h1v1h-1v1h-1v-1h-1v-1h1zM253 402h1v1h1v1h-1v1h-1v-1h-1v-1h1zM253 421h1v1h1v1h-1v1h-1v-1h-1v-1h1zM253 428h1v1h1v1h-1v1h-1v-1h-1v-1h1zM253 435h1v1h1v1h-1v1h-1v-1h-1v-1h1zM253 440h1v1h1v1h-1v1h-1v-1h-1v-1h1zM254 254h1v1h1v1h-1v1h-1v-1h-1v-1h1zM254 260h1v1h1v1h-1v1h-1v-1h-1v-1h1zM254 265h1v1h1v1h-1v1h-1v-1h-1v-1h1zM254 280h1v1h1v1h-1v1h-1v-1h-1v-1h1zM254 291h1v1h1v1h-1v1h-1v-1h-1v-1h1zM254 296h1v1h1v1h-1v1h-1v-1h-1v-1h1zM254 313h1v1h1v1h-1v1h-1v-1h-1v-1h1zM254 317h1v1h1v1h-1v1h-1v-1h-1v-1h1zM254 345h1v1h1v1h-1v1h-1v-1h-1v-1h1zM254 353h1v1h1v1h-1v1h-1v-1h-1v-1h1zM254 361h1v1h1v1h-1v1h-1v-1h-1v-1h1zM254 422h1v1h1v1h-1v1h-1v-1h-1v-1h1zM254 463h1v1h1v1h-1v1h-1v-1h-1v-1h1zM255 249h1v1h1v1h-1v1h-1v-1h-1v-1h1zM255 269h1v1h1v1h-1v1h-1v-1h-1v-1h1zM255 273h1v1h1v1h-1v1h-1v-1h-1v-1h1zM255 294h1v1h1v1h-1v1h-1v-1h-1v-1h1zM255 295h1v1h1v1h-1v1h-1v-1h-1v-1h1zM255 298h1v1h1v1h-1v1h-1v-1h-1v-1h1zM255 316h1v1h1v1h-1v1h-1v-1h-1v-1h1zM255 317h1v1h1v1h-1v1h-1v-1h-1v-1h1zM255 318h1v1h1v1h-1v1h-1v-1h-1v-1h1zM255 325h1v1h1v1h-1v1h-1v-1h-1v-1h1zM255 328h1v1h1v1h-1v1h-1v-1h-1v-1h1zM255 378h1v1h1v1h-1v1h-1v-1h-1v-1h1zM255 379h1v1h1v1h-1v1h-1v-1h-1v-1h1zM256 259h1v1h1v1h-1v1h-1v-1h-1v-1h1zM256 264h1v1h1v1h-1v1h-1v-1h-1v-1h1zM256 296h1v1h1v1h-1v1h-1v-1h-1v-1h1zM256 317h1v1h1v1h-1v1h-1v-1h-1v-1h1zM256 330h1v1h1v1h-1v1h-1v-1h-1v-1h1zM256 349h1v1h1v1h-1v1h-1v-1h-1v-1h1zM256 358h1v1h1v1h-1v1h-1v-1h-1v-1h1zM256 387h1v1h1v1h-1v1h-1v-1h-1v-1h1zM256 404h1v1h1v1h-1v1h-1v-1h-1v-1h1zM257 250h1v1h1v1h-1v1h-1v-1h-1v-1h1zM257 254h1v1h1v1h-1v1h-1v-1h-1v-1h1zM257 267h1v1h1v1h-1v1h-1v-1h-1v-1h1zM257 283h1v1h1v1h-1v1h-1v-1h-1v-1h1zM257 309h1v1h1v1h-1v1h-1v-1h-1v-1h1zM257 325h1v1h1v1h-1v1h-1v-1h-1v-1h1zM257 327h1v1h1v1h-1v1h-1v-1h-1v-1h1zM257 328h1v1h1v1h-1v1h-1v-1h-1v-1h1zM257 342h1v1h1v1h-1v1h-1v-1h-1v-1h1zM257 344h1v1h1v1h-1v1h-1v-1h-1v-1h1zM257 345h1v1h1v1h-1v1h-1v-1h-1v-1h1zM257 356h1v1h1v1h-1v1h-1v-1h-1v-1h1zM257 387h1v1h1v1h-1v1h-1v-1h-1v-1h1zM257 389h1v1h1v1h-1v1h-1v-1h-1v-1h1zM257 438h1v1h1v1h-1v1h-1v-1h-1v-1h1zM257 451h1v1h1v1h-1v1h-1v-1h-1v-1h1zM258 263h1v1h1v1h-1v1h-1v-1h-1v-1h1zM258 270h1v1h1v1h-1v1h-1v-1h-1v-1h1zM258 297h1v1h1v1h-1v1h-1v-1h-1v-1h1zM258 301h1v1h1v1h-1v1h-1v-1h-1v-1h1zM258 354h1v1h1v1h-1v1h-1v-1h-1v-1h1zM258 385h1v1h1v1h-1v1h-1v-1h-1v-1h1zM258 413h1v1h1v1h-1v1h-1v-1h-1v-1h1zM258 426h1v1h1v1h-1v1h-1v-1h-1v-1h1zM259 248h1v1h1v1h-1v1h-1v-1h-1v-1h1zM259 252h1v1h1v1h-1v1h-1v-1h-1v-1h1zM259 256h1v1h1v1h-1v1h-1v-1h-1v-1h1zM259 262h1v1h1v1h-1v1h-1v-1h-1v-1h1zM259 265h1v1h1v1h-1v1h-1v-1h-1v-1h1zM259 269h1v1h1v1h-1v1h-1v-1h-1v-1h1zM259 334h1v1h1v1h-1v1h-1v-1h-1v-1h1zM259 368h1v1h1v1h-1v1h-1v-1h-1v-1h1zM259 379h1v1h1v1h-1v1h-1v-1h-1v-1h1zM259 380h1v1h1v1h-1v1h-1v-1h-1v-1h1zM259 395h1v1h1v1h-1v1h-1v-1h-1v-1h1zM259 399h1v1h1v1h-1v1h-1v-1h-1v-1h1zM259 419h1v1h1v1h-1v1h-1v-1h-1v-1h1zM260 232h1v1h1v1h-1v1h-1v-1h-1v-1h1zM260 238h1v1h1v1h-1v1h-1v-1h-1v-1h1zM260 263h1v1h1v1h-1v1h-1v-1h-1v-1h1zM260 265h1v1h1v1h-1v1h-1v-1h-1v-1h1zM260 311h1v1h1v1h-1v1h-1v-1h-1v-1h1zM260 327h1v1h1v1h-1v1h-1v-1h-1v-1h1zM260 336h1v1h1v1h-1v1h-1v-1h-1v-1h1zM260 339h1v1h1v1h-1v1h-1v-1h-1v-1h1zM260 392h1v1h1v1h-1v1h-1v-1h-1v-1h1zM260 397h1v1h1v1h-1v1h-1v-1h-1v-1h1zM260 399h1v1h1v1h-1v1h-1v-1h-1v-1h1zM260 432h1v1h1v1h-1v1h-1v-1h-1v-1h1zM261 246h1v1h1v1h-1v1h-1v-1h-1v-1h1zM261 250h1v1h1v1h-1v1h-1v-1h-1v-1h1zM261 272h1v1h1v1h-1v1h-1v-1h-1v-1h1zM261 300h1v1h1v1h-1v1h-1v-1h-1v-1h1zM261 317h1v1h1v1h-1v1h-1v-1h-1v-1h1zM261 331h1v1h1v1h-1v1h-1v-1h-1v-1h1zM261 341h1v1h1v1h-1v1h-1v-1h-1v-1h1zM261 350h1v1h1v1h-1v1h-1v-1h-1v-1h1zM261 409h1v1h1v1h-1v1h-1v-1h-1v-1h1zM261 441h1v1h1v1h-1v1h-1v-1h-1v-1h1zM261 451h1v1h1v1h-1v1h-1v-1h-1v-1h1zM262 329h1v1h1v1h-1v1h-1v-1h-1v-1h1zM262 336h1v1h1v1h-1v1h-1v-1h-1v-1h1zM262 337h1v1h1v1h-1v1h-1v-1h-1v-1h1zM262 341h1v1h1v1h-1v1h-1v-1h-1v-1h1zM262 352h1v1h1v1h-1v1h-1v-1h-1v-1h1zM262 381h1v1h1v1h-1v1h-1v-1h-1v-1h1zM262 388h1v1h1v1h-1v1h-1v-1h-1v-1h1zM262 411h1v1h1v1h-1v1h-1v-1h-1v-1h1zM262 430h1v1h1v1h-1v1h-1v-1h-1v-1h1zM263 211h1v1h1v1h-1v1h-1v-1h-1v-1h1zM263 241h1v1h1v1h-1v1h-1v-1h-1v-1h1zM263 254h1v1h1v1h-1v1h-1v-1h-1v-1h1zM263 267h1v1h1v1h-1v1h-1v-1h-1v-1h1zM263 332h1v1h1v1h-1v1h-1v-1h-1v-1h1zM263 333h1v1h1v1h-1v1h-1v-1h-1v-1h1zM263 339h1v1h1v1h-1v1h-1v-1h-1v-1h1zM263 360h1v1h1v1h-1v1h-1v-1h-1v-1h1zM264 224h1v1h1v1h-1v1h-1v-1h-1v-1h1zM264 233h1v1h1v1h-1v1h-1v-1h-1v-1h1zM264 252h1v1h1v1h-1v1h-1v-1h-1v-1h1zM264 255h1v1h1v1h-1v1h-1v-1h-1v-1h1zM264 273h1v1h1v1h-1v1h-1v-1h-1v-1h1zM264 283h1v1h1v1h-1v1h-1v-1h-1v-1h1zM264 322h1v1h1v1h-1v1h-1v-1h-1v-1h1zM264 332h1v1h1v1h-1v1h-1v-1h-1v-1h1zM264 339h1v1h1v1h-1v1h-1v-1h-1v-1h1zM264 348h1v1h1v1h-1v1h-1v-1h-1v-1h1zM264 357h1v1h1v1h-1v1h-1v-1h-1v-1h1zM264 450h1v1h1v1h-1v1h-1v-1h-1v-1h1zM264 452h1v1h1v1h-1v1h-1v-1h-1v-1h1zM265 222h1v1h1v1h-1v1h-1v-1h-1v-1h1zM265 241h1v1h1v1h-1v1h-1v-1h-1v-1h1zM265 243h1v1h1v1h-1v1h-1v-1h-1v-1h1zM265 247h1v1h1v1h-1v1h-1v-1h-1v-1h1zM265 347h1v1h1v1h-1v1h-1v-1h-1v-1h1zM265 371h1v1h1v1h-1v1h-1v-1h-1v-1h1zM265 498h1v1h1v1h-1v1h-1v-1h-1v-1h1zM266 246h1v1h1v1h-1v1h-1v-1h-1v-1h1zM266 262h1v1h1v1h-1v1h-1v-1h-1v-1h1zM266 333h1v1h1v1h-1v1h-1v-1h-1v-1h1zM266 352h1v1h1v1h-1v1h-1v-1h-1v-1h1zM266 353h1v1h1v1h-1v1h-1v-1h-1v-1h1zM266 364h1v1h1v1h-1v1h-1v-1h-1v-1h1zM266 444h1v1h1v1h-1v1h-1v-1h-1v-1h1zM267 342h1v1h1v1h-1v1h-1v-1h-1v-1h1zM267 362h1v1h1v1h-1v1h-1v-1h-1v-1h1zM267 381h1v1h1v1h-1v1h-1v-1h-1v-1h1zM268 241h1v1h1v1h-1v1h-1v-1h-1v-1h1zM268 264h1v1h1v1h-1v1h-1v-1h-1v-1h1zM268 328h1v1h1v1h-1v1h-1v-1h-1v-1h1zM268 360h1v1h1v1h-1v1h-1v-1h-1v-1h1zM268 369h1v1h1v1h-1v1h-1v-1h-1v-1h1zM268 383h1v1h1v1h-1v1h-1v-1h-1v-1h1zM268 453h1v1h1v1h-1v1h-1v-1h-1v-1h1zM269 337h1v1h1v1h-1v1h-1v-1h-1v-1h1zM269 339h1v1h1v1h-1v1h-1v-1h-1v-1h1zM270 330h1v1h1v1h-1v1h-1v-1h-1v-1h1zM270 333h1v1h1v1h-1v1h-1v-1h-1v-1h1zM270 334h1v1h1v1h-1v1h-1v-1h-1v-1h1zM270 371h1v1h1v1h-1v1h-1v-1h-1v-1h1zM271 332h1v1h1v1h-1v1h-1v-1h-1v-1h1zM271 349h1v1h1v1h-1v1h-1v-1h-1v-1h1zM271 387h1v1h1v1h-1v1h-1v-1h-1v-1h1zM271 437h1v1h1v1h-1v1h-1v-1h-1v-1h1zM272 252h1v1h1v1h-1v1h-1v-1h-1v-1h1zM272 342h1v1h1v1h-1v1h-1v-1h-1v-1h1zM272 345h1v1h1v1h-1v1h-1v-1h-1v-1h1zM272 348h1v1h1v1h-1v1h-1v-1h-1v-1h1zM272 353h1v1h1v1h-1v1h-1v-1h-1v-1h1zM272 357h1v1h1v1h-1v1h-1v-1h-1v-1h1zM273 277h1v1h1v1h-1v1h-1v-1h-1v-1h1zM273 340h1v1h1v1h-1v1h-1v-1h-1v-1h1zM273 390h1v1h1v1h-1v1h-1v-1h-1v-1h1zM273 397h1v1h1v1h-1v1h-1v-1h-1v-1h1zM273 420h1v1h1v1h-1v1h-1v-1h-1v-1h1zM273 463h1v1h1v1h-1v1h-1v-1h-1v-1h1zM274 275h1v1h1v1h-1v1h-1v-1h-1v-1h1zM276 446h1v1h1v1h-1v1h-1v-1h-1v-1h1zM278 228h1v1h1v1h-1v1h-1v-1h-1v-1h1zM280 237h1v1h1v1h-1v1h-1v-1h-1v-1h1zM282 98h1v1h1v1h-1v1h-1v-1h-1v-1h1zM285 462h1v1h1v1h-1v1h-1v-1h-1v-1h1zM290 368h1v1h1v1h-1v1h-1v-1h-1v-1h1zM293 396h1v1h1v1h-1v1h-1v-1h-1v-1h1zM296 397h1v1h1v1h-1v1h-1v-1h-1v-1h1zM299 393h1v1h1v1h-1v1h-1v-1h-1v-1h1zM299 395h1v1h1v1h-1v1h-1v-1h-1v-1h1zM299 488h1v1h1v1h-1v1h-1v-1h-1v-1h1zM304 262h1v1h1v1h-1v1h-1v-1h-1v-1h1zM304 428h1v1h1v1h-1v1h-1v-1h-1v-1h1zM305 388h1v1h1v1h-1v1h-1v-1h-1v-1h1zM309 191h1v1h1v1h-1v1h-1v-1h-1v-1h1zM310 57h1v1h1v1h-1v1h-1v-1h-1v-1h1zM348 127h1v1h1v1h-1v1h-1v-1h-1v-1h1zM348 177h1v1h1v1h-1v1h-1v-1h-1v-1h1zM352 92h1v1h1v1h-1v1h-1v-1h-1v-1h1zM352 443h1v1h1v1h-1v1h-1v-1h-1v-1h1zM355 429h1v1h1v1h-1v1h-1v-1h-1v-1h1zM356 131h1v1h1v1h-1v1h-1v-1h-1v-1h1zM360 428h1v1h1v1h-1v1h-1v-1h-1v-1h1zM361 171h1v1h1v1h-1v1h-1v-1h-1v-1h1zM361 202h1v1h1v1h-1v1h-1v-1h-1v-1h1zM361 203h1v1h1v1h-1v1h-1v-1h-1v-1h1zM361 428h1v1h1v1h-1v1h-1v-1h-1v-1h1zM363 255h1v1h1v1h-1v1h-1v-1h-1v-1h1zM367 262h1v1h1v1h-1v1h-1v-1h-1v-1h1zM372 141h1v1h1v1h-1v1h-1v-1h-1v-1h1zM384 69h1v1h1v1h-1v1h-1v-1h-1v-1h1zM399 433h1v1h1v1h-1v1h-1v-1h-1v-1h1zM401 67h1v1h1v1h-1v1h-1v-1h-1v-1h1zM404 428h1v1h1v1h-1v1h-1v-1h-1v-1h1zM405 472h1v1h1v1h-1v1h-1v-1h-1v-1h1zM410 339h1v1h1v1h-1v1h-1v-1h-1v-1h1zM411 414h1v1h1v1h-1v1h-1v-1h-1v-1h1zM413 86h1v1h1v1h-1v1h-1v-1h-1v-1h1zM415 353h1v1h1v1h-1v1h-1v-1h-1v-1h1z" fill="#f00" stroke="none"/><circle cx="242.5" cy="277.5" r="4.6" fill="#008000" stroke="none"/>
<path d="M55 45h371v470h-371z M56 46v468h369v-468z" fill="#000" fill-rule="evenodd" stroke="none"/>
<path d="M80 515h1v6h-1zM134 515h1v6h-1zM188 515h1v6h-1zM242 515h1v6h-1zM296 515h1v6h-1zM349 515h1v6h-1zM403 515h1v6h-1zM66 515h1v3h-1zM93 515h1v3h-1zM107 515h1v3h-1zM120 515h1v3h-1zM147 515h1v3h-1zM161 515h1v3h-1zM174 515h1v3h-1zM201 515h1v3h-1zM215 515h1v3h-1zM228 515h1v3h-1zM255 515h1v3h-1zM269 515h1v3h-1zM282 515h1v3h-1zM309 515h1v3h-1zM322 515h1v3h-1zM336 515h1v3h-1zM363 515h1v3h-1zM376 515h1v3h-1zM390 515h1v3h-1zM417 515h1v3h-1zM50 67h5v1h-5zM50 137h5v1h-5zM50 207h5v1h-5zM50 277h5v1h-5zM50 347h5v1h-5zM50 417h5v1h-5zM50 487h5v1h-5zM52 504h3v1h-3zM52 469h3v1h-3zM52 452h3v1h-3zM52 434h3v1h-3zM52 399h3v1h-3zM52 382h3v1h-3zM52 364h3v1h-3zM52 329h3v1h-3zM52 312h3v1h-3zM52 294h3v1h-3zM52 259h3v1h-3zM52 242h3v1h-3zM52 224h3v1h-3zM52 190h3v1h-3zM52 172h3v1h-3zM52 155h3v1h-3zM52 120h3v1h-3zM52 102h3v1h-3zM52 85h3v1h-3zM52 50h3v1h-3z" fill="#000" stroke="none"/>
<text transform="translate(80.5 532) scale(1 1.12)" text-anchor="middle" textLength="15.2" lengthAdjust="spacingAndGlyphs">-60</text>
<text transform="translate(134.5 532) scale(1 1.12)" text-anchor="middle" textLength="15.2" lengthAdjust="spacingAndGlyphs">-40</text>
<text transform="translate(188.5 532) scale(1 1.12)" text-anchor="middle" textLength="15.2" lengthAdjust="spacingAndGlyphs">-20</text>
<text transform="translate(242.5 532) scale(1 1.12)" text-anchor="middle" textLength="5.8" lengthAdjust="spacingAndGlyphs">0</text>
<text transform="translate(296.5 532) scale(1 1.12)" text-anchor="middle" textLength="11.7" lengthAdjust="spacingAndGlyphs">20</text>
<text transform="translate(349.5 532) scale(1 1.12)" text-anchor="middle" textLength="11.7" lengthAdjust="spacingAndGlyphs">40</text>
<text transform="translate(403.5 532) scale(1 1.12)" text-anchor="middle" textLength="11.7" lengthAdjust="spacingAndGlyphs">60</text>
<text transform="translate(47 71.8) scale(1 1.12)" text-anchor="end" textLength="11.7" lengthAdjust="spacingAndGlyphs">60</text>
<text transform="translate(47 141.8) scale(1 1.12)" text-anchor="end" textLength="11.7" lengthAdjust="spacingAndGlyphs">40</text>
<text transform="translate(47 211.8) scale(1 1.12)" text-anchor="end" textLength="11.7" lengthAdjust="spacingAndGlyphs">20</text>
<text transform="translate(47 281.8) scale(1 1.12)" text-anchor="end" textLength="5.8" lengthAdjust="spacingAndGlyphs">0</text>
<text transform="translate(47 351.8) scale(1 1.12)" text-anchor="end" textLength="15.2" lengthAdjust="spacingAndGlyphs">-20</text>
<text transform="translate(47 421.8) scale(1 1.12)" text-anchor="end" textLength="15.2" lengthAdjust="spacingAndGlyphs">-40</text>
<text transform="translate(47 491.8) scale(1 1.12)" text-anchor="end" textLength="15.2" lengthAdjust="spacingAndGlyphs">-60</text>
<text transform="translate(55.9 40) scale(1 1.12)" text-anchor="start" textLength="20.4" lengthAdjust="spacingAndGlyphs">var2</text>
<text transform="translate(240.5 547) scale(1 1.12)" text-anchor="middle" textLength="20.0" lengthAdjust="spacingAndGlyphs">var1</text>
<rect x="690" y="45" width="371" height="470" fill="#fff" stroke="none"/>
<path d="M701 398h1v1h1v1h-1v1h-1v-1h-1v-1h1zM701 402h1v1h1v1h-1v1h-1v-1h-1v-1h1zM702 392h1v1h1v1h-1v1h-1v-1h-1v-1h1zM702 395h1v1h1v1h-1v1h-1v-1h-1v-1h1zM702 399h1v1h1v1h-1v1h-1v-1h-1v-1h1zM702 400h1v1h1v1h-1v1h-1v-1h-1v-1h1zM702 401h1v1h1v1h-1v1h-1v-1h-1v-1h1zM702 403h1v1h1v1h-1v1h-1v-1h-1v-1h1zM703 374h1v1h1v1h-1v1h-1v-1h-1v-1h1zM703 380h1v1h1v1h-1v1h-1v-1h-1v-1h1zM703 385h1v1h1v1h-1v1h-1v-1h-1v-1h1zM703 388h1v1h1v1h-1v1h-1v-1h-1v-1h1zM703 390h1v1h1v1h-1v1h-1v-1h-1v-1h1zM703 392h1v1h1v1h-1v1h-1v-1h-1v-1h1zM703 395h1v1h1v1h-1v1h-1v-1h-1v-1h1zM703 396h1v1h1v1h-1v1h-1v-1h-1v-1h1zM703 397h1v1h1v1h-1v1h-1v-1h-1v-1h1zM703 401h1v1h1v1h-1v1h-1v-1h-1v-1h1zM703 404h1v1h1v1h-1v1h-1v-1h-1v-1h1zM704 371h1v1h1v1h-1v1h-1v-1h-1v-1h1zM704 377h1v1h1v1h-1v1h-1v-1h-1v-1h1zM704 378h1v1h1v1h-1v1h-1v-1h-1v-1h1zM704 382h1v1h1v1h-1v1h-1v-1h-1v-1h1zM704 386h1v1h1v1h-1v1h-1v-1h-1v-1h1zM704 388h1v1h1v1h-1v1h-1v-1h-1v-1h1zM704 389h1v1h1v1h-1v1h-1v-1h-1v-1h1zM704 393h1v1h1v1h-1v1h-1v-1h-1v-1h1zM704 394h1v1h1v1h-1v1h-1v-1h-1v-1h1zM704 398h1v1h1v1h-1v1h-1v-1h-1v-1h1zM704 407h1v1h1v1h-1v1h-1v-1h-1v-1h1zM705 378h1v1h1v1h-1v1h-1v-1h-1v-1h1zM705 379h1v1h1v1h-1v1h-1v-1h-1v-1h1zM705 382h1v1h1v1h-1v1h-1v-1h-1v-1h1zM705 384h1v1h1v1h-1v1h-1v-1h-1v-1h1zM705 386h1v1h1v1h-1v1h-1v-1h-1v-1h1zM705 387h1v1h1v1h-1v1h-1v-1h-1v-1h1zM705 390h1v1h1v1h-1v1h-1v-1h-1v-1h1zM705 407h1v1h1v1h-1v1h-1v-1h-1v-1h1zM705 410h1v1h1v1h-1v1h-1v-1h-1v-1h1zM705 412h1v1h1v1h-1v1h-1v-1h-1v-1h1zM706 367h1v1h1v1h-1v1h-1v-1h-1v-1h1zM706 374h1v1h1v1h-1v1h-1v-1h-1v-1h1zM706 376h1v1h1v1h-1v1h-1v-1h-1v-1h1zM706 381h1v1h1v1h-1v1h-1v-1h-1v-1h1zM706 383h1v1h1v1h-1v1h-1v-1h-1v-1h1zM706 384h1v1h1v1h-1v1h-1v-1h-1v-1h1zM706 388h1v1h1v1h-1v1h-1v-1h-1v-1h1zM706 391h1v1h1v1h-1v1h-1v-1h-1v-1h1zM706 393h1v1h1v1h-1v1h-1v-1h-1v-1h1zM706 411h1v1h1v1h-1v1h-1v-1h-1v-1h1zM706 413h1v1h1v1h-1v1h-1v-1h-1v-1h1zM706 414h1v1h1v1h-1v1h-1v-1h-1v-1h1zM706 415h1v1h1v1h-1v1h-1v-1h-1v-1h1zM706 424h1v1h1v1h-1v1h-1v-1h-1v-1h1zM706 426h1v1h1v1h-1v1h-1v-1h-1v-1h1zM706 428h1v1h1v1h-1v1h-1v-1h-1v-1h1zM707 370h1v1h1v1h-1v1h-1v-1h-1v-1h1zM707 371h1v1h1v1h-1v1h-1v-1h-1v-1h1zM707 383h1v1h1v1h-1v1h-1v-1h-1v-1h1zM707 413h1v1h1v1h-1v1h-1v-1h-1v-1h1zM707 418h1v1h1v1h-1v1h-1v-1h-1v-1h1zM707 431h1v1h1v1h-1v1h-1v-1h-1v-1h1zM707 433h1v1h1v1h-1v1h-1v-1h-1v-1h1zM708 364h1v1h1v1h-1v1h-1v-1h-1v-1h1zM708 367h1v1h1v1h-1v1h-1v-1h-1v-1h1zM708 369h1v1h1v1h-1v1h-1v-1h-1v-1h1zM708 373h1v1h1v1h-1v1h-1v-1h-1v-1h1zM708 423h1v1h1v1h-1v1h-1v-1h-1v-1h1zM708 434h1v1h1v1h-1v1h-1v-1h-1v-1h1zM708 435h1v1h1v1h-1v1h-1v-1h-1v-1h1zM709 367h1v1h1v1h-1v1h-1v-1h-1v-1h1zM709 368h1v1h1v1h-1v1h-1v-1h-1v-1h1zM709 371h1v1h1v1h-1v1h-1v-1h-1v-1h1zM709 373h1v1h1v1h-1v1h-1v-1h-1v-1h1zM709 418h1v1h1v1h-1v1h-1v-1h-1v-1h1zM709 429h1v1h1v1h-1v1h-1v-1h-1v-1h1zM709 435h1v1h1v1h-1v1h-1v-1h-1v-1h1zM709 437h1v1h1v1h-1v1h-1v-1h-1v-1h1zM710 363h1v1h1v1h-1v1h-1v-1h-1v-1h1zM710 365h1v1h1v1h-1v1h-1v-1h-1v-1h1zM710 368h1v1h1v1h-1v1h-1v-1h-1v-1h1zM710 372h1v1h1v1h-1v1h-1v-1h-1v-1h1zM710 416h1v1h1v1h-1v1h-1v-1h-1v-1h1zM710 438h1v1h1v1h-1v1h-1v-1h-1v-1h1zM711 418h1v1h1v1h-1v1h-1v-1h-1v-1h1zM711 422h1v1h1v1h-1v1h-1v-1h-1v-1h1zM711 435h1v1h1v1h-1v1h-1v-1h-1v-1h1zM711 438h1v1h1v1h-1v1h-1v-1h-1v-1h1zM711 442h1v1h1v1h-1v1h-1v-1h-1v-1h1zM712 355h1v1h1v1h-1v1h-1v-1h-1v-1h1zM712 411h1v1h1v1h-1v1h-1v-1h-1v-1h1zM712 426h1v1h1v1h-1v1h-1v-1h-1v-1h1zM712 431h1v1h1v1h-1v1h-1v-1h-1v-1h1zM712 436h1v1h1v1h-1v1h-1v-1h-1v-1h1zM712 439h1v1h1v1h-1v1h-1v-1h-1v-1h1zM712 440h1v1h1v1h-1v1h-1v-1h-1v-1h1zM712 442h1v1h1v1h-1v1h-1v-1h-1v-1h1zM712 444h1v1h1v1h-1v1h-1v-1h-1v-1h1zM713 353h1v1h1v1h-1v1h-1v-1h-1v-1h1zM713 429h1v1h1v1h-1v1h-1v-1h-1v-1h1zM713 438h1v1h1v1h-1v1h-1v-1h-1v-1h1zM713 441h1v1h1v1h-1v1h-1v-1h-1v-1h1zM713 444h1v1h1v1h-1v1h-1v-1h-1v-1h1zM713 445h1v1h1v1h-1v1h-1v-1h-1v-1h1zM714 419h1v1h1v1h-1v1h-1v-1h-1v-1h1zM714 423h1v1h1v1h-1v1h-1v-1h-1v-1h1zM714 435h1v1h1v1h-1v1h-1v-1h-1v-1h1zM714 448h1v1h1v1h-1v1h-1v-1h-1v-1h1zM715 418h1v1h1v1h-1v1h-1v-1h-1v-1h1zM715 431h1v1h1v1h-1v1h-1v-1h-1v-1h1zM715 436h1v1h1v1h-1v1h-1v-1h-1v-1h1zM715 439h1v1h1v1h-1v1h-1v-1h-1v-1h1zM715 444h1v1h1v1h-1v1h-1v-1h-1v-1h1zM715 445h1v1h1v1h-1v1h-1v-1h-1v-1h1zM715 446h1v1h1v1h-1v1h-1v-1h-1v-1h1zM715 447h1v1h1v1h-1v1h-1v-1h-1v-1h1zM716 342h1v1h1v1h-1v1h-1v-1h-1v-1h1zM716 425h1v1h1v1h-1v1h-1v-1h-1v-1h1zM716 428h1v1h1v1h-1v1h-1v-1h-1v-1h1zM716 447h1v1h1v1h-1v1h-1v-1h-1v-1h1zM716 448h1v1h1v1h-1v1h-1v-1h-1v-1h1zM716 450h1v1h1v1h-1v1h-1v-1h-1v-1h1zM717 357h1v1h1v1h-1v1h-1v-1h-1v-1h1zM717 449h1v1h1v1h-1v1h-1v-1h-1v-1h1zM717 450h1v1h1v1h-1v1h-1v-1h-1v-1h1zM717 451h1v1h1v1h-1v1h-1v-1h-1v-1h1zM718 350h1v1h1v1h-1v1h-1v-1h-1v-1h1zM718 427h1v1h1v1h-1v1h-1v-1h-1v-1h1zM718 449h1v1h1v1h-1v1h-1v-1h-1v-1h1zM718 450h1v1h1v1h-1v1h-1v-1h-1v-1h1zM718 452h1v1h1v1h-1v1h-1v-1h-1v-1h1zM718 453h1v1h1v1h-1v1h-1v-1h-1v-1h1zM719 354h1v1h1v1h-1v1h-1v-1h-1v-1h1zM719 433h1v1h1v1h-1v1h-1v-1h-1v-1h1zM719 446h1v1h1v1h-1v1h-1v-1h-1v-1h1zM719 450h1v1h1v1h-1v1h-1v-1h-1v-1h1zM719 454h1v1h1v1h-1v1h-1v-1h-1v-1h1zM720 439h1v1h1v1h-1v1h-1v-1h-1v-1h1zM720 449h1v1h1v1h-1v1h-1v-1h-1v-1h1zM720 451h1v1h1v1h-1v1h-1v-1h-1v-1h1zM720 454h1v1h1v1h-1v1h-1v-1h-1v-1h1zM720 455h1v1h1v1h-1v1h-1v-1h-1v-1h1zM721 445h1v1h1v1h-1v1h-1v-1h-1v-1h1zM721 449h1v1h1v1h-1v1h-1v-1h-1v-1h1zM721 451h1v1h1v1h-1v1h-1v-1h-1v-1h1zM721 455h1v1h1v1h-1v1h-1v-1h-1v-1h1zM722 446h1v1h1v1h-1v1h-1v-1h-1v-1h1zM722 450h1v1h1v1h-1v1h-1v-1h-1v-1h1zM722 452h1v1h1v1h-1v1h-1v-1h-1v-1h1zM722 454h1v1h1v1h-1v1h-1v-1h-1v-1h1zM722 455h1v1h1v1h-1v1h-1v-1h-1v-1h1zM723 427h1v1h1v1h-1v1h-1v-1h-1v-1h1zM723 439h1v1h1v1h-1v1h-1v-1h-1v-1h1zM723 452h1v1h1v1h-1v1h-1v-1h-1v-1h1zM723 454h1v1h1v1h-1v1h-1v-1h-1v-1h1zM723 455h1v1h1v1h-1v1h-1v-1h-1v-1h1zM723 456h1v1h1v1h-1v1h-1v-1h-1v-1h1zM723 457h1v1h1v1h-1v1h-1v-1h-1v-1h1zM724 446h1v1h1v1h-1v1h-1v-1h-1v-1h1zM724 455h1v1h1v1h-1v1h-1v-1h-1v-1h1zM724 456h1v1h1v1h-1v1h-1v-1h-1v-1h1zM724 457h1v1h1v1h-1v1h-1v-1h-1v-1h1zM724 458h1v1h1v1h-1v1h-1v-1h-1v-1h1zM725 363h1v1h1v1h-1v1h-1v-1h-1v-1h1zM725 443h1v1h1v1h-1v1h-1v-1h-1v-1h1zM725 455h1v1h1v1h-1v1h-1v-1h-1v-1h1zM725 456h1v1h1v1h-1v1h-1v-1h-1v-1h1zM725 459h1v1h1v1h-1v1h-1v-1h-1v-1h1zM726 426h1v1h1v1h-1v1h-1v-1h-1v-1h1zM726 436h1v1h1v1h-1v1h-1v-1h-1v-1h1zM726 454h1v1h1v1h-1v1h-1v-1h-1v-1h1zM726 455h1v1h1v1h-1v1h-1v-1h-1v-1h1zM726 456h1v1h1v1h-1v1h-1v-1h-1v-1h1zM726 457h1v1h1v1h-1v1h-1v-1h-1v-1h1zM726 458h1v1h1v1h-1v1h-1v-1h-1v-1h1zM726 459h1v1h1v1h-1v1h-1v-1h-1v-1h1zM726 460h1v1h1v1h-1v1h-1v-1h-1v-1h1zM727 236h1v1h1v1h-1v1h-1v-1h-1v-1h1zM727 427h1v1h1v1h-1v1h-1v-1h-1v-1h1zM727 440h1v1h1v1h-1v1h-1v-1h-1v-1h1zM727 451h1v1h1v1h-1v1h-1v-1h-1v-1h1zM727 458h1v1h1v1h-1v1h-1v-1h-1v-1h1zM727 460h1v1h1v1h-1v1h-1v-1h-1v-1h1zM728 448h1v1h1v1h-1v1h-1v-1h-1v-1h1zM728 456h1v1h1v1h-1v1h-1v-1h-1v-1h1zM728 457h1v1h1v1h-1v1h-1v-1h-1v-1h1zM728 458h1v1h1v1h-1v1h-1v-1h-1v-1h1zM728 459h1v1h1v1h-1v1h-1v-1h-1v-1h1zM728 461h1v1h1v1h-1v1h-1v-1h-1v-1h1zM728 462h1v1h1v1h-1v1h-1v-1h-1v-1h1zM729 460h1v1h1v1h-1v1h-1v-1h-1v-1h1zM729 461h1v1h1v1h-1v1h-1v-1h-1v-1h1zM730 440h1v1h1v1h-1v1h-1v-1h-1v-1h1zM730 450h1v1h1v1h-1v1h-1v-1h-1v-1h1zM730 451h1v1h1v1h-1v1h-1v-1h-1v-1h1zM730 458h1v1h1v1h-1v1h-1v-1h-1v-1h1zM730 459h1v1h1v1h-1v1h-1v-1h-1v-1h1zM730 460h1v1h1v1h-1v1h-1v-1h-1v-1h1zM730 461h1v1h1v1h-1v1h-1v-1h-1v-1h1zM730 462h1v1h1v1h-1v1h-1v-1h-1v-1h1zM730 463h1v1h1v1h-1v1h-1v-1h-1v-1h1zM731 455h1v1h1v1h-1v1h-1v-1h-1v-1h1zM731 459h1v1h1v1h-1v1h-1v-1h-1v-1h1zM731 462h1v1h1v1h-1v1h-1v-1h-1v-1h1zM732 446h1v1h1v1h-1v1h-1v-1h-1v-1h1zM732 460h1v1h1v1h-1v1h-1v-1h-1v-1h1zM732 461h1v1h1v1h-1v1h-1v-1h-1v-1h1zM732 462h1v1h1v1h-1v1h-1v-1h-1v-1h1zM732 463h1v1h1v1h-1v1h-1v-1h-1v-1h1zM733 211h1v1h1v1h-1v1h-1v-1h-1v-1h1zM733 274h1v1h1v1h-1v1h-1v-1h-1v-1h1zM733 461h1v1h1v1h-1v1h-1v-1h-1v-1h1zM733 464h1v1h1v1h-1v1h-1v-1h-1v-1h1zM734 398h1v1h1v1h-1v1h-1v-1h-1v-1h1zM734 460h1v1h1v1h-1v1h-1v-1h-1v-1h1zM734 461h1v1h1v1h-1v1h-1v-1h-1v-1h1zM734 462h1v1h1v1h-1v1h-1v-1h-1v-1h1zM734 463h1v1h1v1h-1v1h-1v-1h-1v-1h1zM734 464h1v1h1v1h-1v1h-1v-1h-1v-1h1zM734 465h1v1h1v1h-1v1h-1v-1h-1v-1h1zM735 395h1v1h1v1h-1v1h-1v-1h-1v-1h1zM735 456h1v1h1v1h-1v1h-1v-1h-1v-1h1zM735 462h1v1h1v1h-1v1h-1v-1h-1v-1h1zM735 464h1v1h1v1h-1v1h-1v-1h-1v-1h1zM735 465h1v1h1v1h-1v1h-1v-1h-1v-1h1zM736 426h1v1h1v1h-1v1h-1v-1h-1v-1h1zM736 462h1v1h1v1h-1v1h-1v-1h-1v-1h1zM736 465h1v1h1v1h-1v1h-1v-1h-1v-1h1zM737 191h1v1h1v1h-1v1h-1v-1h-1v-1h1zM737 462h1v1h1v1h-1v1h-1v-1h-1v-1h1zM737 465h1v1h1v1h-1v1h-1v-1h-1v-1h1zM737 466h1v1h1v1h-1v1h-1v-1h-1v-1h1zM738 390h1v1h1v1h-1v1h-1v-1h-1v-1h1zM738 453h1v1h1v1h-1v1h-1v-1h-1v-1h1zM738 466h1v1h1v1h-1v1h-1v-1h-1v-1h1zM738 467h1v1h1v1h-1v1h-1v-1h-1v-1h1zM739 389h1v1h1v1h-1v1h-1v-1h-1v-1h1zM739 462h1v1h1v1h-1v1h-1v-1h-1v-1h1zM739 463h1v1h1v1h-1v1h-1v-1h-1v-1h1zM740 382h1v1h1v1h-1v1h-1v-1h-1v-1h1zM740 435h1v1h1v1h-1v1h-1v-1h-1v-1h1zM740 463h1v1h1v1h-1v1h-1v-1h-1v-1h1zM740 465h1v1h1v1h-1v1h-1v-1h-1v-1h1zM740 466h1v1h1v1h-1v1h-1v-1h-1v-1h1zM740 467h1v1h1v1h-1v1h-1v-1h-1v-1h1zM741 448h1v1h1v1h-1v1h-1v-1h-1v-1h1zM741 459h1v1h1v1h-1v1h-1v-1h-1v-1h1zM741 462h1v1h1v1h-1v1h-1v-1h-1v-1h1zM741 463h1v1h1v1h-1v1h-1v-1h-1v-1h1zM741 467h1v1h1v1h-1v1h-1v-1h-1v-1h1zM742 442h1v1h1v1h-1v1h-1v-1h-1v-1h1zM742 458h1v1h1v1h-1v1h-1v-1h-1v-1h1zM742 463h1v1h1v1h-1v1h-1v-1h-1v-1h1zM742 465h1v1h1v1h-1v1h-1v-1h-1v-1h1zM742 466h1v1h1v1h-1v1h-1v-1h-1v-1h1zM742 467h1v1h1v1h-1v1h-1v-1h-1v-1h1zM742 468h1v1h1v1h-1v1h-1v-1h-1v-1h1zM743 438h1v1h1v1h-1v1h-1v-1h-1v-1h1zM743 457h1v1h1v1h-1v1h-1v-1h-1v-1h1zM743 465h1v1h1v1h-1v1h-1v-1h-1v-1h1zM743 467h1v1h1v1h-1v1h-1v-1h-1v-1h1zM743 469h1v1h1v1h-1v1h-1v-1h-1v-1h1zM744 441h1v1h1v1h-1v1h-1v-1h-1v-1h1zM744 466h1v1h1v1h-1v1h-1v-1h-1v-1h1zM744 468h1v1h1v1h-1v1h-1v-1h-1v-1h1zM745 467h1v1h1v1h-1v1h-1v-1h-1v-1h1zM745 470h1v1h1v1h-1v1h-1v-1h-1v-1h1zM746 466h1v1h1v1h-1v1h-1v-1h-1v-1h1zM746 467h1v1h1v1h-1v1h-1v-1h-1v-1h1zM746 468h1v1h1v1h-1v1h-1v-1h-1v-1h1zM746 470h1v1h1v1h-1v1h-1v-1h-1v-1h1zM746 471h1v1h1v1h-1v1h-1v-1h-1v-1h1zM747 458h1v1h1v1h-1v1h-1v-1h-1v-1h1zM747 469h1v1h1v1h-1v1h-1v-1h-1v-1h1zM748 460h1v1h1v1h-1v1h-1v-1h-1v-1h1zM748 463h1v1h1v1h-1v1h-1v-1h-1v-1h1zM748 468h1v1h1v1h-1v1h-1v-1h-1v-1h1zM748 469h1v1h1v1h-1v1h-1v-1h-1v-1h1zM748 470h1v1h1v1h-1v1h-1v-1h-1v-1h1zM748 472h1v1h1v1h-1v1h-1v-1h-1v-1h1zM749 437h1v1h1v1h-1v1h-1v-1h-1v-1h1zM749 452h1v1h1v1h-1v1h-1v-1h-1v-1h1zM749 468h1v1h1v1h-1v1h-1v-1h-1v-1h1zM749 469h1v1h1v1h-1v1h-1v-1h-1v-1h1zM749 471h1v1h1v1h-1v1h-1v-1h-1v-1h1zM749 472h1v1h1v1h-1v1h-1v-1h-1v-1h1zM750 444h1v1h1v1h-1v1h-1v-1h-1v-1h1zM750 466h1v1h1v1h-1v1h-1v-1h-1v-1h1zM750 470h1v1h1v1h-1v1h-1v-1h-1v-1h1zM750 471h1v1h1v1h-1v1h-1v-1h-1v-1h1zM750 472h1v1h1v1h-1v1h-1v-1h-1v-1h1zM751 467h1v1h1v1h-1v1h-1v-1h-1v-1h1zM751 469h1v1h1v1h-1v1h-1v-1h-1v-1h1zM751 470h1v1h1v1h-1v1h-1v-1h-1v-1h1zM751 471h1v1h1v1h-1v1h-1v-1h-1v-1h1zM751 472h1v1h1v1h-1v1h-1v-1h-1v-1h1zM751 473h1v1h1v1h-1v1h-1v-1h-1v-1h1zM752 470h1v1h1v1h-1v1h-1v-1h-1v-1h1zM752 472h1v1h1v1h-1v1h-1v-1h-1v-1h1zM752 473h1v1h1v1h-1v1h-1v-1h-1v-1h1zM753 469h1v1h1v1h-1v1h-1v-1h-1v-1h1zM753 472h1v1h1v1h-1v1h-1v-1h-1v-1h1zM753 474h1v1h1v1h-1v1h-1v-1h-1v-1h1zM754 469h1v1h1v1h-1v1h-1v-1h-1v-1h1zM754 472h1v1h1v1h-1v1h-1v-1h-1v-1h1zM754 474h1v1h1v1h-1v1h-1v-1h-1v-1h1zM754 475h1v1h1v1h-1v1h-1v-1h-1v-1h1zM755 451h1v1h1v1h-1v1h-1v-1h-1v-1h1zM755 463h1v1h1v1h-1v1h-1v-1h-1v-1h1zM755 466h1v1h1v1h-1v1h-1v-1h-1v-1h1zM755 468h1v1h1v1h-1v1h-1v-1h-1v-1h1zM755 470h1v1h1v1h-1v1h-1v-1h-1v-1h1zM755 473h1v1h1v1h-1v1h-1v-1h-1v-1h1zM755 474h1v1h1v1h-1v1h-1v-1h-1v-1h1zM755 475h1v1h1v1h-1v1h-1v-1h-1v-1h1zM756 440h1v1h1v1h-1v1h-1v-1h-1v-1h1zM756 462h1v1h1v1h-1v1h-1v-1h-1v-1h1zM756 474h1v1h1v1h-1v1h-1v-1h-1v-1h1zM756 475h1v1h1v1h-1v1h-1v-1h-1v-1h1zM757 402h1v1h1v1h-1v1h-1v-1h-1v-1h1zM757 467h1v1h1v1h-1v1h-1v-1h-1v-1h1zM757 470h1v1h1v1h-1v1h-1v-1h-1v-1h1zM757 472h1v1h1v1h-1v1h-1v-1h-1v-1h1zM757 473h1v1h1v1h-1v1h-1v-1h-1v-1h1zM757 475h1v1h1v1h-1v1h-1v-1h-1v-1h1zM757 476h1v1h1v1h-1v1h-1v-1h-1v-1h1zM758 452h1v1h1v1h-1v1h-1v-1h-1v-1h1zM758 457h1v1h1v1h-1v1h-1v-1h-1v-1h1zM758 463h1v1h1v1h-1v1h-1v-1h-1v-1h1zM758 466h1v1h1v1h-1v1h-1v-1h-1v-1h1zM758 471h1v1h1v1h-1v1h-1v-1h-1v-1h1zM758 472h1v1h1v1h-1v1h-1v-1h-1v-1h1zM759 472h1v1h1v1h-1v1h-1v-1h-1v-1h1zM759 474h1v1h1v1h-1v1h-1v-1h-1v-1h1zM759 475h1v1h1v1h-1v1h-1v-1h-1v-1h1zM759 476h1v1h1v1h-1v1h-1v-1h-1v-1h1zM760 295h1v1h1v1h-1v1h-1v-1h-1v-1h1zM760 445h1v1h1v1h-1v1h-1v-1h-1v-1h1zM760 467h1v1h1v1h-1v1h-1v-1h-1v-1h1zM760 472h1v1h1v1h-1v1h-1v-1h-1v-1h1zM760 474h1v1h1v1h-1v1h-1v-1h-1v-1h1zM760 475h1v1h1v1h-1v1h-1v-1h-1v-1h1zM760 476h1v1h1v1h-1v1h-1v-1h-1v-1h1zM761 453h1v1h1v1h-1v1h-1v-1h-1v-1h1zM761 472h1v1h1v1h-1v1h-1v-1h-1v-1h1zM761 476h1v1h1v1h-1v1h-1v-1h-1v-1h1zM761 477h1v1h1v1h-1v1h-1v-1h-1v-1h1zM762 468h1v1h1v1h-1v1h-1v-1h-1v-1h1zM762 472h1v1h1v1h-1v1h-1v-1h-1v-1h1zM762 473h1v1h1v1h-1v1h-1v-1h-1v-1h1zM762 474h1v1h1v1h-1v1h-1v-1h-1v-1h1zM762 476h1v1h1v1h-1v1h-1v-1h-1v-1h1zM762 478h1v1h1v1h-1v1h-1v-1h-1v-1h1zM763 474h1v1h1v1h-1v1h-1v-1h-1v-1h1zM763 476h1v1h1v1h-1v1h-1v-1h-1v-1h1zM763 478h1v1h1v1h-1v1h-1v-1h-1v-1h1zM764 445h1v1h1v1h-1v1h-1v-1h-1v-1h1zM764 474h1v1h1v1h-1v1h-1v-1h-1v-1h1zM764 476h1v1h1v1h-1v1h-1v-1h-1v-1h1zM764 477h1v1h1v1h-1v1h-1v-1h-1v-1h1zM764 478h1v1h1v1h-1v1h-1v-1h-1v-1h1zM765 469h1v1h1v1h-1v1h-1v-1h-1v-1h1zM765 475h1v1h1v1h-1v1h-1v-1h-1v-1h1zM765 476h1v1h1v1h-1v1h-1v-1h-1v-1h1zM765 477h1v1h1v1h-1v1h-1v-1h-1v-1h1zM765 479h1v1h1v1h-1v1h-1v-1h-1v-1h1zM766 475h1v1h1v1h-1v1h-1v-1h-1v-1h1zM766 477h1v1h1v1h-1v1h-1v-1h-1v-1h1zM766 478h1v1h1v1h-1v1h-1v-1h-1v-1h1zM767 444h1v1h1v1h-1v1h-1v-1h-1v-1h1zM767 474h1v1h1v1h-1v1h-1v-1h-1v-1h1zM767 476h1v1h1v1h-1v1h-1v-1h-1v-1h1zM767 478h1v1h1v1h-1v1h-1v-1h-1v-1h1zM767 479h1v1h1v1h-1v1h-1v-1h-1v-1h1zM768 439h1v1h1v1h-1v1h-1v-1h-1v-1h1zM768 476h1v1h1v1h-1v1h-1v-1h-1v-1h1zM768 478h1v1h1v1h-1v1h-1v-1h-1v-1h1zM768 479h1v1h1v1h-1v1h-1v-1h-1v-1h1zM769 470h1v1h1v1h-1v1h-1v-1h-1v-1h1zM769 476h1v1h1v1h-1v1h-1v-1h-1v-1h1zM769 477h1v1h1v1h-1v1h-1v-1h-1v-1h1zM769 478h1v1h1v1h-1v1h-1v-1h-1v-1h1zM769 480h1v1h1v1h-1v1h-1v-1h-1v-1h1zM770 439h1v1h1v1h-1v1h-1v-1h-1v-1h1zM770 471h1v1h1v1h-1v1h-1v-1h-1v-1h1zM770 476h1v1h1v1h-1v1h-1v-1h-1v-1h1zM770 479h1v1h1v1h-1v1h-1v-1h-1v-1h1zM771 354h1v1h1v1h-1v1h-1v-1h-1v-1h1zM771 476h1v1h1v1h-1v1h-1v-1h-1v-1h1zM771 478h1v1h1v1h-1v1h-1v-1h-1v-1h1zM771 479h1v1h1v1h-1v1h-1v-1h-1v-1h1zM771 480h1v1h1v1h-1v1h-1v-1h-1v-1h1zM771 481h1v1h1v1h-1v1h-1v-1h-1v-1h1zM772 349h1v1h1v1h-1v1h-1v-1h-1v-1h1zM772 446h1v1h1v1h-1v1h-1v-1h-1v-1h1zM772 459h1v1h1v1h-1v1h-1v-1h-1v-1h1zM772 470h1v1h1v1h-1v1h-1v-1h-1v-1h1zM772 477h1v1h1v1h-1v1h-1v-1h-1v-1h1zM772 478h1v1h1v1h-1v1h-1v-1h-1v-1h1zM772 480h1v1h1v1h-1v1h-1v-1h-1v-1h1zM773 478h1v1h1v1h-1v1h-1v-1h-1v-1h1zM773 480h1v1h1v1h-1v1h-1v-1h-1v-1h1zM773 481h1v1h1v1h-1v1h-1v-1h-1v-1h1zM774 449h1v1h1v1h-1v1h-1v-1h-1v-1h1zM774 471h1v1h1v1h-1v1h-1v-1h-1v-1h1zM774 475h1v1h1v1h-1v1h-1v-1h-1v-1h1zM774 478h1v1h1v1h-1v1h-1v-1h-1v-1h1zM774 480h1v1h1v1h-1v1h-1v-1h-1v-1h1zM774 481h1v1h1v1h-1v1h-1v-1h-1v-1h1zM775 474h1v1h1v1h-1v1h-1v-1h-1v-1h1zM775 477h1v1h1v1h-1v1h-1v-1h-1v-1h1zM775 478h1v1h1v1h-1v1h-1v-1h-1v-1h1zM775 479h1v1h1v1h-1v1h-1v-1h-1v-1h1zM775 480h1v1h1v1h-1v1h-1v-1h-1v-1h1zM775 481h1v1h1v1h-1v1h-1v-1h-1v-1h1zM775 482h1v1h1v1h-1v1h-1v-1h-1v-1h1zM776 436h1v1h1v1h-1v1h-1v-1h-1v-1h1zM776 466h1v1h1v1h-1v1h-1v-1h-1v-1h1zM776 478h1v1h1v1h-1v1h-1v-1h-1v-1h1zM776 481h1v1h1v1h-1v1h-1v-1h-1v-1h1zM776 482h1v1h1v1h-1v1h-1v-1h-1v-1h1zM777 349h1v1h1v1h-1v1h-1v-1h-1v-1h1zM777 453h1v1h1v1h-1v1h-1v-1h-1v-1h1zM777 476h1v1h1v1h-1v1h-1v-1h-1v-1h1zM777 479h1v1h1v1h-1v1h-1v-1h-1v-1h1zM777 480h1v1h1v1h-1v1h-1v-1h-1v-1h1zM777 481h1v1h1v1h-1v1h-1v-1h-1v-1h1zM777 482h1v1h1v1h-1v1h-1v-1h-1v-1h1zM778 482h1v1h1v1h-1v1h-1v-1h-1v-1h1zM779 478h1v1h1v1h-1v1h-1v-1h-1v-1h1zM779 479h1v1h1v1h-1v1h-1v-1h-1v-1h1zM779 480h1v1h1v1h-1v1h-1v-1h-1v-1h1zM780 431h1v1h1v1h-1v1h-1v-1h-1v-1h1zM780 470h1v1h1v1h-1v1h-1v-1h-1v-1h1zM780 478h1v1h1v1h-1v1h-1v-1h-1v-1h1zM780 479h1v1h1v1h-1v1h-1v-1h-1v-1h1zM780 480h1v1h1v1h-1v1h-1v-1h-1v-1h1zM780 483h1v1h1v1h-1v1h-1v-1h-1v-1h1zM781 429h1v1h1v1h-1v1h-1v-1h-1v-1h1zM781 437h1v1h1v1h-1v1h-1v-1h-1v-1h1zM781 478h1v1h1v1h-1v1h-1v-1h-1v-1h1zM781 479h1v1h1v1h-1v1h-1v-1h-1v-1h1zM781 480h1v1h1v1h-1v1h-1v-1h-1v-1h1zM781 482h1v1h1v1h-1v1h-1v-1h-1v-1h1zM781 483h1v1h1v1h-1v1h-1v-1h-1v-1h1zM782 446h1v1h1v1h-1v1h-1v-1h-1v-1h1zM782 467h1v1h1v1h-1v1h-1v-1h-1v-1h1zM782 482h1v1h1v1h-1v1h-1v-1h-1v-1h1zM782 483h1v1h1v1h-1v1h-1v-1h-1v-1h1zM783 479h1v1h1v1h-1v1h-1v-1h-1v-1h1zM783 480h1v1h1v1h-1v1h-1v-1h-1v-1h1zM783 481h1v1h1v1h-1v1h-1v-1h-1v-1h1zM783 483h1v1h1v1h-1v1h-1v-1h-1v-1h1zM784 474h1v1h1v1h-1v1h-1v-1h-1v-1h1zM784 481h1v1h1v1h-1v1h-1v-1h-1v-1h1zM784 483h1v1h1v1h-1v1h-1v-1h-1v-1h1zM784 484h1v1h1v1h-1v1h-1v-1h-1v-1h1zM785 354h1v1h1v1h-1v1h-1v-1h-1v-1h1zM785 474h1v1h1v1h-1v1h-1v-1h-1v-1h1zM785 481h1v1h1v1h-1v1h-1v-1h-1v-1h1zM785 483h1v1h1v1h-1v1h-1v-1h-1v-1h1zM785 484h1v1h1v1h-1v1h-1v-1h-1v-1h1zM786 441h1v1h1v1h-1v1h-1v-1h-1v-1h1zM786 474h1v1h1v1h-1v1h-1v-1h-1v-1h1zM786 484h1v1h1v1h-1v1h-1v-1h-1v-1h1zM787 480h1v1h1v1h-1v1h-1v-1h-1v-1h1zM787 483h1v1h1v1h-1v1h-1v-1h-1v-1h1zM787 484h1v1h1v1h-1v1h-1v-1h-1v-1h1zM788 426h1v1h1v1h-1v1h-1v-1h-1v-1h1zM788 480h1v1h1v1h-1v1h-1v-1h-1v-1h1zM788 482h1v1h1v1h-1v1h-1v-1h-1v-1h1zM788 484h1v1h1v1h-1v1h-1v-1h-1v-1h1zM788 485h1v1h1v1h-1v1h-1v-1h-1v-1h1zM789 339h1v1h1v1h-1v1h-1v-1h-1v-1h1zM789 459h1v1h1v1h-1v1h-1v-1h-1v-1h1zM789 474h1v1h1v1h-1v1h-1v-1h-1v-1h1zM789 481h1v1h1v1h-1v1h-1v-1h-1v-1h1zM789 484h1v1h1v1h-1v1h-1v-1h-1v-1h1zM789 485h1v1h1v1h-1v1h-1v-1h-1v-1h1zM790 197h1v1h1v1h-1v1h-1v-1h-1v-1h1zM790 312h1v1h1v1h-1v1h-1v-1h-1v-1h1zM790 476h1v1h1v1h-1v1h-1v-1h-1v-1h1zM790 482h1v1h1v1h-1v1h-1v-1h-1v-1h1zM790 484h1v1h1v1h-1v1h-1v-1h-1v-1h1zM790 485h1v1h1v1h-1v1h-1v-1h-1v-1h1zM791 473h1v1h1v1h-1v1h-1v-1h-1v-1h1zM791 484h1v1h1v1h-1v1h-1v-1h-1v-1h1zM791 486h1v1h1v1h-1v1h-1v-1h-1v-1h1zM792 314h1v1h1v1h-1v1h-1v-1h-1v-1h1zM792 451h1v1h1v1h-1v1h-1v-1h-1v-1h1zM792 482h1v1h1v1h-1v1h-1v-1h-1v-1h1zM792 486h1v1h1v1h-1v1h-1v-1h-1v-1h1zM793 452h1v1h1v1h-1v1h-1v-1h-1v-1h1zM793 485h1v1h1v1h-1v1h-1v-1h-1v-1h1zM793 487h1v1h1v1h-1v1h-1v-1h-1v-1h1zM794 435h1v1h1v1h-1v1h-1v-1h-1v-1h1zM794 476h1v1h1v1h-1v1h-1v-1h-1v-1h1zM794 480h1v1h1v1h-1v1h-1v-1h-1v-1h1zM794 485h1v1h1v1h-1v1h-1v-1h-1v-1h1zM795 441h1v1h1v1h-1v1h-1v-1h-1v-1h1zM795 478h1v1h1v1h-1v1h-1v-1h-1v-1h1zM795 481h1v1h1v1h-1v1h-1v-1h-1v-1h1zM795 483h1v1h1v1h-1v1h-1v-1h-1v-1h1zM795 484h1v1h1v1h-1v1h-1v-1h-1v-1h1zM796 436h1v1h1v1h-1v1h-1v-1h-1v-1h1zM796 442h1v1h1v1h-1v1h-1v-1h-1v-1h1zM796 485h1v1h1v1h-1v1h-1v-1h-1v-1h1zM796 486h1v1h1v1h-1v1h-1v-1h-1v-1h1zM797 485h1v1h1v1h-1v1h-1v-1h-1v-1h1zM797 487h1v1h1v1h-1v1h-1v-1h-1v-1h1zM798 437h1v1h1v1h-1v1h-1v-1h-1v-1h1zM798 471h1v1h1v1h-1v1h-1v-1h-1v-1h1zM798 486h1v1h1v1h-1v1h-1v-1h-1v-1h1zM799 488h1v1h1v1h-1v1h-1v-1h-1v-1h1zM800 479h1v1h1v1h-1v1h-1v-1h-1v-1h1zM800 485h1v1h1v1h-1v1h-1v-1h-1v-1h1zM800 488h1v1h1v1h-1v1h-1v-1h-1v-1h1zM801 444h1v1h1v1h-1v1h-1v-1h-1v-1h1zM801 485h1v1h1v1h-1v1h-1v-1h-1v-1h1zM801 486h1v1h1v1h-1v1h-1v-1h-1v-1h1zM801 487h1v1h1v1h-1v1h-1v-1h-1v-1h1zM802 438h1v1h1v1h-1v1h-1v-1h-1v-1h1zM802 485h1v1h1v1h-1v1h-1v-1h-1v-1h1zM803 482h1v1h1v1h-1v1h-1v-1h-1v-1h1zM803 488h1v1h1v1h-1v1h-1v-1h-1v-1h1zM804 434h1v1h1v1h-1v1h-1v-1h-1v-1h1zM804 451h1v1h1v1h-1v1h-1v-1h-1v-1h1zM804 486h1v1h1v1h-1v1h-1v-1h-1v-1h1zM804 488h1v1h1v1h-1v1h-1v-1h-1v-1h1zM805 450h1v1h1v1h-1v1h-1v-1h-1v-1h1zM805 476h1v1h1v1h-1v1h-1v-1h-1v-1h1zM805 480h1v1h1v1h-1v1h-1v-1h-1v-1h1zM805 483h1v1h1v1h-1v1h-1v-1h-1v-1h1zM805 487h1v1h1v1h-1v1h-1v-1h-1v-1h1zM806 442h1v1h1v1h-1v1h-1v-1h-1v-1h1zM806 487h1v1h1v1h-1v1h-1v-1h-1v-1h1zM806 488h1v1h1v1h-1v1h-1v-1h-1v-1h1zM807 487h1v1h1v1h-1v1h-1v-1h-1v-1h1zM807 488h1v1h1v1h-1v1h-1v-1h-1v-1h1zM808 454h1v1h1v1h-1v1h-1v-1h-1v-1h1zM808 481h1v1h1v1h-1v1h-1v-1h-1v-1h1zM808 488h1v1h1v1h-1v1h-1v-1h-1v-1h1zM809 476h1v1h1v1h-1v1h-1v-1h-1v-1h1zM809 486h1v1h1v1h-1v1h-1v-1h-1v-1h1zM809 488h1v1h1v1h-1v1h-1v-1h-1v-1h1zM810 484h1v1h1v1h-1v1h-1v-1h-1v-1h1zM810 487h1v1h1v1h-1v1h-1v-1h-1v-1h1zM811 479h1v1h1v1h-1v1h-1v-1h-1v-1h1zM811 487h1v1h1v1h-1v1h-1v-1h-1v-1h1zM811 488h1v1h1v1h-1v1h-1v-1h-1v-1h1zM812 481h1v1h1v1h-1v1h-1v-1h-1v-1h1zM812 483h1v1h1v1h-1v1h-1v-1h-1v-1h1zM812 488h1v1h1v1h-1v1h-1v-1h-1v-1h1zM812 489h1v1h1v1h-1v1h-1v-1h-1v-1h1zM813 460h1v1h1v1h-1v1h-1v-1h-1v-1h1zM813 488h1v1h1v1h-1v1h-1v-1h-1v-1h1zM813 489h1v1h1v1h-1v1h-1v-1h-1v-1h1zM814 320h1v1h1v1h-1v1h-1v-1h-1v-1h1zM814 486h1v1h1v1h-1v1h-1v-1h-1v-1h1zM814 488h1v1h1v1h-1v1h-1v-1h-1v-1h1zM814 489h1v1h1v1h-1v1h-1v-1h-1v-1h1zM815 321h1v1h1v1h-1v1h-1v-1h-1v-1h1zM815 487h1v1h1v1h-1v1h-1v-1h-1v-1h1zM816 457h1v1h1v1h-1v1h-1v-1h-1v-1h1zM816 488h1v1h1v1h-1v1h-1v-1h-1v-1h1zM817 466h1v1h1v1h-1v1h-1v-1h-1v-1h1zM817 477h1v1h1v1h-1v1h-1v-1h-1v-1h1zM817 483h1v1h1v1h-1v1h-1v-1h-1v-1h1zM817 488h1v1h1v1h-1v1h-1v-1h-1v-1h1zM818 487h1v1h1v1h-1v1h-1v-1h-1v-1h1zM818 489h1v1h1v1h-1v1h-1v-1h-1v-1h1zM818 490h1v1h1v1h-1v1h-1v-1h-1v-1h1zM819 489h1v1h1v1h-1v1h-1v-1h-1v-1h1zM820 251h1v1h1v1h-1v1h-1v-1h-1v-1h1zM820 487h1v1h1v1h-1v1h-1v-1h-1v-1h1zM820 490h1v1h1v1h-1v1h-1v-1h-1v-1h1zM821 268h1v1h1v1h-1v1h-1v-1h-1v-1h1zM821 400h1v1h1v1h-1v1h-1v-1h-1v-1h1zM821 447h1v1h1v1h-1v1h-1v-1h-1v-1h1zM821 463h1v1h1v1h-1v1h-1v-1h-1v-1h1zM821 477h1v1h1v1h-1v1h-1v-1h-1v-1h1zM821 488h1v1h1v1h-1v1h-1v-1h-1v-1h1zM821 489h1v1h1v1h-1v1h-1v-1h-1v-1h1zM822 479h1v1h1v1h-1v1h-1v-1h-1v-1h1zM822 488h1v1h1v1h-1v1h-1v-1h-1v-1h1zM822 489h1v1h1v1h-1v1h-1v-1h-1v-1h1zM822 490h1v1h1v1h-1v1h-1v-1h-1v-1h1zM823 266h1v1h1v1h-1v1h-1v-1h-1v-1h1zM823 488h1v1h1v1h-1v1h-1v-1h-1v-1h1zM824 456h1v1h1v1h-1v1h-1v-1h-1v-1h1zM824 489h1v1h1v1h-1v1h-1v-1h-1v-1h1zM824 490h1v1h1v1h-1v1h-1v-1h-1v-1h1zM825 489h1v1h1v1h-1v1h-1v-1h-1v-1h1zM826 468h1v1h1v1h-1v1h-1v-1h-1v-1h1zM826 483h1v1h1v1h-1v1h-1v-1h-1v-1h1zM826 486h1v1h1v1h-1v1h-1v-1h-1v-1h1zM827 382h1v1h1v1h-1v1h-1v-1h-1v-1h1zM827 489h1v1h1v1h-1v1h-1v-1h-1v-1h1zM828 402h1v1h1v1h-1v1h-1v-1h-1v-1h1zM828 474h1v1h1v1h-1v1h-1v-1h-1v-1h1zM828 485h1v1h1v1h-1v1h-1v-1h-1v-1h1zM828 489h1v1h1v1h-1v1h-1v-1h-1v-1h1zM828 490h1v1h1v1h-1v1h-1v-1h-1v-1h1zM829 467h1v1h1v1h-1v1h-1v-1h-1v-1h1zM829 472h1v1h1v1h-1v1h-1v-1h-1v-1h1zM829 487h1v1h1v1h-1v1h-1v-1h-1v-1h1zM829 489h1v1h1v1h-1v1h-1v-1h-1v-1h1zM830 478h1v1h1v1h-1v1h-1v-1h-1v-1h1zM830 487h1v1h1v1h-1v1h-1v-1h-1v-1h1zM830 490h1v1h1v1h-1v1h-1v-1h-1v-1h1zM830 491h1v1h1v1h-1v1h-1v-1h-1v-1h1zM832 490h1v1h1v1h-1v1h-1v-1h-1v-1h1zM833 491h1v1h1v1h-1v1h-1v-1h-1v-1h1zM834 480h1v1h1v1h-1v1h-1v-1h-1v-1h1zM834 490h1v1h1v1h-1v1h-1v-1h-1v-1h1zM834 491h1v1h1v1h-1v1h-1v-1h-1v-1h1zM835 475h1v1h1v1h-1v1h-1v-1h-1v-1h1zM835 482h1v1h1v1h-1v1h-1v-1h-1v-1h1zM835 488h1v1h1v1h-1v1h-1v-1h-1v-1h1zM835 492h1v1h1v1h-1v1h-1v-1h-1v-1h1zM836 478h1v1h1v1h-1v1h-1v-1h-1v-1h1zM836 483h1v1h1v1h-1v1h-1v-1h-1v-1h1zM836 491h1v1h1v1h-1v1h-1v-1h-1v-1h1zM837 491h1v1h1v1h-1v1h-1v-1h-1v-1h1zM838 487h1v1h1v1h-1v1h-1v-1h-1v-1h1zM838 490h1v1h1v1h-1v1h-1v-1h-1v-1h1zM839 472h1v1h1v1h-1v1h-1v-1h-1v-1h1zM839 487h1v1h1v1h-1v1h-1v-1h-1v-1h1zM839 488h1v1h1v1h-1v1h-1v-1h-1v-1h1zM839 490h1v1h1v1h-1v1h-1v-1h-1v-1h1zM839 492h1v1h1v1h-1v1h-1v-1h-1v-1h1zM840 492h1v1h1v1h-1v1h-1v-1h-1v-1h1zM841 491h1v1h1v1h-1v1h-1v-1h-1v-1h1zM841 492h1v1h1v1h-1v1h-1v-1h-1v-1h1zM842 471h1v1h1v1h-1v1h-1v-1h-1v-1h1zM842 480h1v1h1v1h-1v1h-1v-1h-1v-1h1zM842 490h1v1h1v1h-1v1h-1v-1h-1v-1h1zM842 493h1v1h1v1h-1v1h-1v-1h-1v-1h1zM843 490h1v1h1v1h-1v1h-1v-1h-1v-1h1zM843 493h1v1h1v1h-1v1h-1v-1h-1v-1h1zM844 486h1v1h1v1h-1v1h-1v-1h-1v-1h1zM844 491h1v1h1v1h-1v1h-1v-1h-1v-1h1zM844 492h1v1h1v1h-1v1h-1v-1h-1v-1h1zM845 488h1v1h1v1h-1v1h-1v-1h-1v-1h1zM845 491h1v1h1v1h-1v1h-1v-1h-1v-1h1zM846 233h1v1h1v1h-1v1h-1v-1h-1v-1h1zM846 492h1v1h1v1h-1v1h-1v-1h-1v-1h1zM847 490h1v1h1v1h-1v1h-1v-1h-1v-1h1zM847 492h1v1h1v1h-1v1h-1v-1h-1v-1h1zM848 491h1v1h1v1h-1v1h-1v-1h-1v-1h1zM849 491h1v1h1v1h-1v1h-1v-1h-1v-1h1zM849 493h1v1h1v1h-1v1h-1v-1h-1v-1h1zM850 493h1v1h1v1h-1v1h-1v-1h-1v-1h1zM851 491h1v1h1v1h-1v1h-1v-1h-1v-1h1zM851 492h1v1h1v1h-1v1h-1v-1h-1v-1h1zM852 487h1v1h1v1h-1v1h-1v-1h-1v-1h1zM852 492h1v1h1v1h-1v1h-1v-1h-1v-1h1zM852 494h1v1h1v1h-1v1h-1v-1h-1v-1h1zM853 493h1v1h1v1h-1v1h-1v-1h-1v-1h1zM854 484h1v1h1v1h-1v1h-1v-1h-1v-1h1zM854 493h1v1h1v1h-1v1h-1v-1h-1v-1h1zM855 492h1v1h1v1h-1v1h-1v-1h-1v-1h1zM855 494h1v1h1v1h-1v1h-1v-1h-1v-1h1zM856 476h1v1h1v1h-1v1h-1v-1h-1v-1h1zM856 494h1v1h1v1h-1v1h-1v-1h-1v-1h1zM857 472h1v1h1v1h-1v1h-1v-1h-1v-1h1zM857 491h1v1h1v1h-1v1h-1v-1h-1v-1h1zM857 492h1v1h1v1h-1v1h-1v-1h-1v-1h1zM858 490h1v1h1v1h-1v1h-1v-1h-1v-1h1zM858 492h1v1h1v1h-1v1h-1v-1h-1v-1h1zM859 484h1v1h1v1h-1v1h-1v-1h-1v-1h1zM859 494h1v1h1v1h-1v1h-1v-1h-1v-1h1zM860 488h1v1h1v1h-1v1h-1v-1h-1v-1h1zM860 493h1v1h1v1h-1v1h-1v-1h-1v-1h1zM861 191h1v1h1v1h-1v1h-1v-1h-1v-1h1zM861 492h1v1h1v1h-1v1h-1v-1h-1v-1h1zM861 494h1v1h1v1h-1v1h-1v-1h-1v-1h1zM862 473h1v1h1v1h-1v1h-1v-1h-1v-1h1zM862 491h1v1h1v1h-1v1h-1v-1h-1v-1h1zM862 494h1v1h1v1h-1v1h-1v-1h-1v-1h1zM863 475h1v1h1v1h-1v1h-1v-1h-1v-1h1zM863 494h1v1h1v1h-1v1h-1v-1h-1v-1h1zM864 118h1v1h1v1h-1v1h-1v-1h-1v-1h1zM864 493h1v1h1v1h-1v1h-1v-1h-1v-1h1zM865 494h1v1h1v1h-1v1h-1v-1h-1v-1h1zM866 488h1v1h1v1h-1v1h-1v-1h-1v-1h1zM866 493h1v1h1v1h-1v1h-1v-1h-1v-1h1zM867 490h1v1h1v1h-1v1h-1v-1h-1v-1h1zM867 495h1v1h1v1h-1v1h-1v-1h-1v-1h1zM868 488h1v1h1v1h-1v1h-1v-1h-1v-1h1zM868 490h1v1h1v1h-1v1h-1v-1h-1v-1h1zM868 495h1v1h1v1h-1v1h-1v-1h-1v-1h1zM869 492h1v1h1v1h-1v1h-1v-1h-1v-1h1zM869 493h1v1h1v1h-1v1h-1v-1h-1v-1h1zM870 489h1v1h1v1h-1v1h-1v-1h-1v-1h1zM870 496h1v1h1v1h-1v1h-1v-1h-1v-1h1zM870 499h1v1h1v1h-1v1h-1v-1h-1v-1h1zM871 490h1v1h1v1h-1v1h-1v-1h-1v-1h1zM871 492h1v1h1v1h-1v1h-1v-1h-1v-1h1zM871 493h1v1h1v1h-1v1h-1v-1h-1v-1h1zM871 494h1v1h1v1h-1v1h-1v-1h-1v-1h1zM871 499h1v1h1v1h-1v1h-1v-1h-1v-1h1zM872 493h1v1h1v1h-1v1h-1v-1h-1v-1h1zM872 498h1v1h1v1h-1v1h-1v-1h-1v-1h1zM872 499h1v1h1v1h-1v1h-1v-1h-1v-1h1zM873 190h1v1h1v1h-1v1h-1v-1h-1v-1h1zM873 493h1v1h1v1h-1v1h-1v-1h-1v-1h1zM873 498h1v1h1v1h-1v1h-1v-1h-1v-1h1zM873 499h1v1h1v1h-1v1h-1v-1h-1v-1h1zM874 494h1v1h1v1h-1v1h-1v-1h-1v-1h1zM874 495h1v1h1v1h-1v1h-1v-1h-1v-1h1zM874 498h1v1h1v1h-1v1h-1v-1h-1v-1h1zM875 495h1v1h1v1h-1v1h-1v-1h-1v-1h1zM875 496h1v1h1v1h-1v1h-1v-1h-1v-1h1zM875 498h1v1h1v1h-1v1h-1v-1h-1v-1h1zM875 499h1v1h1v1h-1v1h-1v-1h-1v-1h1zM876 493h1v1h1v1h-1v1h-1v-1h-1v-1h1zM876 494h1v1h1v1h-1v1h-1v-1h-1v-1h1zM876 498h1v1h1v1h-1v1h-1v-1h-1v-1h1zM877 495h1v1h1v1h-1v1h-1v-1h-1v-1h1zM877 498h1v1h1v1h-1v1h-1v-1h-1v-1h1zM878 484h1v1h1v1h-1v1h-1v-1h-1v-1h1zM878 494h1v1h1v1h-1v1h-1v-1h-1v-1h1zM878 495h1v1h1v1h-1v1h-1v-1h-1v-1h1zM878 498h1v1h1v1h-1v1h-1v-1h-1v-1h1zM879 494h1v1h1v1h-1v1h-1v-1h-1v-1h1zM879 496h1v1h1v1h-1v1h-1v-1h-1v-1h1zM879 498h1v1h1v1h-1v1h-1v-1h-1v-1h1zM880 494h1v1h1v1h-1v1h-1v-1h-1v-1h1zM880 496h1v1h1v1h-1v1h-1v-1h-1v-1h1zM880 499h1v1h1v1h-1v1h-1v-1h-1v-1h1zM881 494h1v1h1v1h-1v1h-1v-1h-1v-1h1zM881 495h1v1h1v1h-1v1h-1v-1h-1v-1h1zM882 495h1v1h1v1h-1v1h-1v-1h-1v-1h1zM883 499h1v1h1v1h-1v1h-1v-1h-1v-1h1zM884 494h1v1h1v1h-1v1h-1v-1h-1v-1h1zM884 495h1v1h1v1h-1v1h-1v-1h-1v-1h1zM884 498h1v1h1v1h-1v1h-1v-1h-1v-1h1zM885 496h1v1h1v1h-1v1h-1v-1h-1v-1h1zM885 498h1v1h1v1h-1v1h-1v-1h-1v-1h1zM886 490h1v1h1v1h-1v1h-1v-1h-1v-1h1zM886 496h1v1h1v1h-1v1h-1v-1h-1v-1h1zM886 498h1v1h1v1h-1v1h-1v-1h-1v-1h1zM887 494h1v1h1v1h-1v1h-1v-1h-1v-1h1zM887 495h1v1h1v1h-1v1h-1v-1h-1v-1h1zM887 499h1v1h1v1h-1v1h-1v-1h-1v-1h1zM889 492h1v1h1v1h-1v1h-1v-1h-1v-1h1zM889 494h1v1h1v1h-1v1h-1v-1h-1v-1h1zM889 496h1v1h1v1h-1v1h-1v-1h-1v-1h1zM889 498h1v1h1v1h-1v1h-1v-1h-1v-1h1zM889 499h1v1h1v1h-1v1h-1v-1h-1v-1h1zM890 496h1v1h1v1h-1v1h-1v-1h-1v-1h1zM891 496h1v1h1v1h-1v1h-1v-1h-1v-1h1zM891 499h1v1h1v1h-1v1h-1v-1h-1v-1h1zM892 494h1v1h1v1h-1v1h-1v-1h-1v-1h1zM892 496h1v1h1v1h-1v1h-1v-1h-1v-1h1zM893 188h1v1h1v1h-1v1h-1v-1h-1v-1h1zM893 494h1v1h1v1h-1v1h-1v-1h-1v-1h1zM893 495h1v1h1v1h-1v1h-1v-1h-1v-1h1zM894 494h1v1h1v1h-1v1h-1v-1h-1v-1h1zM895 496h1v1h1v1h-1v1h-1v-1h-1v-1h1zM896 493h1v1h1v1h-1v1h-1v-1h-1v-1h1zM896 494h1v1h1v1h-1v1h-1v-1h-1v-1h1zM896 496h1v1h1v1h-1v1h-1v-1h-1v-1h1zM897 490h1v1h1v1h-1v1h-1v-1h-1v-1h1zM897 494h1v1h1v1h-1v1h-1v-1h-1v-1h1zM897 496h1v1h1v1h-1v1h-1v-1h-1v-1h1zM898 489h1v1h1v1h-1v1h-1v-1h-1v-1h1zM898 496h1v1h1v1h-1v1h-1v-1h-1v-1h1zM899 495h1v1h1v1h-1v1h-1v-1h-1v-1h1zM899 499h1v1h1v1h-1v1h-1v-1h-1v-1h1zM901 486h1v1h1v1h-1v1h-1v-1h-1v-1h1zM901 492h1v1h1v1h-1v1h-1v-1h-1v-1h1zM901 495h1v1h1v1h-1v1h-1v-1h-1v-1h1zM901 497h1v1h1v1h-1v1h-1v-1h-1v-1h1zM901 499h1v1h1v1h-1v1h-1v-1h-1v-1h1zM902 491h1v1h1v1h-1v1h-1v-1h-1v-1h1zM902 494h1v1h1v1h-1v1h-1v-1h-1v-1h1zM903 139h1v1h1v1h-1v1h-1v-1h-1v-1h1zM903 494h1v1h1v1h-1v1h-1v-1h-1v-1h1zM903 499h1v1h1v1h-1v1h-1v-1h-1v-1h1zM904 494h1v1h1v1h-1v1h-1v-1h-1v-1h1zM904 496h1v1h1v1h-1v1h-1v-1h-1v-1h1zM904 498h1v1h1v1h-1v1h-1v-1h-1v-1h1zM905 492h1v1h1v1h-1v1h-1v-1h-1v-1h1zM905 493h1v1h1v1h-1v1h-1v-1h-1v-1h1zM905 496h1v1h1v1h-1v1h-1v-1h-1v-1h1zM905 497h1v1h1v1h-1v1h-1v-1h-1v-1h1zM905 499h1v1h1v1h-1v1h-1v-1h-1v-1h1zM906 495h1v1h1v1h-1v1h-1v-1h-1v-1h1zM906 497h1v1h1v1h-1v1h-1v-1h-1v-1h1zM906 498h1v1h1v1h-1v1h-1v-1h-1v-1h1zM907 493h1v1h1v1h-1v1h-1v-1h-1v-1h1zM907 494h1v1h1v1h-1v1h-1v-1h-1v-1h1zM907 499h1v1h1v1h-1v1h-1v-1h-1v-1h1zM908 495h1v1h1v1h-1v1h-1v-1h-1v-1h1zM909 496h1v1h1v1h-1v1h-1v-1h-1v-1h1zM909 497h1v1h1v1h-1v1h-1v-1h-1v-1h1zM909 498h1v1h1v1h-1v1h-1v-1h-1v-1h1zM909 499h1v1h1v1h-1v1h-1v-1h-1v-1h1zM910 495h1v1h1v1h-1v1h-1v-1h-1v-1h1zM910 497h1v1h1v1h-1v1h-1v-1h-1v-1h1zM910 499h1v1h1v1h-1v1h-1v-1h-1v-1h1zM911 496h1v1h1v1h-1v1h-1v-1h-1v-1h1zM911 499h1v1h1v1h-1v1h-1v-1h-1v-1h1zM912 494h1v1h1v1h-1v1h-1v-1h-1v-1h1zM912 497h1v1h1v1h-1v1h-1v-1h-1v-1h1zM912 499h1v1h1v1h-1v1h-1v-1h-1v-1h1zM914 497h1v1h1v1h-1v1h-1v-1h-1v-1h1zM914 498h1v1h1v1h-1v1h-1v-1h-1v-1h1zM914 499h1v1h1v1h-1v1h-1v-1h-1v-1h1zM915 495h1v1h1v1h-1v1h-1v-1h-1v-1h1zM915 496h1v1h1v1h-1v1h-1v-1h-1v-1h1zM916 491h1v1h1v1h-1v1h-1v-1h-1v-1h1zM916 493h1v1h1v1h-1v1h-1v-1h-1v-1h1zM916 494h1v1h1v1h-1v1h-1v-1h-1v-1h1zM916 496h1v1h1v1h-1v1h-1v-1h-1v-1h1zM916 499h1v1h1v1h-1v1h-1v-1h-1v-1h1zM917 495h1v1h1v1h-1v1h-1v-1h-1v-1h1zM917 496h1v1h1v1h-1v1h-1v-1h-1v-1h1zM917 498h1v1h1v1h-1v1h-1v-1h-1v-1h1zM918 495h1v1h1v1h-1v1h-1v-1h-1v-1h1zM919 495h1v1h1v1h-1v1h-1v-1h-1v-1h1zM919 496h1v1h1v1h-1v1h-1v-1h-1v-1h1zM919 498h1v1h1v1h-1v1h-1v-1h-1v-1h1zM919 499h1v1h1v1h-1v1h-1v-1h-1v-1h1zM920 494h1v1h1v1h-1v1h-1v-1h-1v-1h1zM920 497h1v1h1v1h-1v1h-1v-1h-1v-1h1zM921 490h1v1h1v1h-1v1h-1v-1h-1v-1h1zM921 495h1v1h1v1h-1v1h-1v-1h-1v-1h1zM921 498h1v1h1v1h-1v1h-1v-1h-1v-1h1zM921 499h1v1h1v1h-1v1h-1v-1h-1v-1h1zM922 495h1v1h1v1h-1v1h-1v-1h-1v-1h1zM923 495h1v1h1v1h-1v1h-1v-1h-1v-1h1zM923 498h1v1h1v1h-1v1h-1v-1h-1v-1h1zM923 499h1v1h1v1h-1v1h-1v-1h-1v-1h1zM924 493h1v1h1v1h-1v1h-1v-1h-1v-1h1zM924 494h1v1h1v1h-1v1h-1v-1h-1v-1h1zM924 495h1v1h1v1h-1v1h-1v-1h-1v-1h1zM924 498h1v1h1v1h-1v1h-1v-1h-1v-1h1zM924 499h1v1h1v1h-1v1h-1v-1h-1v-1h1zM925 495h1v1h1v1h-1v1h-1v-1h-1v-1h1zM925 496h1v1h1v1h-1v1h-1v-1h-1v-1h1zM926 490h1v1h1v1h-1v1h-1v-1h-1v-1h1zM926 494h1v1h1v1h-1v1h-1v-1h-1v-1h1zM926 497h1v1h1v1h-1v1h-1v-1h-1v-1h1zM926 498h1v1h1v1h-1v1h-1v-1h-1v-1h1zM926 499h1v1h1v1h-1v1h-1v-1h-1v-1h1zM927 495h1v1h1v1h-1v1h-1v-1h-1v-1h1zM927 497h1v1h1v1h-1v1h-1v-1h-1v-1h1zM928 491h1v1h1v1h-1v1h-1v-1h-1v-1h1zM928 495h1v1h1v1h-1v1h-1v-1h-1v-1h1zM929 495h1v1h1v1h-1v1h-1v-1h-1v-1h1zM930 496h1v1h1v1h-1v1h-1v-1h-1v-1h1zM930 497h1v1h1v1h-1v1h-1v-1h-1v-1h1zM930 499h1v1h1v1h-1v1h-1v-1h-1v-1h1zM931 494h1v1h1v1h-1v1h-1v-1h-1v-1h1zM931 496h1v1h1v1h-1v1h-1v-1h-1v-1h1zM931 499h1v1h1v1h-1v1h-1v-1h-1v-1h1zM932 496h1v1h1v1h-1v1h-1v-1h-1v-1h1zM933 495h1v1h1v1h-1v1h-1v-1h-1v-1h1zM933 497h1v1h1v1h-1v1h-1v-1h-1v-1h1zM933 498h1v1h1v1h-1v1h-1v-1h-1v-1h1zM933 499h1v1h1v1h-1v1h-1v-1h-1v-1h1zM934 496h1v1h1v1h-1v1h-1v-1h-1v-1h1zM935 495h1v1h1v1h-1v1h-1v-1h-1v-1h1zM935 498h1v1h1v1h-1v1h-1v-1h-1v-1h1zM936 495h1v1h1v1h-1v1h-1v-1h-1v-1h1zM936 496h1v1h1v1h-1v1h-1v-1h-1v-1h1zM937 495h1v1h1v1h-1v1h-1v-1h-1v-1h1zM937 498h1v1h1v1h-1v1h-1v-1h-1v-1h1zM938 496h1v1h1v1h-1v1h-1v-1h-1v-1h1zM938 499h1v1h1v1h-1v1h-1v-1h-1v-1h1zM939 493h1v1h1v1h-1v1h-1v-1h-1v-1h1zM939 496h1v1h1v1h-1v1h-1v-1h-1v-1h1zM940 497h1v1h1v1h-1v1h-1v-1h-1v-1h1zM941 495h1v1h1v1h-1v1h-1v-1h-1v-1h1zM941 499h1v1h1v1h-1v1h-1v-1h-1v-1h1zM942 492h1v1h1v1h-1v1h-1v-1h-1v-1h1zM942 497h1v1h1v1h-1v1h-1v-1h-1v-1h1zM942 499h1v1h1v1h-1v1h-1v-1h-1v-1h1zM943 496h1v1h1v1h-1v1h-1v-1h-1v-1h1zM943 499h1v1h1v1h-1v1h-1v-1h-1v-1h1zM944 495h1v1h1v1h-1v1h-1v-1h-1v-1h1zM944 499h1v1h1v1h-1v1h-1v-1h-1v-1h1zM945 496h1v1h1v1h-1v1h-1v-1h-1v-1h1zM945 499h1v1h1v1h-1v1h-1v-1h-1v-1h1zM946 499h1v1h1v1h-1v1h-1v-1h-1v-1h1zM947 499h1v1h1v1h-1v1h-1v-1h-1v-1h1zM949 498h1v1h1v1h-1v1h-1v-1h-1v-1h1zM949 499h1v1h1v1h-1v1h-1v-1h-1v-1h1zM950 499h1v1h1v1h-1v1h-1v-1h-1v-1h1zM951 499h1v1h1v1h-1v1h-1v-1h-1v-1h1zM954 499h1v1h1v1h-1v1h-1v-1h-1v-1h1zM955 496h1v1h1v1h-1v1h-1v-1h-1v-1h1zM955 499h1v1h1v1h-1v1h-1v-1h-1v-1h1zM956 499h1v1h1v1h-1v1h-1v-1h-1v-1h1zM957 499h1v1h1v1h-1v1h-1v-1h-1v-1h1zM958 499h1v1h1v1h-1v1h-1v-1h-1v-1h1zM959 499h1v1h1v1h-1v1h-1v-1h-1v-1h1zM960 499h1v1h1v1h-1v1h-1v-1h-1v-1h1zM961 499h1v1h1v1h-1v1h-1v-1h-1v-1h1zM962 499h1v1h1v1h-1v1h-1v-1h-1v-1h1zM965 499h1v1h1v1h-1v1h-1v-1h-1v-1h1zM969 499h1v1h1v1h-1v1h-1v-1h-1v-1h1zM971 499h1v1h1v1h-1v1h-1v-1h-1v-1h1zM976 499h1v1h1v1h-1v1h-1v-1h-1v-1h1zM979 499h1v1h1v1h-1v1h-1v-1h-1v-1h1zM982 499h1v1h1v1h-1v1h-1v-1h-1v-1h1zM984 499h1v1h1v1h-1v1h-1v-1h-1v-1h1zM992 499h1v1h1v1h-1v1h-1v-1h-1v-1h1zM999 77h1v1h1v1h-1v1h-1v-1h-1v-1h1zM1014 498h1v1h1v1h-1v1h-1v-1h-1v-1h1zM1022 498h1v1h1v1h-1v1h-1v-1h-1v-1h1zM1028 497h1v1h1v1h-1v1h-1v-1h-1v-1h1zM1042 496h1v1h1v1h-1v1h-1v-1h-1v-1h1zM1044 57h1v1h1v1h-1v1h-1v-1h-1v-1h1zM1049 496h1v1h1v1h-1v1h-1v-1h-1v-1h1zM1050 74h1v1h1v1h-1v1h-1v-1h-1v-1h1z" fill="#f00" stroke="none"/><path d="M697 406h7v7h-7zM697 408h7v7h-7zM697 410h7v7h-7zM698 412h7v7h-7zM698 414h7v7h-7zM698 416h7v7h-7zM698 418h7v7h-7zM699 421h7v7h-7zM699 423h7v7h-7zM699 425h7v7h-7zM700 427h7v7h-7zM700 429h7v7h-7zM701 432h7v7h-7zM702 434h7v7h-7zM702 436h7v7h-7zM703 438h7v7h-7zM704 440h7v7h-7zM705 442h7v7h-7zM706 444h7v7h-7zM707 446h7v7h-7zM708 448h7v7h-7zM710 450h7v7h-7zM711 452h7v7h-7zM712 453h7v7h-7zM714 455h7v7h-7zM716 456h7v7h-7zM717 458h7v7h-7zM719 459h7v7h-7zM721 461h7v7h-7zM723 462h7v7h-7zM725 464h7v7h-7zM727 465h7v7h-7zM729 466h7v7h-7zM730 467h7v7h-7zM732 468h7v7h-7zM734 469h7v7h-7zM737 470h7v7h-7zM739 471h7v7h-7zM741 472h7v7h-7zM743 473h7v7h-7zM745 474h7v7h-7zM747 475h7v7h-7zM749 476h7v7h-7zM751 477h7v7h-7zM754 478h7v7h-7zM756 478h7v7h-7zM758 479h7v7h-7zM760 480h7v7h-7zM762 481h7v7h-7zM764 481h7v7h-7zM766 482h7v7h-7zM768 482h7v7h-7zM770 483h7v7h-7zM772 483h7v7h-7zM783 486h7v7h-7zM791 487h7v7h-7zM801 489h7v7h-7zM807 489h7v7h-7zM817 490h7v7h-7zM822 491h7v7h-7zM826 492h7v7h-7zM830 492h7v7h-7zM835 493h7v7h-7zM839 493h7v7h-7zM844 494h7v7h-7zM848 494h7v7h-7zM853 495h7v7h-7zM864 496h7v7h-7zM871 496h7v7h-7zM883 497h7v7h-7zM892 497h7v7h-7zM899 497h7v7h-7zM914 497h7v7h-7zM919 498h7v7h-7zM924 498h7v7h-7zM930 498h7v7h-7zM941 498h7v7h-7z" fill="#800000" stroke="none"/>
<path d="M690 45h371v470h-371z M691 46v468h369v-468z" fill="#000" fill-rule="evenodd" stroke="none"/>
<path d="M700 515h1v6h-1zM798 515h1v6h-1zM895 515h1v6h-1zM993 515h1v6h-1zM720 515h1v3h-1zM739 515h1v3h-1zM759 515h1v3h-1zM778 515h1v3h-1zM817 515h1v3h-1zM837 515h1v3h-1zM856 515h1v3h-1zM876 515h1v3h-1zM915 515h1v3h-1zM934 515h1v3h-1zM954 515h1v3h-1zM973 515h1v3h-1zM1012 515h1v3h-1zM1032 515h1v3h-1zM1051 515h1v3h-1zM685 132h5v1h-5zM685 255h5v1h-5zM685 378h5v1h-5zM685 501h5v1h-5zM687 476h3v1h-3zM687 452h3v1h-3zM687 427h3v1h-3zM687 402h3v1h-3zM687 353h3v1h-3zM687 329h3v1h-3zM687 304h3v1h-3zM687 280h3v1h-3zM687 230h3v1h-3zM687 206h3v1h-3zM687 181h3v1h-3zM687 157h3v1h-3zM687 108h3v1h-3zM687 83h3v1h-3zM687 58h3v1h-3z" fill="#000" stroke="none"/>
<text transform="translate(700.5 532) scale(1 1.12)" text-anchor="middle" textLength="5.8" lengthAdjust="spacingAndGlyphs">0</text>
<text transform="translate(798.5 532) scale(1 1.12)" text-anchor="middle" textLength="23.4" lengthAdjust="spacingAndGlyphs">5000</text>
<text transform="translate(895.5 532) scale(1 1.12)" text-anchor="middle" textLength="29.2" lengthAdjust="spacingAndGlyphs">10000</text>
<text transform="translate(993.5 532) scale(1 1.12)" text-anchor="middle" textLength="29.2" lengthAdjust="spacingAndGlyphs">15000</text>
<text transform="translate(682 136.8) scale(1 1.12)" text-anchor="end" textLength="29.2" lengthAdjust="spacingAndGlyphs">30000</text>
<text transform="translate(682 259.8) scale(1 1.12)" text-anchor="end" textLength="29.2" lengthAdjust="spacingAndGlyphs">20000</text>
<text transform="translate(682 382.8) scale(1 1.12)" text-anchor="end" textLength="29.2" lengthAdjust="spacingAndGlyphs">10000</text>
<text transform="translate(682 505.8) scale(1 1.12)" text-anchor="end" textLength="5.8" lengthAdjust="spacingAndGlyphs">0</text>
<text transform="translate(690.9 40) scale(1 1.12)" text-anchor="start" textLength="71.8" lengthAdjust="spacingAndGlyphs">moved ellipsoid</text>
<text transform="translate(875.5 547) scale(1 1.12)" text-anchor="middle" textLength="49.0" lengthAdjust="spacingAndGlyphs">rotellipsoid</text>
</svg>

<div class="panel"><i></i><b></b></div>
<div class="lbl" style="left:463px;top:41px;letter-spacing:-0.09px">Файл: dbq180708071920.txt</div>
<div class="lbl bold" style="left:470.6px;top:65px;letter-spacing:0.4px">Променливи:</div>
<div class="list" style="top:80px">
  <div class="item" style="top:1px"><div class="cb"><svg width="9" height="9" viewBox="0 0 9 9" shape-rendering="crispEdges"><path d="M7 1h1v3h-1zM6 2h1v3h-1zM5 3h1v3h-1zM4 4h1v3h-1zM3 5h1v3h-1zM2 4h1v3h-1zM1 3h1v3h-1z" fill="#000"/></svg></div><span style="letter-spacing:-0.45px">var1</span></div>
  <div class="focus"></div>
  <div class="item" style="top:14px"><div class="cb"><svg width="9" height="9" viewBox="0 0 9 9" shape-rendering="crispEdges"><path d="M7 1h1v3h-1zM6 2h1v3h-1zM5 3h1v3h-1zM4 4h1v3h-1zM3 5h1v3h-1zM2 4h1v3h-1zM1 3h1v3h-1z" fill="#000"/></svg></div><span style="letter-spacing:-0.45px">var2</span></div>
</div>
<div class="lbl bold" style="left:470.6px;top:225px;letter-spacing:0.45px">Функции:</div>
<div class="list" style="top:240px">
  <div class="item" style="top:1px"><div class="cb"><svg width="9" height="9" viewBox="0 0 9 9" shape-rendering="crispEdges"><path d="M7 1h1v3h-1zM6 2h1v3h-1zM5 3h1v3h-1zM4 4h1v3h-1zM3 5h1v3h-1zM2 4h1v3h-1zM1 3h1v3h-1z" fill="#000"/></svg></div><span>rotellipsoid</span></div>
  <div class="item" style="top:14px"><div class="cb"><svg width="9" height="9" viewBox="0 0 9 9" shape-rendering="crispEdges"><path d="M7 1h1v3h-1zM6 2h1v3h-1zM5 3h1v3h-1zM4 4h1v3h-1zM3 5h1v3h-1zM2 4h1v3h-1zM1 3h1v3h-1z" fill="#000"/></svg></div><span>moved ellipsoid</span></div>
</div>
<div class="btnw" style="top:392px"><div class="btn"><span>Изчертай</span></div></div>
<div class="btnw" style="top:416px"><div class="btn dis"><span>Изтрий маркери</span></div></div>
<div class="btnw" style="top:440px"><div class="btn dis"><span>Отпечати маркери</span></div></div>
</body>
</html>
